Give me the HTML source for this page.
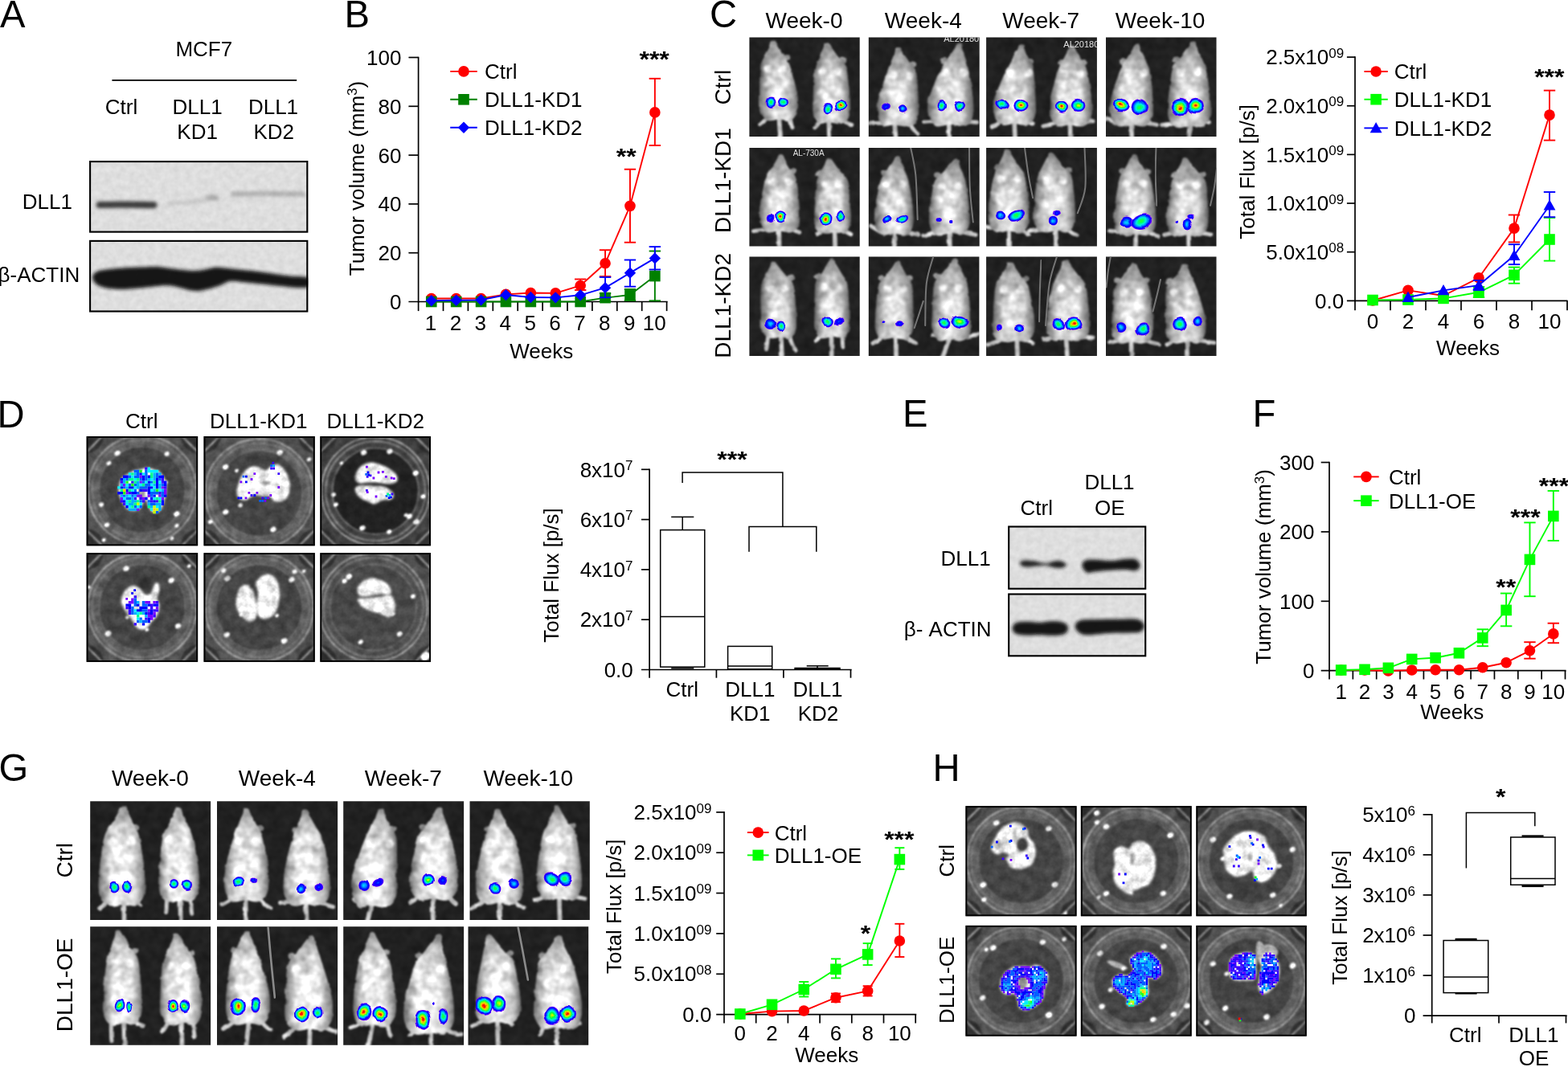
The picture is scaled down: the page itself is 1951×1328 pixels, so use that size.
<!DOCTYPE html>
<html lang="en"><head><meta charset="utf-8"><title>Figure</title>
<style>
html,body{margin:0;padding:0;background:#fff;}
body{width:1951px;height:1328px;overflow:hidden;}
svg{display:block;font-family:"Liberation Sans", sans-serif;}
</style></head><body>
<svg width="1951" height="1328" viewBox="0 0 1951 1328">
<defs>
<filter id="fur" x="0" y="0" width="1" height="1" color-interpolation-filters="sRGB">
<feTurbulence type="fractalNoise" baseFrequency="0.08" numOctaves="2" seed="7" result="n"/>
<feDisplacementMap in="SourceGraphic" in2="n" scale="3.5" xChannelSelector="R" yChannelSelector="G" result="d"/>
<feGaussianBlur in="d" stdDeviation="1" result="b"/>
<feColorMatrix in="n" type="matrix" values="1 0 0 0 0 1 0 0 0 0 1 0 0 0 0 0 0 0 0 1" result="g"/>
<feComposite in="b" in2="g" operator="arithmetic" k1="0.6" k2="0.72" k3="0" k4="0"/>
</filter>
<filter id="well" x="0" y="0" width="1" height="1" color-interpolation-filters="sRGB">
<feTurbulence type="fractalNoise" baseFrequency="0.09" numOctaves="3" seed="11" result="n"/>
<feGaussianBlur in="SourceGraphic" stdDeviation="0.8" result="b"/>
<feColorMatrix in="n" type="matrix" values="1 0 0 0 0 1 0 0 0 0 1 0 0 0 0 0 0 0 0 1" result="g"/>
<feComposite in="b" in2="g" operator="arithmetic" k1="0.6" k2="0.71" k3="0" k4="0"/>
</filter>
<filter id="blot" x="0" y="0" width="1" height="1" color-interpolation-filters="sRGB">
<feTurbulence type="fractalNoise" baseFrequency="0.13" numOctaves="2" seed="5" result="n"/>
<feColorMatrix in="n" type="matrix" values="1 0 0 0 0 1 0 0 0 0 1 0 0 0 0 0 0 0 0 1" result="g"/>
<feComposite in="SourceGraphic" in2="g" operator="arithmetic" k1="0.1" k2="0.95" k3="0" k4="0"/>
</filter>
<filter id="bb" x="0" y="0" width="1" height="1"><feGaussianBlur stdDeviation="2.1"/></filter>
<filter id="b05"><feGaussianBlur stdDeviation="0.5"/></filter>
<filter id="bl" x="-5%" y="-5%" width="110%" height="110%" color-interpolation-filters="sRGB"><feTurbulence type="fractalNoise" baseFrequency="0.07" numOctaves="1" seed="3" result="n"/><feDisplacementMap in="SourceGraphic" in2="n" scale="6" xChannelSelector="R" yChannelSelector="G" result="d"/><feGaussianBlur in="d" stdDeviation="0.6"/></filter>
<filter id="b1"><feGaussianBlur stdDeviation="1"/></filter>
<filter id="b2" x="-30%" y="-30%" width="160%" height="160%"><feGaussianBlur stdDeviation="2"/></filter>
<filter id="b3" x="-30%" y="-30%" width="160%" height="160%"><feGaussianBlur stdDeviation="3"/></filter>
<linearGradient id="mg" x1="0" y1="0" x2="0" y2="1">
<stop offset="0" stop-color="#868686"/><stop offset="0.12" stop-color="#9c9c9c"/><stop offset="0.24" stop-color="#b4b4b4"/><stop offset="0.36" stop-color="#c6c6c6"/><stop offset="0.6" stop-color="#cecece"/><stop offset="0.85" stop-color="#d8d8d8"/><stop offset="1" stop-color="#d0d0d0"/>
</linearGradient>
<linearGradient id="mg2" x1="0" y1="0" x2="0" y2="1">
<stop offset="0" stop-color="#8e8e8e"/><stop offset="0.1" stop-color="#b0b0b0"/><stop offset="0.22" stop-color="#cecece"/><stop offset="0.36" stop-color="#dcdcdc"/><stop offset="0.6" stop-color="#e4e4e4"/><stop offset="0.85" stop-color="#ececec"/><stop offset="1" stop-color="#e0e0e0"/>
</linearGradient>
<linearGradient id="ms" x1="0" y1="0" x2="1" y2="0">
<stop offset="0" stop-color="#000" stop-opacity="0.55"/><stop offset="0.1" stop-color="#000" stop-opacity="0.3"/><stop offset="0.24" stop-color="#000" stop-opacity="0.08"/><stop offset="0.4" stop-color="#000" stop-opacity="0"/><stop offset="0.6" stop-color="#000" stop-opacity="0"/><stop offset="0.76" stop-color="#000" stop-opacity="0.08"/><stop offset="0.9" stop-color="#000" stop-opacity="0.3"/><stop offset="1" stop-color="#000" stop-opacity="0.55"/>
</linearGradient>
<radialGradient id="me" cx="0.5" cy="0.55" r="0.6" gradientTransform="translate(0.5 0.5) scale(0.8 1) translate(-0.5 -0.5)">
<stop offset="0" stop-color="#000" stop-opacity="0"/><stop offset="0.8" stop-color="#000" stop-opacity="0"/><stop offset="1" stop-color="#000" stop-opacity="0.12"/>
</radialGradient>
<radialGradient id="h5"><stop offset="0" stop-color="#ff0000"/><stop offset="0.12" stop-color="#ff2000"/><stop offset="0.26" stop-color="#ffd000"/><stop offset="0.4" stop-color="#80ff00"/><stop offset="0.52" stop-color="#00ff60"/><stop offset="0.64" stop-color="#00e0ff"/><stop offset="0.76" stop-color="#0060ff"/><stop offset="0.86" stop-color="#0000ff"/><stop offset="0.95" stop-color="#5000ff"/><stop offset="1" stop-color="#9000ff"/></radialGradient>
<radialGradient id="h4"><stop offset="0" stop-color="#ffe000"/><stop offset="0.15" stop-color="#a0ff00"/><stop offset="0.34" stop-color="#00ff40"/><stop offset="0.52" stop-color="#00ffd0"/><stop offset="0.68" stop-color="#0080ff"/><stop offset="0.84" stop-color="#0000ff"/><stop offset="0.95" stop-color="#5000ff"/><stop offset="1" stop-color="#9000ff"/></radialGradient>
<radialGradient id="h3"><stop offset="0" stop-color="#30ff20"/><stop offset="0.25" stop-color="#00ff70"/><stop offset="0.45" stop-color="#00f0e0"/><stop offset="0.64" stop-color="#0080ff"/><stop offset="0.82" stop-color="#0000ff"/><stop offset="0.95" stop-color="#5000ff"/><stop offset="1" stop-color="#9000ff"/></radialGradient>
<radialGradient id="h2"><stop offset="0" stop-color="#00e0ff"/><stop offset="0.3" stop-color="#00a0ff"/><stop offset="0.6" stop-color="#0020ff"/><stop offset="0.82" stop-color="#0000ff"/><stop offset="0.95" stop-color="#5000ff"/><stop offset="1" stop-color="#9000ff"/></radialGradient>
<radialGradient id="h1"><stop offset="0" stop-color="#0050ff"/><stop offset="0.4" stop-color="#0000ff"/><stop offset="0.85" stop-color="#3000ff"/><stop offset="1" stop-color="#9000ff"/></radialGradient>
<clipPath id="c1"><rect x="932.4" y="46.4" width="137.3" height="123.7"/></clipPath>
<clipPath id="c2"><rect x="1080.8" y="46.4" width="137.9" height="123.7"/></clipPath>
<clipPath id="c3"><rect x="1227.1" y="46.4" width="137.8" height="123.7"/></clipPath>
<clipPath id="c4"><rect x="1376.0" y="46.4" width="137.5" height="123.7"/></clipPath>
<clipPath id="c5"><rect x="932.4" y="184.0" width="137.3" height="122.6"/></clipPath>
<clipPath id="c6"><rect x="1080.8" y="184.0" width="137.9" height="122.6"/></clipPath>
<clipPath id="c7"><rect x="1227.1" y="184.0" width="137.8" height="122.6"/></clipPath>
<clipPath id="c8"><rect x="1376.0" y="184.0" width="137.5" height="122.6"/></clipPath>
<clipPath id="c9"><rect x="932.4" y="319.6" width="137.3" height="123.3"/></clipPath>
<clipPath id="c10"><rect x="1080.8" y="319.6" width="137.6" height="123.3"/></clipPath>
<clipPath id="c11"><rect x="1227.1" y="319.6" width="137.8" height="123.3"/></clipPath>
<clipPath id="c12"><rect x="1376.0" y="319.6" width="137.5" height="123.3"/></clipPath>
<clipPath id="c13"><rect x="112.2" y="997.2" width="149.9" height="147.7"/></clipPath>
<clipPath id="c14"><rect x="270.0" y="997.2" width="150.1" height="147.7"/></clipPath>
<clipPath id="c15"><rect x="427.2" y="997.2" width="149.9" height="147.7"/></clipPath>
<clipPath id="c16"><rect x="584.5" y="997.2" width="149.3" height="147.7"/></clipPath>
<clipPath id="c17"><rect x="112.2" y="1153.2" width="149.9" height="147.5"/></clipPath>
<clipPath id="c18"><rect x="270.0" y="1153.2" width="150.1" height="147.5"/></clipPath>
<clipPath id="c19"><rect x="427.2" y="1153.2" width="149.9" height="147.5"/></clipPath>
<clipPath id="c20"><rect x="582.5" y="1153.2" width="149.7" height="147.5"/></clipPath>
<clipPath id="c21"><rect x="107.7" y="543.1" width="138.4" height="136.1"/></clipPath>
<clipPath id="c22"><rect x="253.6" y="543.1" width="138.1" height="136.1"/></clipPath>
<clipPath id="c23"><rect x="398.4" y="543.1" width="137.6" height="136.1"/></clipPath>
<clipPath id="c24"><rect x="107.7" y="688.2" width="138.4" height="135.6"/></clipPath>
<clipPath id="c25"><rect x="253.6" y="688.2" width="138.1" height="135.6"/></clipPath>
<clipPath id="c26"><rect x="398.4" y="688.2" width="137.6" height="135.6"/></clipPath>
<clipPath id="c27"><rect x="1201.5" y="1003.2" width="138.0" height="137.0"/></clipPath>
<clipPath id="c28"><rect x="1344.9" y="1003.2" width="137.7" height="137.0"/></clipPath>
<clipPath id="c29"><rect x="1488.4" y="1003.2" width="137.3" height="137.0"/></clipPath>
<clipPath id="c30"><rect x="1201.5" y="1151.9" width="138.0" height="137.7"/></clipPath>
<clipPath id="c31"><rect x="1344.9" y="1151.9" width="137.7" height="137.7"/></clipPath>
<clipPath id="c32"><rect x="1488.4" y="1151.9" width="137.3" height="137.7"/></clipPath>
<clipPath id="c33"><rect x="111.1" y="200.0" width="272.3" height="89.6"/></clipPath>
<clipPath id="c34"><rect x="111.1" y="298.8" width="272.3" height="89.7"/></clipPath>
<clipPath id="c35"><rect x="1254.2" y="654.5" width="172.1" height="79.3"/></clipPath>
<clipPath id="c36"><rect x="1254.2" y="738.5" width="172.1" height="78.9"/></clipPath>
</defs>
<rect width="1951" height="1328" fill="#fff"/>
<g clip-path="url(#c1)">
<g filter="url(#fur)">
<rect x="924.4" y="38.4" width="153.3" height="139.7" fill="#202020"/>
<path d="M969.3 144.4Q970.2 159.9 971.2 171.4" stroke="#c4c4c4" stroke-width="5.6" fill="none" stroke-linecap="round"/>
<path d="M954.8 145.4Q950.1 152.5 945.4 155.5" stroke="#c4c4c4" stroke-width="5" fill="none" stroke-linecap="round"/>
<path d="M982.9 145.4Q984.4 155.7 985.9 158.7" stroke="#c4c4c4" stroke-width="5" fill="none" stroke-linecap="round"/>
<ellipse cx="978.9" cy="71.7" rx="4.4" ry="3.6" fill="#8e8e8e"/>
<path d="M960.2 51.1C961.4 50.2 963.6 50.2 964.9 51.1C966.2 52.1 966.5 54.3 968.0 57.0C969.6 59.7 972.0 63.4 974.3 67.3C976.7 71.1 979.9 74.6 982.2 80.0C984.4 85.3 986.2 93.0 987.9 99.5C989.6 106.0 991.6 112.9 992.3 119.1C993.0 125.2 993.1 132.0 992.3 136.6C991.5 141.3 989.5 144.6 987.6 146.9C985.7 149.2 984.0 150.1 981.0 150.3C977.9 150.6 973.2 148.4 969.3 148.4C965.4 148.4 960.7 150.6 957.5 150.3C954.3 150.1 952.1 149.2 950.1 146.9C948.1 144.6 946.2 141.3 945.4 136.6C944.6 132.0 945.4 125.2 945.4 119.1C945.4 112.9 945.2 106.0 945.4 99.5C945.7 93.0 945.6 85.3 946.8 80.0C948.1 74.6 951.1 71.1 953.0 67.3C954.9 63.4 956.9 59.7 958.1 57.0C959.3 54.3 959.1 52.1 960.2 51.1Z" fill="url(#mg)"/>
<path d="M960.2 51.1C961.4 50.2 963.6 50.2 964.9 51.1C966.2 52.1 966.5 54.3 968.0 57.0C969.6 59.7 972.0 63.4 974.3 67.3C976.7 71.1 979.9 74.6 982.2 80.0C984.4 85.3 986.2 93.0 987.9 99.5C989.6 106.0 991.6 112.9 992.3 119.1C993.0 125.2 993.1 132.0 992.3 136.6C991.5 141.3 989.5 144.6 987.6 146.9C985.7 149.2 984.0 150.1 981.0 150.3C977.9 150.6 973.2 148.4 969.3 148.4C965.4 148.4 960.7 150.6 957.5 150.3C954.3 150.1 952.1 149.2 950.1 146.9C948.1 144.6 946.2 141.3 945.4 136.6C944.6 132.0 945.4 125.2 945.4 119.1C945.4 112.9 945.2 106.0 945.4 99.5C945.7 93.0 945.6 85.3 946.8 80.0C948.1 74.6 951.1 71.1 953.0 67.3C954.9 63.4 956.9 59.7 958.1 57.0C959.3 54.3 959.1 52.1 960.2 51.1Z" fill="url(#ms)"/>
<ellipse cx="968.9" cy="111.2" rx="14.1" ry="19.5" fill="#fff" opacity="0.4" filter="url(#b2)"/>
<ellipse cx="955.1" cy="85.8" rx="4.7" ry="4.9" fill="#fff" opacity="0.7" filter="url(#b1)"/>
<ellipse cx="973.9" cy="85.8" rx="4.7" ry="4.9" fill="#fff" opacity="0.7" filter="url(#b1)"/>
<path d="M1031.2 148.3Q1031.6 161.9 1032.0 171.4" stroke="#c4c4c4" stroke-width="5.6" fill="none" stroke-linecap="round"/>
<path d="M1021.0 149.4Q1017.4 155.7 1013.7 158.7" stroke="#c4c4c4" stroke-width="5" fill="none" stroke-linecap="round"/>
<path d="M1048.3 149.4Q1054.1 154.0 1059.8 155.5" stroke="#c4c4c4" stroke-width="5" fill="none" stroke-linecap="round"/>
<ellipse cx="1048.9" cy="74.4" rx="4.4" ry="3.6" fill="#8e8e8e"/>
<path d="M1026.1 53.5C1027.1 52.5 1029.2 52.5 1030.6 53.5C1032.1 54.5 1032.9 56.8 1034.9 59.5C1036.9 62.2 1039.6 66.0 1042.4 69.9C1045.3 73.8 1049.9 77.4 1052.1 82.8C1054.3 88.3 1054.6 96.1 1055.5 102.7C1056.3 109.3 1057.1 116.3 1057.4 122.6C1057.8 128.8 1058.2 135.7 1057.4 140.4C1056.7 145.1 1055.4 148.5 1052.9 150.9C1050.4 153.2 1046.2 154.1 1042.6 154.3C1039.0 154.6 1035.0 152.3 1031.2 152.3C1027.4 152.3 1022.3 154.6 1019.8 154.3C1017.4 154.1 1017.7 153.2 1016.4 150.9C1015.1 148.5 1012.6 145.1 1011.8 140.4C1011.1 135.7 1011.7 128.8 1011.8 122.6C1011.9 116.3 1012.0 109.3 1012.4 102.7C1012.8 96.1 1013.1 88.3 1014.3 82.8C1015.5 77.4 1018.1 73.8 1019.7 69.9C1021.4 66.0 1023.3 62.2 1024.4 59.5C1025.4 56.8 1025.0 54.5 1026.1 53.5Z" fill="url(#mg)"/>
<path d="M1026.1 53.5C1027.1 52.5 1029.2 52.5 1030.6 53.5C1032.1 54.5 1032.9 56.8 1034.9 59.5C1036.9 62.2 1039.6 66.0 1042.4 69.9C1045.3 73.8 1049.9 77.4 1052.1 82.8C1054.3 88.3 1054.6 96.1 1055.5 102.7C1056.3 109.3 1057.1 116.3 1057.4 122.6C1057.8 128.8 1058.2 135.7 1057.4 140.4C1056.7 145.1 1055.4 148.5 1052.9 150.9C1050.4 153.2 1046.2 154.1 1042.6 154.3C1039.0 154.6 1035.0 152.3 1031.2 152.3C1027.4 152.3 1022.3 154.6 1019.8 154.3C1017.4 154.1 1017.7 153.2 1016.4 150.9C1015.1 148.5 1012.6 145.1 1011.8 140.4C1011.1 135.7 1011.7 128.8 1011.8 122.6C1011.9 116.3 1012.0 109.3 1012.4 102.7C1012.8 96.1 1013.1 88.3 1014.3 82.8C1015.5 77.4 1018.1 73.8 1019.7 69.9C1021.4 66.0 1023.3 62.2 1024.4 59.5C1025.4 56.8 1025.0 54.5 1026.1 53.5Z" fill="url(#ms)"/>
<ellipse cx="1034.6" cy="114.6" rx="13.7" ry="19.9" fill="#fff" opacity="0.4" filter="url(#b2)"/>
<ellipse cx="1024.1" cy="88.8" rx="4.6" ry="5.0" fill="#fff" opacity="0.7" filter="url(#b1)"/>
<ellipse cx="1042.3" cy="88.8" rx="4.6" ry="5.0" fill="#fff" opacity="0.7" filter="url(#b1)"/>
</g>
<g filter="url(#bl)">
<ellipse cx="959.4" cy="127.2" rx="6.0" ry="6.7" fill="url(#h3)"/>
<ellipse cx="974.0" cy="126.6" rx="6.0" ry="6.7" fill="url(#h3)"/>
<ellipse cx="1029.6" cy="135.2" rx="6.0" ry="7.3" fill="url(#h3)"/>
<ellipse cx="1045.8" cy="131.7" rx="7.9" ry="6.4" fill="url(#h5)" transform="rotate(-20 1045.8 131.7)"/>
</g>
</g>
<g clip-path="url(#c2)">
<g filter="url(#fur)">
<rect x="1072.8" y="38.4" width="153.9" height="139.7" fill="#202020"/>
<path d="M1113.1 151.5Q1113.8 163.5 1114.6 171.4" stroke="#c4c4c4" stroke-width="5.6" fill="none" stroke-linecap="round"/>
<path d="M1102.4 152.6Q1091.8 151.6 1081.3 153.1" stroke="#c4c4c4" stroke-width="5" fill="none" stroke-linecap="round"/>
<path d="M1132.4 152.6Q1137.0 163.6 1141.7 166.6" stroke="#c4c4c4" stroke-width="5" fill="none" stroke-linecap="round"/>
<ellipse cx="1135.9" cy="80.1" rx="4.4" ry="3.6" fill="#8e8e8e"/>
<path d="M1114.5 59.9C1115.6 58.9 1118.1 58.9 1119.5 59.9C1121.0 60.8 1121.4 63.0 1123.2 65.6C1125.0 68.3 1127.7 72.0 1130.4 75.7C1133.1 79.5 1137.5 82.9 1139.4 88.2C1141.2 93.5 1141.1 101.1 1141.7 107.5C1142.2 113.9 1142.3 120.6 1142.5 126.7C1142.6 132.8 1143.3 139.4 1142.5 144.0C1141.6 148.6 1140.3 151.8 1137.4 154.1C1134.6 156.3 1129.6 157.2 1125.6 157.4C1121.5 157.7 1117.2 155.5 1113.1 155.5C1108.9 155.5 1103.2 157.7 1100.5 157.4C1097.9 157.2 1098.8 156.3 1097.4 154.1C1096.0 151.8 1093.2 148.6 1092.4 144.0C1091.6 139.4 1091.5 132.8 1092.4 126.7C1093.3 120.6 1095.6 113.9 1097.6 107.5C1099.5 101.1 1102.3 93.5 1104.2 88.2C1106.1 82.9 1107.5 79.5 1109.0 75.7C1110.5 72.0 1112.4 68.3 1113.3 65.6C1114.2 63.0 1113.5 60.8 1114.5 59.9Z" fill="url(#mg)"/>
<path d="M1114.5 59.9C1115.6 58.9 1118.1 58.9 1119.5 59.9C1121.0 60.8 1121.4 63.0 1123.2 65.6C1125.0 68.3 1127.7 72.0 1130.4 75.7C1133.1 79.5 1137.5 82.9 1139.4 88.2C1141.2 93.5 1141.1 101.1 1141.7 107.5C1142.2 113.9 1142.3 120.6 1142.5 126.7C1142.6 132.8 1143.3 139.4 1142.5 144.0C1141.6 148.6 1140.3 151.8 1137.4 154.1C1134.6 156.3 1129.6 157.2 1125.6 157.4C1121.5 157.7 1117.2 155.5 1113.1 155.5C1108.9 155.5 1103.2 157.7 1100.5 157.4C1097.9 157.2 1098.8 156.3 1097.4 154.1C1096.0 151.8 1093.2 148.6 1092.4 144.0C1091.6 139.4 1091.5 132.8 1092.4 126.7C1093.3 120.6 1095.6 113.9 1097.6 107.5C1099.5 101.1 1102.3 93.5 1104.2 88.2C1106.1 82.9 1107.5 79.5 1109.0 75.7C1110.5 72.0 1112.4 68.3 1113.3 65.6C1114.2 63.0 1113.5 60.8 1114.5 59.9Z" fill="url(#ms)"/>
<ellipse cx="1117.4" cy="119.0" rx="15.0" ry="19.2" fill="#fff" opacity="0.4" filter="url(#b2)"/>
<ellipse cx="1111.8" cy="94.0" rx="5.0" ry="4.8" fill="#fff" opacity="0.7" filter="url(#b1)"/>
<ellipse cx="1131.8" cy="94.0" rx="5.0" ry="4.8" fill="#fff" opacity="0.7" filter="url(#b1)"/>
<path d="M1180.6 151.5Q1181.0 163.5 1181.4 171.4" stroke="#c4c4c4" stroke-width="5.6" fill="none" stroke-linecap="round"/>
<path d="M1166.3 152.5Q1157.9 151.0 1149.6 152.3" stroke="#c4c4c4" stroke-width="5" fill="none" stroke-linecap="round"/>
<path d="M1199.7 152.5Q1207.6 151.0 1215.5 152.3" stroke="#c4c4c4" stroke-width="5" fill="none" stroke-linecap="round"/>
<ellipse cx="1175.0" cy="75.7" rx="4.4" ry="3.6" fill="#8e8e8e"/>
<path d="M1191.3 54.3C1192.8 53.3 1195.9 53.3 1196.9 54.3C1197.9 55.4 1196.5 57.6 1197.2 60.4C1197.8 63.2 1199.6 67.1 1200.8 71.1C1202.0 75.1 1203.1 78.7 1204.3 84.3C1205.6 89.9 1207.3 97.9 1208.4 104.7C1209.5 111.5 1210.4 118.6 1210.8 125.0C1211.2 131.5 1211.7 138.5 1210.8 143.3C1209.8 148.2 1207.9 151.6 1205.2 154.0C1202.5 156.4 1198.6 157.3 1194.5 157.6C1190.4 157.8 1185.2 155.5 1180.6 155.5C1175.9 155.5 1170.0 157.8 1166.7 157.6C1163.4 157.3 1162.6 156.4 1160.7 154.0C1158.8 151.6 1156.1 148.2 1155.2 143.3C1154.2 138.5 1154.0 131.5 1155.2 125.0C1156.4 118.6 1159.7 111.5 1162.3 104.7C1165.0 97.9 1168.1 89.9 1171.1 84.3C1174.1 78.7 1177.5 75.1 1180.3 71.1C1183.1 67.1 1185.9 63.2 1187.7 60.4C1189.5 57.6 1189.8 55.4 1191.3 54.3Z" fill="url(#mg)"/>
<path d="M1191.3 54.3C1192.8 53.3 1195.9 53.3 1196.9 54.3C1197.9 55.4 1196.5 57.6 1197.2 60.4C1197.8 63.2 1199.6 67.1 1200.8 71.1C1202.0 75.1 1203.1 78.7 1204.3 84.3C1205.6 89.9 1207.3 97.9 1208.4 104.7C1209.5 111.5 1210.4 118.6 1210.8 125.0C1211.2 131.5 1211.7 138.5 1210.8 143.3C1209.8 148.2 1207.9 151.6 1205.2 154.0C1202.5 156.4 1198.6 157.3 1194.5 157.6C1190.4 157.8 1185.2 155.5 1180.6 155.5C1175.9 155.5 1170.0 157.8 1166.7 157.6C1163.4 157.3 1162.6 156.4 1160.7 154.0C1158.8 151.6 1156.1 148.2 1155.2 143.3C1154.2 138.5 1154.0 131.5 1155.2 125.0C1156.4 118.6 1159.7 111.5 1162.3 104.7C1165.0 97.9 1168.1 89.9 1171.1 84.3C1174.1 78.7 1177.5 75.1 1180.3 71.1C1183.1 67.1 1185.9 63.2 1187.7 60.4C1189.5 57.6 1189.8 55.4 1191.3 54.3Z" fill="url(#ms)"/>
<ellipse cx="1183.0" cy="116.9" rx="16.7" ry="20.3" fill="#fff" opacity="0.4" filter="url(#b2)"/>
<ellipse cx="1176.6" cy="90.4" rx="5.6" ry="5.1" fill="#fff" opacity="0.7" filter="url(#b1)"/>
<ellipse cx="1198.9" cy="90.4" rx="5.6" ry="5.1" fill="#fff" opacity="0.7" filter="url(#b1)"/>
</g>
<text x="1174.2" y="52.2" font-size="11" fill="#e0e0e0" filter="url(#b05)">AL20180</text>
<g filter="url(#bl)">
<ellipse cx="1101.9" cy="133.0" rx="5.1" ry="4.4" fill="url(#h1)"/>
<ellipse cx="1123.7" cy="136.0" rx="6.0" ry="4.8" fill="url(#h2)"/>
<ellipse cx="1171.8" cy="131.7" rx="6.4" ry="6.7" fill="url(#h3)"/>
<ellipse cx="1194.1" cy="131.7" rx="7.0" ry="6.7" fill="url(#h3)"/>
</g>
</g>
<g clip-path="url(#c3)">
<g filter="url(#fur)">
<rect x="1219.1" y="38.4" width="153.8" height="139.7" fill="#202020"/>
<path d="M1262.1 149.9Q1262.5 162.7 1262.9 171.4" stroke="#c4c4c4" stroke-width="5.6" fill="none" stroke-linecap="round"/>
<path d="M1247.0 151.0Q1240.7 155.6 1234.3 157.1" stroke="#c4c4c4" stroke-width="5" fill="none" stroke-linecap="round"/>
<path d="M1278.0 151.0Q1281.6 152.4 1285.1 153.9" stroke="#c4c4c4" stroke-width="5" fill="none" stroke-linecap="round"/>
<ellipse cx="1281.6" cy="76.6" rx="4.4" ry="3.6" fill="#8e8e8e"/>
<path d="M1268.3 55.9C1269.5 54.9 1272.3 54.9 1273.4 55.9C1274.5 56.9 1273.9 59.1 1275.0 61.8C1276.0 64.5 1278.0 68.3 1279.7 72.2C1281.4 76.0 1283.9 79.6 1285.2 85.0C1286.5 90.4 1287.0 98.1 1287.5 104.7C1288.1 111.2 1288.2 118.1 1288.3 124.4C1288.5 130.6 1289.2 137.4 1288.3 142.1C1287.5 146.8 1285.4 150.2 1283.2 152.5C1280.9 154.8 1278.5 155.7 1275.0 155.9C1271.5 156.2 1266.4 153.9 1262.1 153.9C1257.8 153.9 1252.6 156.2 1249.2 155.9C1245.8 155.7 1243.9 154.8 1241.8 152.5C1239.8 150.2 1237.5 146.8 1236.7 142.1C1235.8 137.4 1235.4 130.6 1236.7 124.4C1237.9 118.1 1241.5 111.2 1244.2 104.7C1247.0 98.1 1250.7 90.4 1253.3 85.0C1256.0 79.6 1258.1 76.0 1260.2 72.2C1262.3 68.3 1264.5 64.5 1265.9 61.8C1267.2 59.1 1267.0 56.9 1268.3 55.9Z" fill="url(#mg)"/>
<path d="M1268.3 55.9C1269.5 54.9 1272.3 54.9 1273.4 55.9C1274.5 56.9 1273.9 59.1 1275.0 61.8C1276.0 64.5 1278.0 68.3 1279.7 72.2C1281.4 76.0 1283.9 79.6 1285.2 85.0C1286.5 90.4 1287.0 98.1 1287.5 104.7C1288.1 111.2 1288.2 118.1 1288.3 124.4C1288.5 130.6 1289.2 137.4 1288.3 142.1C1287.5 146.8 1285.4 150.2 1283.2 152.5C1280.9 154.8 1278.5 155.7 1275.0 155.9C1271.5 156.2 1266.4 153.9 1262.1 153.9C1257.8 153.9 1252.6 156.2 1249.2 155.9C1245.8 155.7 1243.9 154.8 1241.8 152.5C1239.8 150.2 1237.5 146.8 1236.7 142.1C1235.8 137.4 1235.4 130.6 1236.7 124.4C1237.9 118.1 1241.5 111.2 1244.2 104.7C1247.0 98.1 1250.7 90.4 1253.3 85.0C1256.0 79.6 1258.1 76.0 1260.2 72.2C1262.3 68.3 1264.5 64.5 1265.9 61.8C1267.2 59.1 1267.0 56.9 1268.3 55.9Z" fill="url(#ms)"/>
<ellipse cx="1262.5" cy="116.5" rx="15.5" ry="19.7" fill="#fff" opacity="0.4" filter="url(#b2)"/>
<ellipse cx="1258.9" cy="90.9" rx="5.2" ry="4.9" fill="#fff" opacity="0.7" filter="url(#b1)"/>
<ellipse cx="1279.6" cy="90.9" rx="5.2" ry="4.9" fill="#fff" opacity="0.7" filter="url(#b1)"/>
<path d="M1331.2 151.5Q1331.6 163.5 1332.0 171.4" stroke="#c4c4c4" stroke-width="5.6" fill="none" stroke-linecap="round"/>
<path d="M1316.9 152.5Q1307.4 155.6 1297.9 157.1" stroke="#c4c4c4" stroke-width="5" fill="none" stroke-linecap="round"/>
<path d="M1347.9 152.5Q1353.9 151.0 1359.8 150.8" stroke="#c4c4c4" stroke-width="5" fill="none" stroke-linecap="round"/>
<ellipse cx="1320.5" cy="77.6" rx="4.4" ry="3.6" fill="#8e8e8e"/>
<ellipse cx="1348.3" cy="77.6" rx="4.4" ry="3.6" fill="#8e8e8e"/>
<path d="M1331.0 56.7C1332.2 55.7 1334.9 55.7 1336.2 56.7C1337.5 57.7 1337.3 59.9 1338.8 62.7C1340.2 65.4 1342.5 69.2 1344.7 73.1C1346.9 77.0 1350.1 80.5 1351.9 86.0C1353.8 91.5 1354.8 99.3 1355.9 105.9C1356.9 112.5 1357.8 119.4 1358.2 125.7C1358.6 132.0 1359.1 138.9 1358.2 143.6C1357.4 148.3 1355.4 151.7 1353.1 154.0C1350.7 156.4 1347.8 157.3 1344.1 157.5C1340.5 157.8 1335.5 155.5 1331.2 155.5C1326.9 155.5 1321.6 157.8 1318.3 157.5C1315.1 157.3 1313.7 156.4 1311.8 154.0C1309.8 151.7 1307.5 148.3 1306.6 143.6C1305.7 138.9 1305.9 132.0 1306.6 125.7C1307.3 119.4 1309.3 112.5 1311.0 105.9C1312.7 99.3 1314.8 91.5 1316.9 86.0C1319.0 80.5 1321.4 77.0 1323.4 73.1C1325.4 69.2 1327.6 65.4 1328.9 62.7C1330.1 59.9 1329.8 57.7 1331.0 56.7Z" fill="url(#mg)"/>
<path d="M1331.0 56.7C1332.2 55.7 1334.9 55.7 1336.2 56.7C1337.5 57.7 1337.3 59.9 1338.8 62.7C1340.2 65.4 1342.5 69.2 1344.7 73.1C1346.9 77.0 1350.1 80.5 1351.9 86.0C1353.8 91.5 1354.8 99.3 1355.9 105.9C1356.9 112.5 1357.8 119.4 1358.2 125.7C1358.6 132.0 1359.1 138.9 1358.2 143.6C1357.4 148.3 1355.4 151.7 1353.1 154.0C1350.7 156.4 1347.8 157.3 1344.1 157.5C1340.5 157.8 1335.5 155.5 1331.2 155.5C1326.9 155.5 1321.6 157.8 1318.3 157.5C1315.1 157.3 1313.7 156.4 1311.8 154.0C1309.8 151.7 1307.5 148.3 1306.6 143.6C1305.7 138.9 1305.9 132.0 1306.6 125.7C1307.3 119.4 1309.3 112.5 1311.0 105.9C1312.7 99.3 1314.8 91.5 1316.9 86.0C1319.0 80.5 1321.4 77.0 1323.4 73.1C1325.4 69.2 1327.6 65.4 1328.9 62.7C1330.1 59.9 1329.8 57.7 1331.0 56.7Z" fill="url(#ms)"/>
<ellipse cx="1332.4" cy="117.8" rx="15.5" ry="19.9" fill="#fff" opacity="0.4" filter="url(#b2)"/>
<ellipse cx="1324.1" cy="92.0" rx="5.2" ry="5.0" fill="#fff" opacity="0.7" filter="url(#b1)"/>
<ellipse cx="1344.7" cy="92.0" rx="5.2" ry="5.0" fill="#fff" opacity="0.7" filter="url(#b1)"/>
</g>
<text x="1323.3" y="58.6" font-size="11" fill="#e0e0e0" filter="url(#b05)">AL20180</text>
<g filter="url(#bl)">
<ellipse cx="1247.0" cy="129.8" rx="9.2" ry="6.0" fill="url(#h3)" transform="rotate(20 1247.0 129.8)"/>
<ellipse cx="1270.5" cy="131.4" rx="9.2" ry="8.3" fill="url(#h5)"/>
<ellipse cx="1320.9" cy="133.0" rx="8.3" ry="7.6" fill="url(#h5)" transform="rotate(20 1320.9 133.0)"/>
<ellipse cx="1341.6" cy="131.4" rx="7.9" ry="7.6" fill="url(#h4)"/>
</g>
</g>
<g clip-path="url(#c4)">
<g filter="url(#fur)">
<rect x="1368.0" y="38.4" width="153.5" height="139.7" fill="#202020"/>
<path d="M1407.5 151.5Q1407.9 163.5 1408.3 171.4" stroke="#c4c4c4" stroke-width="5.6" fill="none" stroke-linecap="round"/>
<path d="M1392.6 152.5Q1384.5 151.0 1376.5 148.4" stroke="#c4c4c4" stroke-width="5" fill="none" stroke-linecap="round"/>
<path d="M1424.0 152.5Q1431.6 154.0 1439.3 155.5" stroke="#c4c4c4" stroke-width="5" fill="none" stroke-linecap="round"/>
<ellipse cx="1398.4" cy="76.3" rx="4.4" ry="3.6" fill="#8e8e8e"/>
<path d="M1412.0 55.1C1413.4 54.1 1416.1 54.1 1417.3 55.1C1418.4 56.1 1417.9 58.4 1419.0 61.2C1420.1 64.0 1422.2 67.8 1424.0 71.8C1425.8 75.7 1428.3 79.3 1429.8 84.9C1431.2 90.4 1432.1 98.4 1432.9 105.1C1433.7 111.8 1434.2 118.9 1434.5 125.3C1434.8 131.6 1435.4 138.6 1434.5 143.4C1433.6 148.2 1431.6 151.7 1429.3 154.0C1426.9 156.4 1424.2 157.3 1420.6 157.5C1417.0 157.8 1411.9 155.5 1407.5 155.5C1403.1 155.5 1397.7 157.8 1394.4 157.5C1391.0 157.3 1389.4 156.4 1387.3 154.0C1385.3 151.7 1382.9 148.2 1382.1 143.4C1381.2 138.6 1381.1 131.6 1382.1 125.3C1383.0 118.9 1385.5 111.8 1387.6 105.1C1389.7 98.4 1392.3 90.4 1394.8 84.9C1397.3 79.3 1400.2 75.7 1402.6 71.8C1405.0 67.8 1407.5 64.0 1409.1 61.2C1410.6 58.4 1410.7 56.1 1412.0 55.1Z" fill="url(#mg)"/>
<path d="M1412.0 55.1C1413.4 54.1 1416.1 54.1 1417.3 55.1C1418.4 56.1 1417.9 58.4 1419.0 61.2C1420.1 64.0 1422.2 67.8 1424.0 71.8C1425.8 75.7 1428.3 79.3 1429.8 84.9C1431.2 90.4 1432.1 98.4 1432.9 105.1C1433.7 111.8 1434.2 118.9 1434.5 125.3C1434.8 131.6 1435.4 138.6 1434.5 143.4C1433.6 148.2 1431.6 151.7 1429.3 154.0C1426.9 156.4 1424.2 157.3 1420.6 157.5C1417.0 157.8 1411.9 155.5 1407.5 155.5C1403.1 155.5 1397.7 157.8 1394.4 157.5C1391.0 157.3 1389.4 156.4 1387.3 154.0C1385.3 151.7 1382.9 148.2 1382.1 143.4C1381.2 138.6 1381.1 131.6 1382.1 125.3C1383.0 118.9 1385.5 111.8 1387.6 105.1C1389.7 98.4 1392.3 90.4 1394.8 84.9C1397.3 79.3 1400.2 75.7 1402.6 71.8C1405.0 67.8 1407.5 64.0 1409.1 61.2C1410.6 58.4 1410.7 56.1 1412.0 55.1Z" fill="url(#ms)"/>
<ellipse cx="1408.3" cy="117.2" rx="15.7" ry="20.2" fill="#fff" opacity="0.4" filter="url(#b2)"/>
<ellipse cx="1401.8" cy="91.0" rx="5.2" ry="5.0" fill="#fff" opacity="0.7" filter="url(#b1)"/>
<ellipse cx="1422.7" cy="91.0" rx="5.2" ry="5.0" fill="#fff" opacity="0.7" filter="url(#b1)"/>
<path d="M1480.6 153.1Q1479.8 164.3 1479.0 171.4" stroke="#c4c4c4" stroke-width="5.6" fill="none" stroke-linecap="round"/>
<path d="M1464.1 153.9Q1454.8 154.0 1445.6 155.5" stroke="#c4c4c4" stroke-width="5" fill="none" stroke-linecap="round"/>
<path d="M1495.5 153.9Q1500.0 152.4 1504.4 152.3" stroke="#c4c4c4" stroke-width="5" fill="none" stroke-linecap="round"/>
<ellipse cx="1463.6" cy="74.2" rx="4.4" ry="3.6" fill="#8e8e8e"/>
<path d="M1481.9 52.0C1483.5 50.9 1486.0 50.9 1487.2 52.0C1488.3 53.0 1487.8 55.4 1488.9 58.3C1490.0 61.2 1492.1 65.3 1493.9 69.4C1495.7 73.6 1498.0 77.3 1499.7 83.1C1501.3 89.0 1502.6 97.2 1503.6 104.3C1504.7 111.3 1505.6 118.7 1506.0 125.4C1506.4 132.1 1506.9 139.4 1506.0 144.4C1505.1 149.5 1502.8 153.1 1500.8 155.5C1498.7 158.0 1497.1 159.0 1493.7 159.2C1490.3 159.5 1485.0 157.1 1480.6 157.1C1476.2 157.1 1471.1 159.5 1467.5 159.2C1463.8 159.0 1461.1 158.0 1458.8 155.5C1456.5 153.1 1454.4 149.5 1453.6 144.4C1452.7 139.4 1453.2 132.1 1453.6 125.4C1454.0 118.7 1454.9 111.3 1456.0 104.3C1457.0 97.2 1457.6 89.0 1459.9 83.1C1462.2 77.3 1466.9 73.6 1469.9 69.4C1472.8 65.3 1475.7 61.2 1477.7 58.3C1479.8 55.4 1480.4 53.0 1481.9 52.0Z" fill="url(#mg)"/>
<path d="M1481.9 52.0C1483.5 50.9 1486.0 50.9 1487.2 52.0C1488.3 53.0 1487.8 55.4 1488.9 58.3C1490.0 61.2 1492.1 65.3 1493.9 69.4C1495.7 73.6 1498.0 77.3 1499.7 83.1C1501.3 89.0 1502.6 97.2 1503.6 104.3C1504.7 111.3 1505.6 118.7 1506.0 125.4C1506.4 132.1 1506.9 139.4 1506.0 144.4C1505.1 149.5 1502.8 153.1 1500.8 155.5C1498.7 158.0 1497.1 159.0 1493.7 159.2C1490.3 159.5 1485.0 157.1 1480.6 157.1C1476.2 157.1 1471.1 159.5 1467.5 159.2C1463.8 159.0 1461.1 158.0 1458.8 155.5C1456.5 153.1 1454.4 149.5 1453.6 144.4C1452.7 139.4 1453.2 132.1 1453.6 125.4C1454.0 118.7 1454.9 111.3 1456.0 104.3C1457.0 97.2 1457.6 89.0 1459.9 83.1C1462.2 77.3 1466.9 73.6 1469.9 69.4C1472.8 65.3 1475.7 61.2 1477.7 58.3C1479.8 55.4 1480.4 53.0 1481.9 52.0Z" fill="url(#ms)"/>
<ellipse cx="1479.8" cy="117.0" rx="15.7" ry="21.1" fill="#fff" opacity="0.4" filter="url(#b2)"/>
<ellipse cx="1469.3" cy="89.5" rx="5.2" ry="5.3" fill="#fff" opacity="0.7" filter="url(#b1)"/>
<ellipse cx="1490.3" cy="89.5" rx="5.2" ry="5.3" fill="#fff" opacity="0.7" filter="url(#b1)"/>
</g>
<g filter="url(#bl)">
<ellipse cx="1394.8" cy="130.4" rx="10.2" ry="7.9" fill="url(#h5)" transform="rotate(15 1394.8 130.4)"/>
<ellipse cx="1417.8" cy="133.3" rx="10.3" ry="10.3" fill="url(#h3)"/>
<ellipse cx="1468.7" cy="133.6" rx="11.1" ry="10.8" fill="url(#h5)"/>
<ellipse cx="1487.7" cy="131.7" rx="10.3" ry="9.9" fill="url(#h5)"/>
</g>
</g>
<g clip-path="url(#c5)">
<g filter="url(#fur)">
<rect x="924.4" y="176.0" width="153.3" height="138.6" fill="#202020"/>
<path d="M969.3 283.6Q969.4 297.9 969.6 308.2" stroke="#c4c4c4" stroke-width="5.6" fill="none" stroke-linecap="round"/>
<path d="M955.3 284.7Q946.4 286.1 937.5 287.6" stroke="#c4c4c4" stroke-width="5" fill="none" stroke-linecap="round"/>
<path d="M984.8 284.7Q989.8 287.7 994.7 289.2" stroke="#c4c4c4" stroke-width="5" fill="none" stroke-linecap="round"/>
<ellipse cx="986.6" cy="212.7" rx="4.4" ry="3.6" fill="#8e8e8e"/>
<path d="M969.2 192.7C970.4 191.8 972.8 191.8 974.1 192.7C975.4 193.7 975.4 195.8 976.8 198.4C978.2 201.1 980.6 204.7 982.8 208.5C985.0 212.2 988.3 215.6 990.0 220.8C991.7 226.1 992.3 233.6 993.1 239.9C993.9 246.3 994.4 252.9 994.7 259.0C994.9 265.0 995.5 271.6 994.7 276.1C993.9 280.7 991.9 283.9 989.8 286.2C987.6 288.4 985.0 289.2 981.6 289.5C978.2 289.7 973.4 287.6 969.3 287.6C965.2 287.6 960.1 289.7 956.9 289.5C953.8 289.2 952.3 288.4 950.3 286.2C948.4 283.9 946.2 280.7 945.4 276.1C944.6 271.6 944.9 265.0 945.4 259.0C946.0 252.9 947.3 246.3 948.6 239.9C949.9 233.6 951.3 226.1 953.3 220.8C955.2 215.6 958.3 212.2 960.5 208.5C962.7 204.7 965.0 201.1 966.5 198.4C967.9 195.8 967.9 193.7 969.2 192.7Z" fill="url(#mg)"/>
<path d="M969.2 192.7C970.4 191.8 972.8 191.8 974.1 192.7C975.4 193.7 975.4 195.8 976.8 198.4C978.2 201.1 980.6 204.7 982.8 208.5C985.0 212.2 988.3 215.6 990.0 220.8C991.7 226.1 992.3 233.6 993.1 239.9C993.9 246.3 994.4 252.9 994.7 259.0C994.9 265.0 995.5 271.6 994.7 276.1C993.9 280.7 991.9 283.9 989.8 286.2C987.6 288.4 985.0 289.2 981.6 289.5C978.2 289.7 973.4 287.6 969.3 287.6C965.2 287.6 960.1 289.7 956.9 289.5C953.8 289.2 952.3 288.4 950.3 286.2C948.4 283.9 946.2 280.7 945.4 276.1C944.6 271.6 944.9 265.0 945.4 259.0C946.0 252.9 947.3 246.3 948.6 239.9C949.9 233.6 951.3 226.1 953.3 220.8C955.2 215.6 958.3 212.2 960.5 208.5C962.7 204.7 965.0 201.1 966.5 198.4C967.9 195.8 967.9 193.7 969.2 192.7Z" fill="url(#ms)"/>
<ellipse cx="970.1" cy="251.4" rx="14.8" ry="19.1" fill="#fff" opacity="0.4" filter="url(#b2)"/>
<ellipse cx="961.8" cy="226.6" rx="4.9" ry="4.8" fill="#fff" opacity="0.7" filter="url(#b1)"/>
<ellipse cx="981.5" cy="226.6" rx="4.9" ry="4.8" fill="#fff" opacity="0.7" filter="url(#b1)"/>
<path d="M1038.4 285.2Q1038.8 298.7 1039.2 308.2" stroke="#c4c4c4" stroke-width="5.6" fill="none" stroke-linecap="round"/>
<path d="M1022.6 286.4Q1019.8 290.1 1016.9 291.6" stroke="#c4c4c4" stroke-width="5" fill="none" stroke-linecap="round"/>
<path d="M1049.3 286.4Q1054.6 290.1 1059.8 291.6" stroke="#c4c4c4" stroke-width="5" fill="none" stroke-linecap="round"/>
<ellipse cx="1019.8" cy="216.2" rx="4.4" ry="3.6" fill="#8e8e8e"/>
<path d="M1029.0 196.7C1030.1 195.8 1032.0 195.8 1033.4 196.7C1034.9 197.6 1035.6 199.7 1037.4 202.3C1039.3 204.8 1041.9 208.4 1044.6 212.0C1047.3 215.7 1051.7 219.0 1053.7 224.1C1055.7 229.2 1055.9 236.5 1056.6 242.7C1057.4 248.9 1058.0 255.4 1058.2 261.3C1058.5 267.2 1059.0 273.6 1058.2 278.0C1057.5 282.4 1055.2 285.6 1053.8 287.8C1052.3 289.9 1052.1 290.8 1049.5 291.0C1046.9 291.3 1042.1 289.2 1038.4 289.2C1034.7 289.2 1030.6 291.3 1027.3 291.0C1023.9 290.8 1020.4 289.9 1018.2 287.8C1015.9 285.6 1014.5 282.4 1013.7 278.0C1013.0 273.6 1013.6 267.2 1013.7 261.3C1013.9 255.4 1014.1 248.9 1014.5 242.7C1015.0 236.5 1015.4 229.2 1016.7 224.1C1018.0 219.0 1020.6 215.7 1022.3 212.0C1024.1 208.4 1026.0 204.8 1027.1 202.3C1028.2 199.7 1027.9 197.6 1029.0 196.7Z" fill="url(#mg)"/>
<path d="M1029.0 196.7C1030.1 195.8 1032.0 195.8 1033.4 196.7C1034.9 197.6 1035.6 199.7 1037.4 202.3C1039.3 204.8 1041.9 208.4 1044.6 212.0C1047.3 215.7 1051.7 219.0 1053.7 224.1C1055.7 229.2 1055.9 236.5 1056.6 242.7C1057.4 248.9 1058.0 255.4 1058.2 261.3C1058.5 267.2 1059.0 273.6 1058.2 278.0C1057.5 282.4 1055.2 285.6 1053.8 287.8C1052.3 289.9 1052.1 290.8 1049.5 291.0C1046.9 291.3 1042.1 289.2 1038.4 289.2C1034.7 289.2 1030.6 291.3 1027.3 291.0C1023.9 290.8 1020.4 289.9 1018.2 287.8C1015.9 285.6 1014.5 282.4 1013.7 278.0C1013.0 273.6 1013.6 267.2 1013.7 261.3C1013.9 255.4 1014.1 248.9 1014.5 242.7C1015.0 236.5 1015.4 229.2 1016.7 224.1C1018.0 219.0 1020.6 215.7 1022.3 212.0C1024.1 208.4 1026.0 204.8 1027.1 202.3C1028.2 199.7 1027.9 197.6 1029.0 196.7Z" fill="url(#ms)"/>
<ellipse cx="1036.0" cy="253.8" rx="13.3" ry="18.6" fill="#fff" opacity="0.4" filter="url(#b2)"/>
<ellipse cx="1026.3" cy="229.7" rx="4.4" ry="4.6" fill="#fff" opacity="0.7" filter="url(#b1)"/>
<ellipse cx="1044.1" cy="229.7" rx="4.4" ry="4.6" fill="#fff" opacity="0.7" filter="url(#b1)"/>
</g>
<text x="986.7" y="194.2" font-size="10" fill="#e0e0e0" filter="url(#b05)">AL-730A</text>
<g filter="url(#bl)">
<ellipse cx="958.1" cy="271.4" rx="4.4" ry="5.7" fill="url(#h1)"/>
<ellipse cx="970.8" cy="269.3" rx="7.6" ry="7.0" fill="url(#h5)"/>
<ellipse cx="1027.3" cy="272.5" rx="8.3" ry="7.2" fill="url(#h5)"/>
<ellipse cx="1045.8" cy="268.5" rx="5.6" ry="6.4" fill="url(#h3)"/>
</g>
</g>
<g clip-path="url(#c6)">
<g filter="url(#fur)">
<rect x="1072.8" y="176.0" width="153.9" height="138.6" fill="#202020"/>
<path d="M1112.3 286.8Q1112.7 299.5 1113.1 308.2" stroke="#c4c4c4" stroke-width="5.6" fill="none" stroke-linecap="round"/>
<path d="M1098.0 287.9Q1090.8 286.4 1083.7 281.2" stroke="#c4c4c4" stroke-width="5" fill="none" stroke-linecap="round"/>
<path d="M1126.6 287.9Q1134.5 290.8 1142.5 292.3" stroke="#c4c4c4" stroke-width="5" fill="none" stroke-linecap="round"/>
<ellipse cx="1099.5" cy="215.3" rx="4.4" ry="3.6" fill="#8e8e8e"/>
<path d="M1114.6 195.1C1116.0 194.1 1118.4 194.1 1119.4 195.1C1120.4 196.1 1119.8 198.2 1120.7 200.9C1121.7 203.5 1123.5 207.2 1125.0 211.0C1126.6 214.7 1128.5 218.2 1129.9 223.5C1131.3 228.8 1132.7 236.3 1133.7 242.7C1134.7 249.1 1135.7 255.8 1136.1 261.9C1136.5 268.0 1136.9 274.7 1136.1 279.2C1135.3 283.8 1133.3 287.1 1131.3 289.3C1129.3 291.6 1127.4 292.4 1124.2 292.7C1121.0 292.9 1116.2 290.8 1112.3 290.8C1108.3 290.8 1103.5 292.9 1100.3 292.7C1097.2 292.4 1095.2 291.6 1093.2 289.3C1091.2 287.1 1089.2 283.8 1088.4 279.2C1087.6 274.7 1087.9 268.0 1088.4 261.9C1089.0 255.8 1090.3 249.1 1091.6 242.7C1092.9 236.3 1094.1 228.8 1096.2 223.5C1098.4 218.2 1102.1 214.7 1104.6 211.0C1107.1 207.2 1109.6 203.5 1111.2 200.9C1112.9 198.2 1113.3 196.1 1114.6 195.1Z" fill="url(#mg)"/>
<path d="M1114.6 195.1C1116.0 194.1 1118.4 194.1 1119.4 195.1C1120.4 196.1 1119.8 198.2 1120.7 200.9C1121.7 203.5 1123.5 207.2 1125.0 211.0C1126.6 214.7 1128.5 218.2 1129.9 223.5C1131.3 228.8 1132.7 236.3 1133.7 242.7C1134.7 249.1 1135.7 255.8 1136.1 261.9C1136.5 268.0 1136.9 274.7 1136.1 279.2C1135.3 283.8 1133.3 287.1 1131.3 289.3C1129.3 291.6 1127.4 292.4 1124.2 292.7C1121.0 292.9 1116.2 290.8 1112.3 290.8C1108.3 290.8 1103.5 292.9 1100.3 292.7C1097.2 292.4 1095.2 291.6 1093.2 289.3C1091.2 287.1 1089.2 283.8 1088.4 279.2C1087.6 274.7 1087.9 268.0 1088.4 261.9C1089.0 255.8 1090.3 249.1 1091.6 242.7C1092.9 236.3 1094.1 228.8 1096.2 223.5C1098.4 218.2 1102.1 214.7 1104.6 211.0C1107.1 207.2 1109.6 203.5 1111.2 200.9C1112.9 198.2 1113.3 196.1 1114.6 195.1Z" fill="url(#ms)"/>
<ellipse cx="1112.3" cy="254.2" rx="14.3" ry="19.2" fill="#fff" opacity="0.4" filter="url(#b2)"/>
<ellipse cx="1103.5" cy="229.2" rx="4.8" ry="4.8" fill="#fff" opacity="0.7" filter="url(#b1)"/>
<ellipse cx="1122.6" cy="229.2" rx="4.8" ry="4.8" fill="#fff" opacity="0.7" filter="url(#b1)"/>
<path d="M1181.4 286.8Q1181.6 299.5 1181.9 308.2" stroke="#c4c4c4" stroke-width="5.6" fill="none" stroke-linecap="round"/>
<path d="M1166.6 288.0Q1157.7 291.6 1148.8 293.1" stroke="#c4c4c4" stroke-width="5" fill="none" stroke-linecap="round"/>
<path d="M1196.2 288.0Q1205.1 290.8 1214.0 292.3" stroke="#c4c4c4" stroke-width="5" fill="none" stroke-linecap="round"/>
<ellipse cx="1166.4" cy="217.8" rx="4.4" ry="3.6" fill="#8e8e8e"/>
<path d="M1187.7 198.3C1189.3 197.3 1191.6 197.3 1192.6 198.3C1193.5 199.2 1192.6 201.3 1193.4 203.8C1194.2 206.4 1195.9 210.0 1197.2 213.6C1198.6 217.2 1200.2 220.6 1201.4 225.7C1202.5 230.8 1203.6 238.1 1204.4 244.3C1205.2 250.5 1205.7 257.0 1206.0 262.9C1206.3 268.8 1206.8 275.2 1206.0 279.6C1205.2 284.0 1203.1 287.2 1201.1 289.4C1199.0 291.5 1197.0 292.4 1193.7 292.6C1190.4 292.9 1185.5 290.8 1181.4 290.8C1177.3 290.8 1172.3 292.9 1169.1 292.6C1165.8 292.4 1163.7 291.5 1161.7 289.4C1159.6 287.2 1157.6 284.0 1156.8 279.6C1155.9 275.2 1156.4 268.8 1156.8 262.9C1157.1 257.0 1158.1 250.5 1159.1 244.3C1160.2 238.1 1160.5 230.8 1163.0 225.7C1165.5 220.6 1170.8 217.2 1174.1 213.6C1177.4 210.0 1180.4 206.4 1182.7 203.8C1184.9 201.3 1186.0 199.2 1187.7 198.3Z" fill="url(#mg)"/>
<path d="M1187.7 198.3C1189.3 197.3 1191.6 197.3 1192.6 198.3C1193.5 199.2 1192.6 201.3 1193.4 203.8C1194.2 206.4 1195.9 210.0 1197.2 213.6C1198.6 217.2 1200.2 220.6 1201.4 225.7C1202.5 230.8 1203.6 238.1 1204.4 244.3C1205.2 250.5 1205.7 257.0 1206.0 262.9C1206.3 268.8 1206.8 275.2 1206.0 279.6C1205.2 284.0 1203.1 287.2 1201.1 289.4C1199.0 291.5 1197.0 292.4 1193.7 292.6C1190.4 292.9 1185.5 290.8 1181.4 290.8C1177.3 290.8 1172.3 292.9 1169.1 292.6C1165.8 292.4 1163.7 291.5 1161.7 289.4C1159.6 287.2 1157.6 284.0 1156.8 279.6C1155.9 275.2 1156.4 268.8 1156.8 262.9C1157.1 257.0 1158.1 250.5 1159.1 244.3C1160.2 238.1 1160.5 230.8 1163.0 225.7C1165.5 220.6 1170.8 217.2 1174.1 213.6C1177.4 210.0 1180.4 206.4 1182.7 203.8C1184.9 201.3 1186.0 199.2 1187.7 198.3Z" fill="url(#ms)"/>
<ellipse cx="1181.4" cy="255.4" rx="14.8" ry="18.6" fill="#fff" opacity="0.4" filter="url(#b2)"/>
<ellipse cx="1172.3" cy="231.3" rx="4.9" ry="4.6" fill="#fff" opacity="0.7" filter="url(#b1)"/>
<ellipse cx="1192.0" cy="231.3" rx="4.9" ry="4.6" fill="#fff" opacity="0.7" filter="url(#b1)"/>
</g>
<path d="M1132.9 182.7C1134.0 188.5 1137.8 202.6 1139.3 217.7C1140.7 232.8 1141.3 264.0 1141.7 273.3" stroke="#747474" stroke-width="2.0" fill="none" stroke-linecap="round" filter="url(#b05)"/>
<path d="M1206.0 182.7C1206.1 191.2 1206.0 217.9 1206.8 233.6C1207.6 249.2 1210.1 269.3 1210.8 276.5" stroke="#747474" stroke-width="2.0" fill="none" stroke-linecap="round" filter="url(#b05)"/>
<g filter="url(#bl)">
<ellipse cx="1104.3" cy="273.3" rx="6.4" ry="4.4" fill="url(#h2)" transform="rotate(-15 1104.3 273.3)"/>
<ellipse cx="1122.6" cy="272.5" rx="7.9" ry="5.1" fill="url(#h3)" transform="rotate(-20 1122.6 272.5)"/>
<ellipse cx="1168.7" cy="273.6" rx="3.2" ry="2.5" fill="url(#h1)"/>
<ellipse cx="1183.8" cy="274.9" rx="1.7" ry="2.2" fill="url(#h1)"/>
</g>
</g>
<g clip-path="url(#c7)">
<g filter="url(#fur)">
<rect x="1219.1" y="176.0" width="153.8" height="138.6" fill="#202020"/>
<path d="M1255.8 283.6Q1256.0 297.9 1256.2 308.2" stroke="#c4c4c4" stroke-width="5.6" fill="none" stroke-linecap="round"/>
<path d="M1240.3 284.5Q1233.7 283.0 1227.2 281.2" stroke="#c4c4c4" stroke-width="5" fill="none" stroke-linecap="round"/>
<path d="M1270.4 284.5Q1275.4 290.8 1280.4 292.3" stroke="#c4c4c4" stroke-width="5" fill="none" stroke-linecap="round"/>
<ellipse cx="1240.9" cy="207.8" rx="4.4" ry="3.6" fill="#8e8e8e"/>
<path d="M1250.1 186.4C1251.2 185.4 1253.7 185.4 1255.1 186.4C1256.5 187.4 1256.8 189.7 1258.6 192.5C1260.3 195.3 1262.9 199.2 1265.5 203.2C1268.1 207.2 1272.0 210.8 1274.1 216.4C1276.2 222.0 1277.0 230.0 1278.0 236.7C1279.0 243.5 1280.0 250.6 1280.4 257.1C1280.8 263.5 1281.2 270.5 1280.4 275.4C1279.5 280.2 1277.4 283.7 1275.4 286.1C1273.4 288.4 1271.5 289.4 1268.3 289.6C1265.0 289.9 1259.9 287.6 1255.8 287.6C1251.6 287.6 1246.6 289.9 1243.2 289.6C1239.8 289.4 1237.5 288.4 1235.3 286.1C1233.2 283.7 1231.2 280.2 1230.3 275.4C1229.5 270.5 1229.9 263.5 1230.3 257.1C1230.8 250.6 1231.9 243.5 1233.1 236.7C1234.3 230.0 1235.7 222.0 1237.4 216.4C1239.1 210.8 1241.4 207.2 1243.2 203.2C1245.0 199.2 1247.1 195.3 1248.2 192.5C1249.4 189.7 1248.9 187.4 1250.1 186.4Z" fill="url(#mg)"/>
<path d="M1250.1 186.4C1251.2 185.4 1253.7 185.4 1255.1 186.4C1256.5 187.4 1256.8 189.7 1258.6 192.5C1260.3 195.3 1262.9 199.2 1265.5 203.2C1268.1 207.2 1272.0 210.8 1274.1 216.4C1276.2 222.0 1277.0 230.0 1278.0 236.7C1279.0 243.5 1280.0 250.6 1280.4 257.1C1280.8 263.5 1281.2 270.5 1280.4 275.4C1279.5 280.2 1277.4 283.7 1275.4 286.1C1273.4 288.4 1271.5 289.4 1268.3 289.6C1265.0 289.9 1259.9 287.6 1255.8 287.6C1251.6 287.6 1246.6 289.9 1243.2 289.6C1239.8 289.4 1237.5 288.4 1235.3 286.1C1233.2 283.7 1231.2 280.2 1230.3 275.4C1229.5 270.5 1229.9 263.5 1230.3 257.1C1230.8 250.6 1231.9 243.5 1233.1 236.7C1234.3 230.0 1235.7 222.0 1237.4 216.4C1239.1 210.8 1241.4 207.2 1243.2 203.2C1245.0 199.2 1247.1 195.3 1248.2 192.5C1249.4 189.7 1248.9 187.4 1250.1 186.4Z" fill="url(#ms)"/>
<ellipse cx="1255.4" cy="248.9" rx="15.0" ry="20.3" fill="#fff" opacity="0.4" filter="url(#b2)"/>
<ellipse cx="1245.7" cy="222.5" rx="5.0" ry="5.1" fill="#fff" opacity="0.7" filter="url(#b1)"/>
<ellipse cx="1265.8" cy="222.5" rx="5.0" ry="5.1" fill="#fff" opacity="0.7" filter="url(#b1)"/>
<path d="M1313.7 283.6Q1313.9 297.9 1314.1 308.2" stroke="#c4c4c4" stroke-width="5.6" fill="none" stroke-linecap="round"/>
<path d="M1296.9 284.6Q1288.6 286.1 1280.4 287.6" stroke="#c4c4c4" stroke-width="5" fill="none" stroke-linecap="round"/>
<path d="M1327.4 284.6Q1333.3 290.8 1339.2 292.3" stroke="#c4c4c4" stroke-width="5" fill="none" stroke-linecap="round"/>
<ellipse cx="1329.3" cy="210.9" rx="4.4" ry="3.6" fill="#8e8e8e"/>
<path d="M1304.1 190.4C1305.2 189.4 1307.5 189.4 1309.1 190.4C1310.8 191.3 1311.7 193.5 1313.8 196.2C1316.0 198.9 1319.0 202.6 1322.2 206.5C1325.3 210.3 1330.6 213.8 1332.9 219.2C1335.2 224.6 1335.2 232.2 1336.0 238.7C1336.8 245.2 1337.3 252.1 1337.6 258.3C1337.8 264.5 1338.4 271.2 1337.6 275.9C1336.7 280.5 1334.3 283.8 1332.5 286.1C1330.6 288.4 1329.6 289.3 1326.5 289.5C1323.3 289.8 1318.0 287.6 1313.7 287.6C1309.5 287.6 1304.7 289.8 1301.0 289.5C1297.4 289.3 1294.2 288.4 1291.8 286.1C1289.4 283.8 1287.6 280.5 1286.7 275.9C1285.9 271.2 1286.5 264.5 1286.7 258.3C1287.0 252.1 1287.5 245.2 1288.3 238.7C1289.1 232.2 1289.9 224.6 1291.4 219.2C1292.9 213.8 1295.5 210.3 1297.3 206.5C1299.1 202.6 1301.1 198.9 1302.3 196.2C1303.4 193.5 1302.9 191.3 1304.1 190.4Z" fill="url(#mg)"/>
<path d="M1304.1 190.4C1305.2 189.4 1307.5 189.4 1309.1 190.4C1310.8 191.3 1311.7 193.5 1313.8 196.2C1316.0 198.9 1319.0 202.6 1322.2 206.5C1325.3 210.3 1330.6 213.8 1332.9 219.2C1335.2 224.6 1335.2 232.2 1336.0 238.7C1336.8 245.2 1337.3 252.1 1337.6 258.3C1337.8 264.5 1338.4 271.2 1337.6 275.9C1336.7 280.5 1334.3 283.8 1332.5 286.1C1330.6 288.4 1329.6 289.3 1326.5 289.5C1323.3 289.8 1318.0 287.6 1313.7 287.6C1309.5 287.6 1304.7 289.8 1301.0 289.5C1297.4 289.3 1294.2 288.4 1291.8 286.1C1289.4 283.8 1287.6 280.5 1286.7 275.9C1285.9 271.2 1286.5 264.5 1286.7 258.3C1287.0 252.1 1287.5 245.2 1288.3 238.7C1289.1 232.2 1289.9 224.6 1291.4 219.2C1292.9 213.8 1295.5 210.3 1297.3 206.5C1299.1 202.6 1301.1 198.9 1302.3 196.2C1303.4 193.5 1302.9 191.3 1304.1 190.4Z" fill="url(#ms)"/>
<ellipse cx="1312.2" cy="250.4" rx="15.3" ry="19.5" fill="#fff" opacity="0.4" filter="url(#b2)"/>
<ellipse cx="1302.0" cy="225.0" rx="5.1" ry="4.9" fill="#fff" opacity="0.7" filter="url(#b1)"/>
<ellipse cx="1322.3" cy="225.0" rx="5.1" ry="4.9" fill="#fff" opacity="0.7" filter="url(#b1)"/>
</g>
<path d="M1274.8 182.7C1275.6 188.5 1277.9 207.1 1279.6 217.7C1281.3 228.3 1284.2 241.5 1285.1 246.3" stroke="#747474" stroke-width="2.0" fill="none" stroke-linecap="round" filter="url(#b05)"/>
<path d="M1349.5 182.7C1349.6 191.2 1351.7 219.8 1350.3 233.6C1348.8 247.3 1342.3 260.0 1340.8 265.3" stroke="#747474" stroke-width="2.0" fill="none" stroke-linecap="round" filter="url(#b05)"/>
<g filter="url(#bl)">
<ellipse cx="1244.6" cy="268.5" rx="5.6" ry="5.1" fill="url(#h2)"/>
<ellipse cx="1264.5" cy="268.5" rx="11.1" ry="6.7" fill="url(#h3)" transform="rotate(-20 1264.5 268.5)"/>
<ellipse cx="1314.9" cy="265.3" rx="3.8" ry="3.5" fill="url(#h1)"/>
<ellipse cx="1310.9" cy="274.1" rx="5.1" ry="5.4" fill="url(#h2)"/>
</g>
</g>
<g clip-path="url(#c8)">
<g filter="url(#fur)">
<rect x="1368.0" y="176.0" width="153.5" height="138.6" fill="#202020"/>
<path d="M1413.1 288.3Q1413.1 300.3 1413.1 308.2" stroke="#c4c4c4" stroke-width="5.6" fill="none" stroke-linecap="round"/>
<path d="M1397.0 289.3Q1388.7 287.8 1380.5 287.6" stroke="#c4c4c4" stroke-width="5" fill="none" stroke-linecap="round"/>
<path d="M1427.5 289.3Q1434.2 292.4 1440.9 293.9" stroke="#c4c4c4" stroke-width="5" fill="none" stroke-linecap="round"/>
<ellipse cx="1396.7" cy="213.8" rx="4.4" ry="3.6" fill="#8e8e8e"/>
<ellipse cx="1427.8" cy="213.8" rx="4.4" ry="3.6" fill="#8e8e8e"/>
<path d="M1408.1 192.7C1409.4 191.7 1411.8 191.7 1413.2 192.7C1414.6 193.7 1414.8 196.0 1416.5 198.8C1418.1 201.5 1420.6 205.3 1423.1 209.3C1425.6 213.2 1429.4 216.8 1431.4 222.3C1433.4 227.8 1434.3 235.6 1435.3 242.3C1436.3 249.0 1437.3 256.0 1437.7 262.3C1438.1 268.7 1438.5 275.6 1437.7 280.3C1436.8 285.1 1434.6 288.5 1432.6 290.8C1430.6 293.2 1429.0 294.1 1425.8 294.3C1422.5 294.6 1417.3 292.3 1413.1 292.3C1408.8 292.3 1403.9 294.6 1400.3 294.3C1396.8 294.1 1394.2 293.2 1391.9 290.8C1389.7 288.5 1387.7 285.1 1386.8 280.3C1386.0 275.6 1386.4 268.7 1386.8 262.3C1387.2 256.0 1388.2 249.0 1389.2 242.3C1390.3 235.6 1391.3 227.8 1393.1 222.3C1394.9 216.8 1397.9 213.2 1400.0 209.3C1402.1 205.3 1404.4 201.5 1405.7 198.8C1407.1 196.0 1406.9 193.7 1408.1 192.7Z" fill="url(#mg)"/>
<path d="M1408.1 192.7C1409.4 191.7 1411.8 191.7 1413.2 192.7C1414.6 193.7 1414.8 196.0 1416.5 198.8C1418.1 201.5 1420.6 205.3 1423.1 209.3C1425.6 213.2 1429.4 216.8 1431.4 222.3C1433.4 227.8 1434.3 235.6 1435.3 242.3C1436.3 249.0 1437.3 256.0 1437.7 262.3C1438.1 268.7 1438.5 275.6 1437.7 280.3C1436.8 285.1 1434.6 288.5 1432.6 290.8C1430.6 293.2 1429.0 294.1 1425.8 294.3C1422.5 294.6 1417.3 292.3 1413.1 292.3C1408.8 292.3 1403.9 294.6 1400.3 294.3C1396.8 294.1 1394.2 293.2 1391.9 290.8C1389.7 288.5 1387.7 285.1 1386.8 280.3C1386.0 275.6 1386.4 268.7 1386.8 262.3C1387.2 256.0 1388.2 249.0 1389.2 242.3C1390.3 235.6 1391.3 227.8 1393.1 222.3C1394.9 216.8 1397.9 213.2 1400.0 209.3C1402.1 205.3 1404.4 201.5 1405.7 198.8C1407.1 196.0 1406.9 193.7 1408.1 192.7Z" fill="url(#ms)"/>
<ellipse cx="1412.3" cy="254.3" rx="15.3" ry="20.0" fill="#fff" opacity="0.4" filter="url(#b2)"/>
<ellipse cx="1402.1" cy="228.3" rx="5.1" ry="5.0" fill="#fff" opacity="0.7" filter="url(#b1)"/>
<ellipse cx="1422.4" cy="228.3" rx="5.1" ry="5.0" fill="#fff" opacity="0.7" filter="url(#b1)"/>
<path d="M1479.0 288.3Q1479.2 300.3 1479.3 308.2" stroke="#c4c4c4" stroke-width="5.6" fill="none" stroke-linecap="round"/>
<path d="M1462.2 289.5Q1455.5 290.8 1448.8 292.3" stroke="#c4c4c4" stroke-width="5" fill="none" stroke-linecap="round"/>
<path d="M1492.7 289.5Q1500.1 290.8 1507.6 292.3" stroke="#c4c4c4" stroke-width="5" fill="none" stroke-linecap="round"/>
<ellipse cx="1461.8" cy="216.9" rx="4.4" ry="3.6" fill="#8e8e8e"/>
<ellipse cx="1496.2" cy="216.9" rx="4.4" ry="3.6" fill="#8e8e8e"/>
<path d="M1471.7 196.7C1472.9 195.7 1475.2 195.7 1476.8 196.7C1478.4 197.7 1479.2 199.8 1481.3 202.5C1483.3 205.1 1486.3 208.8 1489.4 212.6C1492.4 216.3 1497.6 219.8 1499.7 225.1C1501.8 230.3 1501.5 237.9 1502.0 244.3C1502.6 250.7 1502.7 257.4 1502.8 263.5C1503.0 269.6 1503.7 276.2 1502.8 280.8C1502.0 285.4 1499.6 288.7 1497.7 290.9C1495.9 293.1 1494.8 294.0 1491.7 294.3C1488.6 294.5 1483.2 292.3 1479.0 292.3C1474.8 292.3 1469.9 294.5 1466.3 294.3C1462.6 294.0 1459.5 293.1 1457.1 290.9C1454.7 288.7 1452.8 285.4 1452.0 280.8C1451.1 276.2 1451.6 269.6 1452.0 263.5C1452.4 257.4 1453.3 250.7 1454.4 244.3C1455.4 237.9 1456.6 230.3 1458.3 225.1C1460.0 219.8 1462.5 216.3 1464.4 212.6C1466.3 208.8 1468.5 205.1 1469.7 202.5C1470.9 199.8 1470.5 197.7 1471.7 196.7Z" fill="url(#mg)"/>
<path d="M1471.7 196.7C1472.9 195.7 1475.2 195.7 1476.8 196.7C1478.4 197.7 1479.2 199.8 1481.3 202.5C1483.3 205.1 1486.3 208.8 1489.4 212.6C1492.4 216.3 1497.6 219.8 1499.7 225.1C1501.8 230.3 1501.5 237.9 1502.0 244.3C1502.6 250.7 1502.7 257.4 1502.8 263.5C1503.0 269.6 1503.7 276.2 1502.8 280.8C1502.0 285.4 1499.6 288.7 1497.7 290.9C1495.9 293.1 1494.8 294.0 1491.7 294.3C1488.6 294.5 1483.2 292.3 1479.0 292.3C1474.8 292.3 1469.9 294.5 1466.3 294.3C1462.6 294.0 1459.5 293.1 1457.1 290.9C1454.7 288.7 1452.8 285.4 1452.0 280.8C1451.1 276.2 1451.6 269.6 1452.0 263.5C1452.4 257.4 1453.3 250.7 1454.4 244.3C1455.4 237.9 1456.6 230.3 1458.3 225.1C1460.0 219.8 1462.5 216.3 1464.4 212.6C1466.3 208.8 1468.5 205.1 1469.7 202.5C1470.9 199.8 1470.5 197.7 1471.7 196.7Z" fill="url(#ms)"/>
<ellipse cx="1477.4" cy="255.8" rx="15.3" ry="19.2" fill="#fff" opacity="0.4" filter="url(#b2)"/>
<ellipse cx="1468.8" cy="230.8" rx="5.1" ry="4.8" fill="#fff" opacity="0.7" filter="url(#b1)"/>
<ellipse cx="1489.2" cy="230.8" rx="5.1" ry="4.8" fill="#fff" opacity="0.7" filter="url(#b1)"/>
</g>
<path d="M1438.5 182.7C1438.3 188.5 1437.6 205.5 1437.7 217.7C1437.8 229.8 1439.0 249.4 1439.3 255.8" stroke="#747474" stroke-width="2.0" fill="none" stroke-linecap="round" filter="url(#b05)"/>
<path d="M1514.0 209.7C1513.4 213.7 1512.1 225.9 1510.8 233.6C1509.4 241.2 1506.8 252.1 1506.0 255.8" stroke="#747474" stroke-width="2.0" fill="none" stroke-linecap="round" filter="url(#b05)"/>
<g filter="url(#bl)">
<ellipse cx="1401.9" cy="276.1" rx="7.6" ry="6.7" fill="url(#h2)"/>
<ellipse cx="1421.0" cy="276.1" rx="13.5" ry="9.2" fill="url(#h3)" transform="rotate(-20 1421.0 276.1)"/>
<ellipse cx="1464.2" cy="276.0" rx="1.9" ry="1.9" fill="url(#h1)"/>
<ellipse cx="1481.4" cy="270.1" rx="4.1" ry="3.5" fill="url(#h1)"/>
<ellipse cx="1478.2" cy="279.6" rx="5.6" ry="7.0" fill="url(#h2)"/>
</g>
</g>
<g clip-path="url(#c9)">
<g filter="url(#fur)">
<rect x="924.4" y="311.6" width="153.3" height="139.3" fill="#202020"/>
<path d="M971.6 415.4Q972.4 432.1 973.2 444.8" stroke="#c4c4c4" stroke-width="5.6" fill="none" stroke-linecap="round"/>
<path d="M955.8 416.6Q954.6 430.7 953.4 433.7" stroke="#c4c4c4" stroke-width="5" fill="none" stroke-linecap="round"/>
<path d="M982.0 416.6Q985.9 432.3 989.9 435.3" stroke="#c4c4c4" stroke-width="5" fill="none" stroke-linecap="round"/>
<ellipse cx="984.0" cy="345.8" rx="4.4" ry="3.6" fill="#8e8e8e"/>
<path d="M959.9 326.1C961.0 325.2 962.8 325.2 964.3 326.1C965.8 327.1 966.8 329.2 968.9 331.7C971.0 334.3 973.8 337.9 976.8 341.6C979.8 345.3 984.9 348.6 987.0 353.8C989.1 358.9 988.9 366.3 989.5 372.5C990.1 378.8 990.5 385.3 990.7 391.3C990.9 397.2 991.4 403.7 990.7 408.2C990.0 412.6 987.7 415.8 986.3 418.0C985.0 420.2 985.0 421.0 982.6 421.3C980.1 421.5 975.3 419.4 971.6 419.4C968.0 419.4 964.1 421.5 960.7 421.3C957.3 421.0 953.7 420.2 951.4 418.0C949.1 415.8 947.7 412.6 947.0 408.2C946.3 403.7 947.1 397.2 947.0 391.3C946.9 385.3 946.5 378.8 946.6 372.5C946.7 366.3 946.4 358.9 947.5 353.8C948.6 348.6 951.5 345.3 953.2 341.6C954.9 337.9 956.9 334.3 958.0 331.7C959.1 329.2 958.9 327.1 959.9 326.1Z" fill="url(#mg)"/>
<path d="M959.9 326.1C961.0 325.2 962.8 325.2 964.3 326.1C965.8 327.1 966.8 329.2 968.9 331.7C971.0 334.3 973.8 337.9 976.8 341.6C979.8 345.3 984.9 348.6 987.0 353.8C989.1 358.9 988.9 366.3 989.5 372.5C990.1 378.8 990.5 385.3 990.7 391.3C990.9 397.2 991.4 403.7 990.7 408.2C990.0 412.6 987.7 415.8 986.3 418.0C985.0 420.2 985.0 421.0 982.6 421.3C980.1 421.5 975.3 419.4 971.6 419.4C968.0 419.4 964.1 421.5 960.7 421.3C957.3 421.0 953.7 420.2 951.4 418.0C949.1 415.8 947.7 412.6 947.0 408.2C946.3 403.7 947.1 397.2 947.0 391.3C946.9 385.3 946.5 378.8 946.6 372.5C946.7 366.3 946.4 358.9 947.5 353.8C948.6 348.6 951.5 345.3 953.2 341.6C954.9 337.9 956.9 334.3 958.0 331.7C959.1 329.2 958.9 327.1 959.9 326.1Z" fill="url(#ms)"/>
<ellipse cx="968.9" cy="383.8" rx="13.1" ry="18.7" fill="#fff" opacity="0.4" filter="url(#b2)"/>
<ellipse cx="958.5" cy="359.4" rx="4.4" ry="4.7" fill="#fff" opacity="0.7" filter="url(#b1)"/>
<ellipse cx="976.0" cy="359.4" rx="4.4" ry="4.7" fill="#fff" opacity="0.7" filter="url(#b1)"/>
<path d="M1034.4 415.4Q1034.6 432.1 1034.7 444.8" stroke="#c4c4c4" stroke-width="5.6" fill="none" stroke-linecap="round"/>
<path d="M1022.3 416.5Q1018.8 422.7 1015.3 424.2" stroke="#c4c4c4" stroke-width="5" fill="none" stroke-linecap="round"/>
<path d="M1048.1 416.5Q1048.4 429.1 1048.7 432.1" stroke="#c4c4c4" stroke-width="5" fill="none" stroke-linecap="round"/>
<ellipse cx="1018.0" cy="343.3" rx="4.4" ry="3.6" fill="#8e8e8e"/>
<path d="M1033.1 323.0C1034.3 322.0 1036.1 322.0 1037.3 323.0C1038.6 323.9 1038.9 326.1 1040.4 328.8C1041.9 331.4 1044.1 335.2 1046.3 339.0C1048.6 342.8 1052.2 346.2 1053.8 351.6C1055.4 356.9 1055.4 364.5 1055.9 370.9C1056.3 377.4 1056.5 384.2 1056.6 390.3C1056.8 396.5 1057.4 403.2 1056.6 407.8C1055.9 412.4 1054.3 415.7 1052.4 417.9C1050.4 420.2 1048.1 421.1 1045.1 421.3C1042.1 421.6 1038.0 419.4 1034.4 419.4C1030.8 419.4 1026.4 421.6 1023.7 421.3C1020.9 421.1 1019.7 420.2 1018.0 417.9C1016.4 415.7 1014.5 412.4 1013.7 407.8C1013.0 403.2 1013.7 396.5 1013.7 390.3C1013.7 384.2 1013.5 377.4 1013.7 370.9C1014.0 364.5 1013.5 356.9 1015.0 351.6C1016.6 346.2 1020.8 342.8 1023.2 339.0C1025.6 335.2 1028.0 331.4 1029.6 328.8C1031.3 326.1 1031.8 323.9 1033.1 323.0Z" fill="url(#mg)"/>
<path d="M1033.1 323.0C1034.3 322.0 1036.1 322.0 1037.3 323.0C1038.6 323.9 1038.9 326.1 1040.4 328.8C1041.9 331.4 1044.1 335.2 1046.3 339.0C1048.6 342.8 1052.2 346.2 1053.8 351.6C1055.4 356.9 1055.4 364.5 1055.9 370.9C1056.3 377.4 1056.5 384.2 1056.6 390.3C1056.8 396.5 1057.4 403.2 1056.6 407.8C1055.9 412.4 1054.3 415.7 1052.4 417.9C1050.4 420.2 1048.1 421.1 1045.1 421.3C1042.1 421.6 1038.0 419.4 1034.4 419.4C1030.8 419.4 1026.4 421.6 1023.7 421.3C1020.9 421.1 1019.7 420.2 1018.0 417.9C1016.4 415.7 1014.5 412.4 1013.7 407.8C1013.0 403.2 1013.7 396.5 1013.7 390.3C1013.7 384.2 1013.5 377.4 1013.7 370.9C1014.0 364.5 1013.5 356.9 1015.0 351.6C1016.6 346.2 1020.8 342.8 1023.2 339.0C1025.6 335.2 1028.0 331.4 1029.6 328.8C1031.3 326.1 1031.8 323.9 1033.1 323.0Z" fill="url(#ms)"/>
<ellipse cx="1035.2" cy="382.6" rx="12.9" ry="19.4" fill="#fff" opacity="0.4" filter="url(#b2)"/>
<ellipse cx="1025.8" cy="357.4" rx="4.3" ry="4.8" fill="#fff" opacity="0.7" filter="url(#b1)"/>
<ellipse cx="1043.0" cy="357.4" rx="4.3" ry="4.8" fill="#fff" opacity="0.7" filter="url(#b1)"/>
</g>
<g filter="url(#bl)">
<ellipse cx="958.1" cy="403.2" rx="7.2" ry="6.7" fill="url(#h2)"/>
<ellipse cx="971.6" cy="405.9" rx="6.4" ry="6.4" fill="url(#h3)"/>
<ellipse cx="1029.6" cy="400.0" rx="7.3" ry="6.4" fill="url(#h3)"/>
<ellipse cx="1043.9" cy="400.3" rx="5.7" ry="5.1" fill="url(#h1)"/>
</g>
</g>
<g clip-path="url(#c10)">
<g filter="url(#fur)">
<rect x="1072.8" y="311.6" width="153.6" height="139.3" fill="#202020"/>
<path d="M1114.6 417.0Q1114.9 432.9 1115.1 444.8" stroke="#c4c4c4" stroke-width="5.6" fill="none" stroke-linecap="round"/>
<path d="M1098.6 418.1Q1092.3 424.3 1086.0 427.3" stroke="#c4c4c4" stroke-width="5" fill="none" stroke-linecap="round"/>
<path d="M1126.7 418.1Q1133.0 424.3 1139.3 427.3" stroke="#c4c4c4" stroke-width="5" fill="none" stroke-linecap="round"/>
<ellipse cx="1097.1" cy="346.2" rx="4.4" ry="3.6" fill="#8e8e8e"/>
<ellipse cx="1131.4" cy="346.2" rx="4.4" ry="3.6" fill="#8e8e8e"/>
<path d="M1114.7 326.1C1116.1 325.2 1118.2 325.2 1119.4 326.1C1120.6 327.1 1120.6 329.2 1122.0 331.9C1123.4 334.5 1125.6 338.1 1127.7 341.9C1129.8 345.6 1133.3 349.0 1134.7 354.3C1136.1 359.5 1135.9 367.0 1136.1 373.3C1136.3 379.7 1136.1 386.4 1136.1 392.4C1136.1 398.4 1136.9 405.0 1136.1 409.6C1135.3 414.1 1133.0 417.3 1131.4 419.6C1129.8 421.8 1129.2 422.7 1126.4 422.9C1123.6 423.1 1118.5 421.0 1114.6 421.0C1110.7 421.0 1106.4 423.1 1102.9 422.9C1099.5 422.7 1096.2 421.8 1093.9 419.6C1091.6 417.3 1090.0 414.1 1089.2 409.6C1088.4 405.0 1089.0 398.4 1089.2 392.4C1089.5 386.4 1090.0 379.7 1090.8 373.3C1091.6 367.0 1091.7 359.5 1093.8 354.3C1095.9 349.0 1100.4 345.6 1103.2 341.9C1106.0 338.1 1108.7 334.5 1110.6 331.9C1112.5 329.2 1113.2 327.1 1114.7 326.1Z" fill="url(#mg)"/>
<path d="M1114.7 326.1C1116.1 325.2 1118.2 325.2 1119.4 326.1C1120.6 327.1 1120.6 329.2 1122.0 331.9C1123.4 334.5 1125.6 338.1 1127.7 341.9C1129.8 345.6 1133.3 349.0 1134.7 354.3C1136.1 359.5 1135.9 367.0 1136.1 373.3C1136.3 379.7 1136.1 386.4 1136.1 392.4C1136.1 398.4 1136.9 405.0 1136.1 409.6C1135.3 414.1 1133.0 417.3 1131.4 419.6C1129.8 421.8 1129.2 422.7 1126.4 422.9C1123.6 423.1 1118.5 421.0 1114.6 421.0C1110.7 421.0 1106.4 423.1 1102.9 422.9C1099.5 422.7 1096.2 421.8 1093.9 419.6C1091.6 417.3 1090.0 414.1 1089.2 409.6C1088.4 405.0 1089.0 398.4 1089.2 392.4C1089.5 386.4 1090.0 379.7 1090.8 373.3C1091.6 367.0 1091.7 359.5 1093.8 354.3C1095.9 349.0 1100.4 345.6 1103.2 341.9C1106.0 338.1 1108.7 334.5 1110.6 331.9C1112.5 329.2 1113.2 327.1 1114.7 326.1Z" fill="url(#ms)"/>
<ellipse cx="1112.7" cy="384.8" rx="14.1" ry="19.1" fill="#fff" opacity="0.4" filter="url(#b2)"/>
<ellipse cx="1104.9" cy="360.0" rx="4.7" ry="4.8" fill="#fff" opacity="0.7" filter="url(#b1)"/>
<ellipse cx="1123.6" cy="360.0" rx="4.7" ry="4.8" fill="#fff" opacity="0.7" filter="url(#b1)"/>
<path d="M1182.2 418.6Q1177.4 433.7 1172.6 444.8" stroke="#c4c4c4" stroke-width="5.6" fill="none" stroke-linecap="round"/>
<path d="M1169.5 419.6Q1164.7 418.1 1159.9 417.8" stroke="#c4c4c4" stroke-width="5" fill="none" stroke-linecap="round"/>
<path d="M1198.1 419.6Q1207.6 418.1 1217.1 416.2" stroke="#c4c4c4" stroke-width="5" fill="none" stroke-linecap="round"/>
<ellipse cx="1166.3" cy="343.4" rx="4.4" ry="3.6" fill="#8e8e8e"/>
<path d="M1186.1 322.2C1187.7 321.2 1189.8 321.2 1190.9 322.2C1192.0 323.2 1191.6 325.5 1192.7 328.2C1193.7 331.0 1195.7 334.9 1197.4 338.8C1199.1 342.8 1201.6 346.4 1203.0 352.0C1204.4 357.5 1205.2 365.4 1206.0 372.1C1206.8 378.9 1207.3 385.9 1207.6 392.3C1207.9 398.7 1208.4 405.7 1207.6 410.5C1206.8 415.3 1205.1 418.7 1202.8 421.1C1200.6 423.4 1197.5 424.3 1194.1 424.6C1190.6 424.9 1186.1 422.6 1182.2 422.6C1178.2 422.6 1173.2 424.9 1170.3 424.6C1167.3 424.3 1166.4 423.4 1164.7 421.1C1163.0 418.7 1160.7 415.3 1159.9 410.5C1159.1 405.7 1159.8 398.7 1159.9 392.3C1160.1 385.9 1160.2 378.9 1160.7 372.1C1161.2 365.4 1160.8 357.5 1162.9 352.0C1165.1 346.4 1170.3 342.8 1173.4 338.8C1176.5 334.9 1179.4 331.0 1181.5 328.2C1183.6 325.5 1184.6 323.2 1186.1 322.2Z" fill="url(#mg)"/>
<path d="M1186.1 322.2C1187.7 321.2 1189.8 321.2 1190.9 322.2C1192.0 323.2 1191.6 325.5 1192.7 328.2C1193.7 331.0 1195.7 334.9 1197.4 338.8C1199.1 342.8 1201.6 346.4 1203.0 352.0C1204.4 357.5 1205.2 365.4 1206.0 372.1C1206.8 378.9 1207.3 385.9 1207.6 392.3C1207.9 398.7 1208.4 405.7 1207.6 410.5C1206.8 415.3 1205.1 418.7 1202.8 421.1C1200.6 423.4 1197.5 424.3 1194.1 424.6C1190.6 424.9 1186.1 422.6 1182.2 422.6C1178.2 422.6 1173.2 424.9 1170.3 424.6C1167.3 424.3 1166.4 423.4 1164.7 421.1C1163.0 418.7 1160.7 415.3 1159.9 410.5C1159.1 405.7 1159.8 398.7 1159.9 392.3C1160.1 385.9 1160.2 378.9 1160.7 372.1C1161.2 365.4 1160.8 357.5 1162.9 352.0C1165.1 346.4 1170.3 342.8 1173.4 338.8C1176.5 334.9 1179.4 331.0 1181.5 328.2C1183.6 325.5 1184.6 323.2 1186.1 322.2Z" fill="url(#ms)"/>
<ellipse cx="1183.8" cy="384.2" rx="14.3" ry="20.2" fill="#fff" opacity="0.4" filter="url(#b2)"/>
<ellipse cx="1173.4" cy="358.0" rx="4.8" ry="5.0" fill="#fff" opacity="0.7" filter="url(#b1)"/>
<ellipse cx="1192.5" cy="358.0" rx="4.8" ry="5.0" fill="#fff" opacity="0.7" filter="url(#b1)"/>
</g>
<path d="M1161.5 318.5C1160.1 324.2 1154.5 338.2 1152.8 352.7C1151.1 367.1 1151.5 396.4 1151.2 405.1" stroke="#747474" stroke-width="2.0" fill="none" stroke-linecap="round" filter="url(#b05)"/>
<path d="M1148.8 374.9C1147.7 378.1 1144.3 388.4 1142.5 394.0C1140.6 399.5 1138.5 405.9 1137.7 408.3" stroke="#747474" stroke-width="2.0" fill="none" stroke-linecap="round" filter="url(#b05)"/>
<g filter="url(#bl)">
<ellipse cx="1099.5" cy="401.1" rx="2.1" ry="1.9" fill="url(#h1)"/>
<ellipse cx="1119.4" cy="402.7" rx="4.4" ry="3.5" fill="url(#h1)"/>
<ellipse cx="1174.2" cy="401.9" rx="7.3" ry="6.4" fill="url(#h3)" transform="rotate(20 1174.2 401.9)"/>
<ellipse cx="1194.1" cy="400.3" rx="10.8" ry="7.6" fill="url(#h4)"/>
</g>
</g>
<g clip-path="url(#c11)">
<g filter="url(#fur)">
<rect x="1219.1" y="311.6" width="153.8" height="139.3" fill="#202020"/>
<path d="M1265.3 420.2Q1265.7 434.5 1266.1 444.8" stroke="#c4c4c4" stroke-width="5.6" fill="none" stroke-linecap="round"/>
<path d="M1246.1 421.2Q1237.4 427.4 1228.7 428.9" stroke="#c4c4c4" stroke-width="5" fill="none" stroke-linecap="round"/>
<path d="M1276.6 421.2Q1280.9 425.8 1285.1 427.3" stroke="#c4c4c4" stroke-width="5" fill="none" stroke-linecap="round"/>
<ellipse cx="1275.3" cy="346.8" rx="4.4" ry="3.6" fill="#8e8e8e"/>
<path d="M1254.8 326.1C1256.1 325.2 1258.5 325.2 1259.9 326.1C1261.3 327.1 1261.6 329.4 1263.3 332.1C1265.1 334.8 1267.7 338.5 1270.2 342.4C1272.8 346.3 1276.6 349.8 1278.9 355.2C1281.1 360.6 1282.2 368.3 1283.6 374.9C1284.9 381.5 1286.2 388.4 1286.7 394.6C1287.3 400.9 1287.6 407.7 1286.7 412.3C1285.9 417.0 1283.1 420.4 1281.7 422.7C1280.2 425.0 1280.7 425.9 1278.0 426.1C1275.3 426.4 1269.5 424.2 1265.3 424.2C1261.0 424.2 1256.6 426.4 1252.6 426.1C1248.5 425.9 1243.8 425.0 1241.0 422.7C1238.2 420.4 1236.7 417.0 1235.9 412.3C1235.0 407.7 1235.8 400.9 1235.9 394.6C1236.0 388.4 1236.2 381.5 1236.7 374.9C1237.2 368.3 1237.4 360.6 1239.0 355.2C1240.6 349.8 1244.0 346.3 1246.2 342.4C1248.4 338.5 1250.7 334.8 1252.2 332.1C1253.6 329.4 1253.5 327.1 1254.8 326.1Z" fill="url(#mg)"/>
<path d="M1254.8 326.1C1256.1 325.2 1258.5 325.2 1259.9 326.1C1261.3 327.1 1261.6 329.4 1263.3 332.1C1265.1 334.8 1267.7 338.5 1270.2 342.4C1272.8 346.3 1276.6 349.8 1278.9 355.2C1281.1 360.6 1282.2 368.3 1283.6 374.9C1284.9 381.5 1286.2 388.4 1286.7 394.6C1287.3 400.9 1287.6 407.7 1286.7 412.3C1285.9 417.0 1283.1 420.4 1281.7 422.7C1280.2 425.0 1280.7 425.9 1278.0 426.1C1275.3 426.4 1269.5 424.2 1265.3 424.2C1261.0 424.2 1256.6 426.4 1252.6 426.1C1248.5 425.9 1243.8 425.0 1241.0 422.7C1238.2 420.4 1236.7 417.0 1235.9 412.3C1235.0 407.7 1235.8 400.9 1235.9 394.6C1236.0 388.4 1236.2 381.5 1236.7 374.9C1237.2 368.3 1237.4 360.6 1239.0 355.2C1240.6 349.8 1244.0 346.3 1246.2 342.4C1248.4 338.5 1250.7 334.8 1252.2 332.1C1253.6 329.4 1253.5 327.1 1254.8 326.1Z" fill="url(#ms)"/>
<ellipse cx="1261.3" cy="386.7" rx="15.3" ry="19.7" fill="#fff" opacity="0.4" filter="url(#b2)"/>
<ellipse cx="1248.8" cy="361.1" rx="5.1" ry="4.9" fill="#fff" opacity="0.7" filter="url(#b1)"/>
<ellipse cx="1269.1" cy="361.1" rx="5.1" ry="4.9" fill="#fff" opacity="0.7" filter="url(#b1)"/>
<path d="M1326.5 418.6Q1327.3 433.7 1328.0 444.8" stroke="#c4c4c4" stroke-width="5.6" fill="none" stroke-linecap="round"/>
<path d="M1313.1 419.6Q1305.5 421.1 1297.9 422.6" stroke="#c4c4c4" stroke-width="5" fill="none" stroke-linecap="round"/>
<path d="M1344.6 419.6Q1352.2 418.7 1359.8 420.2" stroke="#c4c4c4" stroke-width="5" fill="none" stroke-linecap="round"/>
<path d="M1323.0 324.6C1324.2 323.6 1326.7 323.6 1328.3 324.6C1329.9 325.5 1330.5 327.8 1332.5 330.5C1334.5 333.2 1337.4 337.0 1340.3 340.8C1343.3 344.7 1348.1 348.2 1350.3 353.6C1352.5 359.0 1352.7 366.8 1353.5 373.3C1354.3 379.9 1354.8 386.8 1355.1 393.0C1355.3 399.3 1355.9 406.1 1355.1 410.8C1354.2 415.4 1352.4 418.8 1349.8 421.1C1347.2 423.4 1343.5 424.3 1339.6 424.6C1335.7 424.8 1330.8 422.6 1326.5 422.6C1322.1 422.6 1316.4 424.8 1313.3 424.6C1310.3 424.3 1309.7 423.4 1307.9 421.1C1306.1 418.8 1303.5 415.4 1302.6 410.8C1301.8 406.1 1302.1 399.3 1302.6 393.0C1303.2 386.8 1304.5 379.9 1305.8 373.3C1307.1 366.8 1308.8 359.0 1310.6 353.6C1312.3 348.2 1314.5 344.7 1316.3 340.8C1318.1 337.0 1320.2 333.2 1321.3 330.5C1322.4 327.8 1321.9 325.5 1323.0 324.6Z" fill="url(#mg)"/>
<path d="M1323.0 324.6C1324.2 323.6 1326.7 323.6 1328.3 324.6C1329.9 325.5 1330.5 327.8 1332.5 330.5C1334.5 333.2 1337.4 337.0 1340.3 340.8C1343.3 344.7 1348.1 348.2 1350.3 353.6C1352.5 359.0 1352.7 366.8 1353.5 373.3C1354.3 379.9 1354.8 386.8 1355.1 393.0C1355.3 399.3 1355.9 406.1 1355.1 410.8C1354.2 415.4 1352.4 418.8 1349.8 421.1C1347.2 423.4 1343.5 424.3 1339.6 424.6C1335.7 424.8 1330.8 422.6 1326.5 422.6C1322.1 422.6 1316.4 424.8 1313.3 424.6C1310.3 424.3 1309.7 423.4 1307.9 421.1C1306.1 418.8 1303.5 415.4 1302.6 410.8C1301.8 406.1 1302.1 399.3 1302.6 393.0C1303.2 386.8 1304.5 379.9 1305.8 373.3C1307.1 366.8 1308.8 359.0 1310.6 353.6C1312.3 348.2 1314.5 344.7 1316.3 340.8C1318.1 337.0 1320.2 333.2 1321.3 330.5C1322.4 327.8 1321.9 325.5 1323.0 324.6Z" fill="url(#ms)"/>
<ellipse cx="1328.8" cy="385.1" rx="15.7" ry="19.7" fill="#fff" opacity="0.4" filter="url(#b2)"/>
<ellipse cx="1319.9" cy="359.5" rx="5.2" ry="4.9" fill="#fff" opacity="0.7" filter="url(#b1)"/>
<ellipse cx="1340.9" cy="359.5" rx="5.2" ry="4.9" fill="#fff" opacity="0.7" filter="url(#b1)"/>
</g>
<path d="M1295.5 324.1C1295.2 330.2 1294.3 347.9 1293.9 360.6C1293.5 373.3 1293.2 393.7 1293.1 400.3" stroke="#747474" stroke-width="2.0" fill="none" stroke-linecap="round" filter="url(#b05)"/>
<path d="M1315.3 318.5C1313.7 324.2 1308.2 338.2 1305.8 352.7C1303.4 367.1 1301.8 396.4 1301.0 405.1" stroke="#747474" stroke-width="2.0" fill="none" stroke-linecap="round" filter="url(#b05)"/>
<g filter="url(#bl)">
<ellipse cx="1243.4" cy="408.3" rx="3.5" ry="3.8" fill="url(#h1)"/>
<ellipse cx="1268.1" cy="408.0" rx="6.0" ry="5.4" fill="url(#h2)"/>
<ellipse cx="1316.9" cy="403.5" rx="8.7" ry="7.2" fill="url(#h3)" transform="rotate(25 1316.9 403.5)"/>
<ellipse cx="1336.0" cy="403.5" rx="10.8" ry="8.3" fill="url(#h5)"/>
</g>
</g>
<g clip-path="url(#c12)">
<g filter="url(#fur)">
<rect x="1368.0" y="311.6" width="153.5" height="139.3" fill="#202020"/>
<path d="M1407.5 421.8Q1407.7 435.3 1407.8 444.8" stroke="#c4c4c4" stroke-width="5.6" fill="none" stroke-linecap="round"/>
<path d="M1393.8 422.8Q1387.2 425.1 1380.5 426.6" stroke="#c4c4c4" stroke-width="5" fill="none" stroke-linecap="round"/>
<path d="M1424.3 422.8Q1433.4 427.4 1442.5 428.9" stroke="#c4c4c4" stroke-width="5" fill="none" stroke-linecap="round"/>
<ellipse cx="1390.3" cy="349.0" rx="4.4" ry="3.6" fill="#8e8e8e"/>
<ellipse cx="1426.2" cy="349.0" rx="4.4" ry="3.6" fill="#8e8e8e"/>
<path d="M1408.1 328.5C1409.7 327.6 1411.9 327.6 1413.2 328.5C1414.5 329.5 1414.5 331.7 1416.0 334.4C1417.5 337.1 1419.9 340.8 1422.2 344.7C1424.5 348.5 1428.0 352.0 1429.8 357.4C1431.6 362.7 1432.1 370.4 1432.9 376.9C1433.7 383.4 1434.2 390.3 1434.5 396.4C1434.8 402.6 1435.4 409.4 1434.5 414.0C1433.7 418.7 1431.8 422.0 1429.4 424.3C1427.0 426.6 1423.9 427.5 1420.2 427.7C1416.6 428.0 1411.7 425.8 1407.5 425.8C1403.3 425.8 1397.9 428.0 1394.8 427.7C1391.7 427.5 1390.6 426.6 1388.7 424.3C1386.9 422.0 1384.5 418.7 1383.7 414.0C1382.8 409.4 1383.5 402.6 1383.7 396.4C1383.8 390.3 1383.9 383.4 1384.5 376.9C1385.0 370.4 1384.8 362.7 1386.8 357.4C1388.8 352.0 1393.6 348.5 1396.4 344.7C1399.3 340.8 1402.1 337.1 1404.1 334.4C1406.0 331.7 1406.6 329.5 1408.1 328.5Z" fill="url(#mg)"/>
<path d="M1408.1 328.5C1409.7 327.6 1411.9 327.6 1413.2 328.5C1414.5 329.5 1414.5 331.7 1416.0 334.4C1417.5 337.1 1419.9 340.8 1422.2 344.7C1424.5 348.5 1428.0 352.0 1429.8 357.4C1431.6 362.7 1432.1 370.4 1432.9 376.9C1433.7 383.4 1434.2 390.3 1434.5 396.4C1434.8 402.6 1435.4 409.4 1434.5 414.0C1433.7 418.7 1431.8 422.0 1429.4 424.3C1427.0 426.6 1423.9 427.5 1420.2 427.7C1416.6 428.0 1411.7 425.8 1407.5 425.8C1403.3 425.8 1397.9 428.0 1394.8 427.7C1391.7 427.5 1390.6 426.6 1388.7 424.3C1386.9 422.0 1384.5 418.7 1383.7 414.0C1382.8 409.4 1383.5 402.6 1383.7 396.4C1383.8 390.3 1383.9 383.4 1384.5 376.9C1385.0 370.4 1384.8 362.7 1386.8 357.4C1388.8 352.0 1393.6 348.5 1396.4 344.7C1399.3 340.8 1402.1 337.1 1404.1 334.4C1406.0 331.7 1406.6 329.5 1408.1 328.5Z" fill="url(#ms)"/>
<ellipse cx="1409.1" cy="388.6" rx="15.3" ry="19.5" fill="#fff" opacity="0.4" filter="url(#b2)"/>
<ellipse cx="1398.1" cy="363.2" rx="5.1" ry="4.9" fill="#fff" opacity="0.7" filter="url(#b1)"/>
<ellipse cx="1418.5" cy="363.2" rx="5.1" ry="4.9" fill="#fff" opacity="0.7" filter="url(#b1)"/>
<path d="M1476.6 421.8Q1476.9 435.3 1477.1 444.8" stroke="#c4c4c4" stroke-width="5.6" fill="none" stroke-linecap="round"/>
<path d="M1460.2 422.9Q1456.1 427.4 1452.0 428.9" stroke="#c4c4c4" stroke-width="5" fill="none" stroke-linecap="round"/>
<path d="M1489.8 422.9Q1500.3 425.1 1510.8 426.6" stroke="#c4c4c4" stroke-width="5" fill="none" stroke-linecap="round"/>
<ellipse cx="1455.3" cy="349.7" rx="4.4" ry="3.6" fill="#8e8e8e"/>
<path d="M1471.8 329.3C1473.2 328.3 1475.6 328.3 1476.7 329.3C1477.8 330.3 1477.3 332.5 1478.4 335.1C1479.4 337.8 1481.4 341.5 1483.1 345.3C1484.8 349.1 1486.7 352.6 1488.6 357.9C1490.6 363.2 1493.0 370.8 1494.9 377.3C1496.7 383.8 1498.9 390.5 1499.7 396.7C1500.4 402.8 1500.5 409.5 1499.7 414.1C1498.8 418.7 1496.5 422.0 1494.7 424.3C1492.9 426.6 1491.9 427.5 1488.9 427.7C1485.9 427.9 1480.7 425.8 1476.6 425.8C1472.5 425.8 1467.8 427.9 1464.3 427.7C1460.7 427.5 1457.6 426.6 1455.3 424.3C1453.0 422.0 1451.2 418.7 1450.4 414.1C1449.6 409.5 1450.4 402.8 1450.4 396.7C1450.4 390.5 1450.1 383.8 1450.4 377.3C1450.6 370.8 1450.1 363.2 1451.9 357.9C1453.6 352.6 1458.2 349.1 1460.9 345.3C1463.6 341.5 1466.2 337.8 1468.0 335.1C1469.8 332.5 1470.3 330.3 1471.8 329.3Z" fill="url(#mg)"/>
<path d="M1471.8 329.3C1473.2 328.3 1475.6 328.3 1476.7 329.3C1477.8 330.3 1477.3 332.5 1478.4 335.1C1479.4 337.8 1481.4 341.5 1483.1 345.3C1484.8 349.1 1486.7 352.6 1488.6 357.9C1490.6 363.2 1493.0 370.8 1494.9 377.3C1496.7 383.8 1498.9 390.5 1499.7 396.7C1500.4 402.8 1500.5 409.5 1499.7 414.1C1498.8 418.7 1496.5 422.0 1494.7 424.3C1492.9 426.6 1491.9 427.5 1488.9 427.7C1485.9 427.9 1480.7 425.8 1476.6 425.8C1472.5 425.8 1467.8 427.9 1464.3 427.7C1460.7 427.5 1457.6 426.6 1455.3 424.3C1453.0 422.0 1451.2 418.7 1450.4 414.1C1449.6 409.5 1450.4 402.8 1450.4 396.7C1450.4 390.5 1450.1 383.8 1450.4 377.3C1450.6 370.8 1450.1 363.2 1451.9 357.9C1453.6 352.6 1458.2 349.1 1460.9 345.3C1463.6 341.5 1466.2 337.8 1468.0 335.1C1469.8 332.5 1470.3 330.3 1471.8 329.3Z" fill="url(#ms)"/>
<ellipse cx="1475.0" cy="388.9" rx="14.8" ry="19.4" fill="#fff" opacity="0.4" filter="url(#b2)"/>
<ellipse cx="1460.4" cy="363.7" rx="4.9" ry="4.8" fill="#fff" opacity="0.7" filter="url(#b1)"/>
<ellipse cx="1480.1" cy="363.7" rx="4.9" ry="4.8" fill="#fff" opacity="0.7" filter="url(#b1)"/>
</g>
<path d="M1382.1 318.5C1381.5 321.6 1379.8 330.3 1378.9 336.8C1378.0 343.3 1376.9 354.0 1376.5 357.4" stroke="#747474" stroke-width="2.0" fill="none" stroke-linecap="round" filter="url(#b05)"/>
<path d="M1444.0 347.9C1443.2 351.3 1440.9 361.9 1439.3 368.6C1437.7 375.2 1435.3 384.4 1434.5 387.6" stroke="#747474" stroke-width="2.0" fill="none" stroke-linecap="round" filter="url(#b05)"/>
<g filter="url(#bl)">
<ellipse cx="1394.8" cy="407.5" rx="6.7" ry="6.4" fill="url(#h2)"/>
<ellipse cx="1421.8" cy="409.9" rx="9.9" ry="8.3" fill="url(#h3)" transform="rotate(-25 1421.8 409.9)"/>
<ellipse cx="1467.9" cy="403.5" rx="8.9" ry="8.6" fill="url(#h3)"/>
<ellipse cx="1490.1" cy="400.3" rx="5.7" ry="5.7" fill="url(#h2)"/>
</g>
</g>
<g clip-path="url(#c13)">
<g filter="url(#fur)">
<rect x="104.2" y="989.2" width="165.9" height="163.7" fill="#202020"/>
<path d="M154.1 1121.4Q154.3 1136.0 154.5 1146.5" stroke="#c4c4c4" stroke-width="5.6" fill="none" stroke-linecap="round"/>
<path d="M134.6 1121.7Q129.1 1127.5 123.7 1130.5" stroke="#c4c4c4" stroke-width="5" fill="none" stroke-linecap="round"/>
<path d="M168.6 1121.7Q171.5 1125.6 174.4 1127.1" stroke="#c4c4c4" stroke-width="5" fill="none" stroke-linecap="round"/>
<ellipse cx="168.8" cy="1029.1" rx="4.4" ry="3.6" fill="#8e8e8e"/>
<path d="M151.3 1003.4C152.9 1002.1 155.6 1002.1 157.0 1003.4C158.3 1004.6 158.0 1007.4 159.4 1010.7C160.8 1014.1 163.3 1018.8 165.5 1023.6C167.7 1028.4 170.8 1032.8 172.7 1039.5C174.7 1046.3 176.0 1055.9 177.2 1064.1C178.4 1072.3 179.4 1080.8 179.9 1088.6C180.4 1096.4 180.8 1104.8 179.9 1110.7C179.0 1116.5 176.2 1120.7 174.2 1123.6C172.3 1126.4 171.6 1127.5 168.3 1127.8C164.9 1128.1 158.8 1125.4 154.1 1125.4C149.4 1125.4 144.2 1128.1 140.0 1127.8C135.8 1127.5 131.7 1126.4 128.9 1123.6C126.2 1120.7 124.2 1116.5 123.3 1110.7C122.3 1104.8 122.8 1096.4 123.3 1088.6C123.7 1080.8 124.8 1072.3 126.0 1064.1C127.2 1055.9 128.1 1046.3 130.5 1039.5C132.8 1032.8 137.1 1028.4 139.9 1023.6C142.8 1018.8 145.6 1014.1 147.5 1010.7C149.4 1007.4 149.7 1004.6 151.3 1003.4Z" fill="url(#mg2)"/>
<path d="M151.3 1003.4C152.9 1002.1 155.6 1002.1 157.0 1003.4C158.3 1004.6 158.0 1007.4 159.4 1010.7C160.8 1014.1 163.3 1018.8 165.5 1023.6C167.7 1028.4 170.8 1032.8 172.7 1039.5C174.7 1046.3 176.0 1055.9 177.2 1064.1C178.4 1072.3 179.4 1080.8 179.9 1088.6C180.4 1096.4 180.8 1104.8 179.9 1110.7C179.0 1116.5 176.2 1120.7 174.2 1123.6C172.3 1126.4 171.6 1127.5 168.3 1127.8C164.9 1128.1 158.8 1125.4 154.1 1125.4C149.4 1125.4 144.2 1128.1 140.0 1127.8C135.8 1127.5 131.7 1126.4 128.9 1123.6C126.2 1120.7 124.2 1116.5 123.3 1110.7C122.3 1104.8 122.8 1096.4 123.3 1088.6C123.7 1080.8 124.8 1072.3 126.0 1064.1C127.2 1055.9 128.1 1046.3 130.5 1039.5C132.8 1032.8 137.1 1028.4 139.9 1023.6C142.8 1018.8 145.6 1014.1 147.5 1010.7C149.4 1007.4 149.7 1004.6 151.3 1003.4Z" fill="url(#ms)"/>
<ellipse cx="151.6" cy="1078.8" rx="17.0" ry="24.5" fill="#fff" opacity="0.4" filter="url(#b2)"/>
<ellipse cx="140.3" cy="1046.9" rx="5.7" ry="6.1" fill="#fff" opacity="0.7" filter="url(#b1)"/>
<ellipse cx="162.9" cy="1046.9" rx="5.7" ry="6.1" fill="#fff" opacity="0.7" filter="url(#b1)"/>
<path d="M224.3 1116.3Q224.6 1133.4 224.8 1146.5" stroke="#c4c4c4" stroke-width="5.6" fill="none" stroke-linecap="round"/>
<path d="M207.8 1116.9Q207.2 1132.5 206.6 1135.5" stroke="#c4c4c4" stroke-width="5" fill="none" stroke-linecap="round"/>
<path d="M237.4 1116.9Q238.1 1134.2 238.7 1137.2" stroke="#c4c4c4" stroke-width="5" fill="none" stroke-linecap="round"/>
<path d="M220.2 1005.5C221.5 1004.4 223.9 1004.4 225.1 1005.5C226.3 1006.7 226.0 1009.3 227.2 1012.5C228.5 1015.6 230.6 1020.1 232.6 1024.6C234.5 1029.1 237.0 1033.2 238.9 1039.6C240.8 1045.9 242.4 1054.9 243.8 1062.6C245.2 1070.3 246.7 1078.4 247.3 1085.7C247.9 1093.0 248.1 1101.0 247.3 1106.5C246.5 1112.0 244.1 1115.9 242.4 1118.6C240.6 1121.3 239.7 1122.3 236.7 1122.6C233.6 1122.9 228.4 1120.3 224.3 1120.3C220.2 1120.3 215.6 1122.9 212.0 1122.6C208.4 1122.3 205.2 1121.3 202.9 1118.6C200.6 1115.9 198.8 1112.0 198.0 1106.5C197.1 1101.0 197.7 1093.0 198.0 1085.7C198.3 1078.4 198.9 1070.3 199.7 1062.6C200.6 1054.9 201.1 1045.9 203.0 1039.6C204.8 1033.2 208.4 1029.1 210.8 1024.6C213.2 1020.1 215.6 1015.6 217.1 1012.5C218.7 1009.3 218.8 1006.7 220.2 1005.5Z" fill="url(#mg2)"/>
<path d="M220.2 1005.5C221.5 1004.4 223.9 1004.4 225.1 1005.5C226.3 1006.7 226.0 1009.3 227.2 1012.5C228.5 1015.6 230.6 1020.1 232.6 1024.6C234.5 1029.1 237.0 1033.2 238.9 1039.6C240.8 1045.9 242.4 1054.9 243.8 1062.6C245.2 1070.3 246.7 1078.4 247.3 1085.7C247.9 1093.0 248.1 1101.0 247.3 1106.5C246.5 1112.0 244.1 1115.9 242.4 1118.6C240.6 1121.3 239.7 1122.3 236.7 1122.6C233.6 1122.9 228.4 1120.3 224.3 1120.3C220.2 1120.3 215.6 1122.9 212.0 1122.6C208.4 1122.3 205.2 1121.3 202.9 1118.6C200.6 1115.9 198.8 1112.0 198.0 1106.5C197.1 1101.0 197.7 1093.0 198.0 1085.7C198.3 1078.4 198.9 1070.3 199.7 1062.6C200.6 1054.9 201.1 1045.9 203.0 1039.6C204.8 1033.2 208.4 1029.1 210.8 1024.6C213.2 1020.1 215.6 1015.6 217.1 1012.5C218.7 1009.3 218.8 1006.7 220.2 1005.5Z" fill="url(#ms)"/>
<ellipse cx="222.6" cy="1076.5" rx="14.8" ry="23.1" fill="#fff" opacity="0.4" filter="url(#b2)"/>
<ellipse cx="211.1" cy="1046.5" rx="4.9" ry="5.8" fill="#fff" opacity="0.7" filter="url(#b1)"/>
<ellipse cx="230.8" cy="1046.5" rx="4.9" ry="5.8" fill="#fff" opacity="0.7" filter="url(#b1)"/>
</g>
<g filter="url(#bl)">
<ellipse cx="141.4" cy="1104.2" rx="6.1" ry="7.4" fill="url(#h3)"/>
<ellipse cx="157.5" cy="1103.4" rx="6.8" ry="7.8" fill="url(#h3)"/>
<ellipse cx="216.4" cy="1100.4" rx="5.8" ry="6.4" fill="url(#h3)"/>
<ellipse cx="232.3" cy="1100.9" rx="6.8" ry="7.1" fill="url(#h3)"/>
</g>
</g>
<g clip-path="url(#c14)">
<g filter="url(#fur)">
<rect x="262.0" y="989.2" width="166.1" height="163.7" fill="#202020"/>
<path d="M305.5 1116.3Q305.8 1133.4 306.0 1146.5" stroke="#c4c4c4" stroke-width="5.6" fill="none" stroke-linecap="round"/>
<path d="M290.6 1116.9Q283.3 1122.4 275.9 1125.4" stroke="#c4c4c4" stroke-width="5" fill="none" stroke-linecap="round"/>
<path d="M322.9 1116.9Q329.9 1127.5 336.8 1130.5" stroke="#c4c4c4" stroke-width="5" fill="none" stroke-linecap="round"/>
<ellipse cx="323.0" cy="1030.7" rx="4.4" ry="3.6" fill="#8e8e8e"/>
<path d="M303.7 1006.7C304.8 1005.6 307.6 1005.6 309.1 1006.7C310.5 1007.9 310.5 1010.4 312.1 1013.6C313.7 1016.7 316.2 1021.1 318.7 1025.6C321.1 1030.0 324.7 1034.1 326.7 1040.4C328.8 1046.7 329.9 1055.6 331.0 1063.2C332.2 1070.8 333.3 1078.8 333.7 1086.1C334.2 1093.3 334.6 1101.2 333.7 1106.6C332.8 1112.0 330.8 1115.9 328.3 1118.6C325.9 1121.3 322.8 1122.3 319.0 1122.6C315.2 1122.9 310.0 1120.3 305.5 1120.3C301.0 1120.3 295.4 1122.9 292.0 1122.6C288.7 1122.3 287.3 1121.3 285.2 1118.6C283.2 1115.9 280.7 1112.0 279.8 1106.6C278.9 1101.2 279.0 1093.3 279.8 1086.1C280.6 1078.8 282.8 1070.8 284.6 1063.2C286.5 1055.6 289.0 1046.7 291.1 1040.4C293.1 1034.1 295.1 1030.0 296.9 1025.6C298.7 1021.1 300.8 1016.7 302.0 1013.6C303.1 1010.4 302.5 1007.9 303.7 1006.7Z" fill="url(#mg2)"/>
<path d="M303.7 1006.7C304.8 1005.6 307.6 1005.6 309.1 1006.7C310.5 1007.9 310.5 1010.4 312.1 1013.6C313.7 1016.7 316.2 1021.1 318.7 1025.6C321.1 1030.0 324.7 1034.1 326.7 1040.4C328.8 1046.7 329.9 1055.6 331.0 1063.2C332.2 1070.8 333.3 1078.8 333.7 1086.1C334.2 1093.3 334.6 1101.2 333.7 1106.6C332.8 1112.0 330.8 1115.9 328.3 1118.6C325.9 1121.3 322.8 1122.3 319.0 1122.6C315.2 1122.9 310.0 1120.3 305.5 1120.3C301.0 1120.3 295.4 1122.9 292.0 1122.6C288.7 1122.3 287.3 1121.3 285.2 1118.6C283.2 1115.9 280.7 1112.0 279.8 1106.6C278.9 1101.2 279.0 1093.3 279.8 1086.1C280.6 1078.8 282.8 1070.8 284.6 1063.2C286.5 1055.6 289.0 1046.7 291.1 1040.4C293.1 1034.1 295.1 1030.0 296.9 1025.6C298.7 1021.1 300.8 1016.7 302.0 1013.6C303.1 1010.4 302.5 1007.9 303.7 1006.7Z" fill="url(#ms)"/>
<ellipse cx="306.8" cy="1076.9" rx="16.2" ry="22.8" fill="#fff" opacity="0.4" filter="url(#b2)"/>
<ellipse cx="298.1" cy="1047.2" rx="5.4" ry="5.7" fill="#fff" opacity="0.7" filter="url(#b1)"/>
<ellipse cx="319.7" cy="1047.2" rx="5.4" ry="5.7" fill="#fff" opacity="0.7" filter="url(#b1)"/>
<path d="M380.8 1121.4Q381.2 1136.0 381.6 1146.5" stroke="#c4c4c4" stroke-width="5.6" fill="none" stroke-linecap="round"/>
<path d="M364.6 1121.9Q356.6 1122.2 348.6 1123.7" stroke="#c4c4c4" stroke-width="5" fill="none" stroke-linecap="round"/>
<path d="M398.6 1121.9Q406.6 1127.3 414.6 1128.8" stroke="#c4c4c4" stroke-width="5" fill="none" stroke-linecap="round"/>
<ellipse cx="367.8" cy="1033.1" rx="4.4" ry="3.6" fill="#8e8e8e"/>
<path d="M376.3 1008.4C377.5 1007.2 380.4 1007.2 381.9 1008.4C383.4 1009.6 383.5 1012.2 385.2 1015.5C387.0 1018.7 389.7 1023.2 392.3 1027.8C395.0 1032.4 398.7 1036.6 401.1 1043.1C403.4 1049.6 404.9 1058.8 406.4 1066.6C407.8 1074.4 409.3 1082.7 409.9 1090.1C410.5 1097.6 410.9 1105.7 409.9 1111.3C409.0 1116.9 406.8 1120.9 404.3 1123.6C401.8 1126.4 398.9 1127.4 394.9 1127.7C391.0 1128.0 385.5 1125.4 380.8 1125.4C376.1 1125.4 370.3 1128.0 366.6 1127.7C363.0 1127.4 361.2 1126.4 359.0 1123.6C356.8 1120.9 354.3 1116.9 353.3 1111.3C352.4 1105.7 352.6 1097.6 353.3 1090.1C354.0 1082.7 356.0 1074.4 357.7 1066.6C359.5 1058.8 361.9 1049.6 363.9 1043.1C365.9 1036.6 367.8 1032.4 369.6 1027.8C371.4 1023.2 373.6 1018.7 374.7 1015.5C375.8 1012.2 375.1 1009.6 376.3 1008.4Z" fill="url(#mg2)"/>
<path d="M376.3 1008.4C377.5 1007.2 380.4 1007.2 381.9 1008.4C383.4 1009.6 383.5 1012.2 385.2 1015.5C387.0 1018.7 389.7 1023.2 392.3 1027.8C395.0 1032.4 398.7 1036.6 401.1 1043.1C403.4 1049.6 404.9 1058.8 406.4 1066.6C407.8 1074.4 409.3 1082.7 409.9 1090.1C410.5 1097.6 410.9 1105.7 409.9 1111.3C409.0 1116.9 406.8 1120.9 404.3 1123.6C401.8 1126.4 398.9 1127.4 394.9 1127.7C391.0 1128.0 385.5 1125.4 380.8 1125.4C376.1 1125.4 370.3 1128.0 366.6 1127.7C363.0 1127.4 361.2 1126.4 359.0 1123.6C356.8 1120.9 354.3 1116.9 353.3 1111.3C352.4 1105.7 352.6 1097.6 353.3 1090.1C354.0 1082.7 356.0 1074.4 357.7 1066.6C359.5 1058.8 361.9 1049.6 363.9 1043.1C365.9 1036.6 367.8 1032.4 369.6 1027.8C371.4 1023.2 373.6 1018.7 374.7 1015.5C375.8 1012.2 375.1 1009.6 376.3 1008.4Z" fill="url(#ms)"/>
<ellipse cx="381.6" cy="1080.7" rx="17.0" ry="23.5" fill="#fff" opacity="0.4" filter="url(#b2)"/>
<ellipse cx="371.1" cy="1050.2" rx="5.7" ry="5.9" fill="#fff" opacity="0.7" filter="url(#b1)"/>
<ellipse cx="393.8" cy="1050.2" rx="5.7" ry="5.9" fill="#fff" opacity="0.7" filter="url(#b1)"/>
</g>
<g filter="url(#bl)">
<ellipse cx="297.1" cy="1097.0" rx="6.4" ry="7.1" fill="url(#h3)"/>
<ellipse cx="315.7" cy="1096.3" rx="3.4" ry="2.7" fill="url(#h1)"/>
<ellipse cx="375.4" cy="1106.4" rx="5.9" ry="5.8" fill="url(#h2)"/>
<ellipse cx="396.8" cy="1104.2" rx="5.4" ry="5.1" fill="url(#h1)"/>
</g>
</g>
<g clip-path="url(#c15)">
<g filter="url(#fur)">
<rect x="419.2" y="989.2" width="165.9" height="163.7" fill="#202020"/>
<path d="M462.4 1123.1Q459.8 1136.8 457.3 1146.5" stroke="#c4c4c4" stroke-width="5.6" fill="none" stroke-linecap="round"/>
<path d="M449.3 1123.5Q444.8 1122.0 440.4 1120.3" stroke="#c4c4c4" stroke-width="5" fill="none" stroke-linecap="round"/>
<path d="M482.2 1123.5Q482.4 1122.2 482.7 1123.7" stroke="#c4c4c4" stroke-width="5" fill="none" stroke-linecap="round"/>
<ellipse cx="489.0" cy="1032.1" rx="4.4" ry="3.6" fill="#8e8e8e"/>
<path d="M471.5 1006.7C472.8 1005.5 475.6 1005.5 476.9 1006.7C478.3 1008.0 478.0 1010.7 479.5 1014.0C480.9 1017.3 483.3 1022.0 485.6 1026.7C487.8 1031.4 491.5 1035.8 492.9 1042.4C494.2 1049.1 493.8 1058.5 493.8 1066.6C493.9 1074.7 493.3 1083.1 493.1 1090.8C493.0 1098.5 494.1 1106.8 493.1 1112.6C492.2 1118.3 490.5 1122.4 487.7 1125.3C484.8 1128.1 480.3 1129.2 476.1 1129.5C471.8 1129.8 466.9 1127.1 462.4 1127.1C457.8 1127.1 451.7 1129.8 448.7 1129.5C445.6 1129.2 445.5 1128.1 443.8 1125.3C442.1 1122.4 439.3 1118.3 438.3 1112.6C437.4 1106.8 437.1 1098.5 438.3 1090.8C439.6 1083.1 443.0 1074.7 445.7 1066.6C448.4 1058.5 451.9 1049.1 454.7 1042.4C457.5 1035.8 460.0 1031.4 462.4 1026.7C464.7 1022.0 467.2 1017.3 468.7 1014.0C470.2 1010.7 470.1 1008.0 471.5 1006.7Z" fill="url(#mg2)"/>
<path d="M471.5 1006.7C472.8 1005.5 475.6 1005.5 476.9 1006.7C478.3 1008.0 478.0 1010.7 479.5 1014.0C480.9 1017.3 483.3 1022.0 485.6 1026.7C487.8 1031.4 491.5 1035.8 492.9 1042.4C494.2 1049.1 493.8 1058.5 493.8 1066.6C493.9 1074.7 493.3 1083.1 493.1 1090.8C493.0 1098.5 494.1 1106.8 493.1 1112.6C492.2 1118.3 490.5 1122.4 487.7 1125.3C484.8 1128.1 480.3 1129.2 476.1 1129.5C471.8 1129.8 466.9 1127.1 462.4 1127.1C457.8 1127.1 451.7 1129.8 448.7 1129.5C445.6 1129.2 445.5 1128.1 443.8 1125.3C442.1 1122.4 439.3 1118.3 438.3 1112.6C437.4 1106.8 437.1 1098.5 438.3 1090.8C439.6 1083.1 443.0 1074.7 445.7 1066.6C448.4 1058.5 451.9 1049.1 454.7 1042.4C457.5 1035.8 460.0 1031.4 462.4 1026.7C464.7 1022.0 467.2 1017.3 468.7 1014.0C470.2 1010.7 470.1 1008.0 471.5 1006.7Z" fill="url(#ms)"/>
<ellipse cx="465.7" cy="1081.1" rx="16.4" ry="24.2" fill="#fff" opacity="0.4" filter="url(#b2)"/>
<ellipse cx="462.8" cy="1049.7" rx="5.5" ry="6.0" fill="#fff" opacity="0.7" filter="url(#b1)"/>
<ellipse cx="484.7" cy="1049.7" rx="5.5" ry="6.0" fill="#fff" opacity="0.7" filter="url(#b1)"/>
<path d="M538.5 1114.6Q538.6 1132.6 538.8 1146.5" stroke="#c4c4c4" stroke-width="5.6" fill="none" stroke-linecap="round"/>
<path d="M522.6 1115.2Q516.2 1120.7 509.7 1123.7" stroke="#c4c4c4" stroke-width="5" fill="none" stroke-linecap="round"/>
<path d="M557.7 1115.2Q562.5 1122.4 567.2 1125.4" stroke="#c4c4c4" stroke-width="5" fill="none" stroke-linecap="round"/>
<ellipse cx="525.7" cy="1029.4" rx="4.4" ry="3.6" fill="#8e8e8e"/>
<path d="M544.0 1005.5C545.7 1004.4 548.7 1004.4 549.9 1005.5C551.0 1006.7 550.0 1009.2 550.9 1012.3C551.8 1015.5 553.9 1019.8 555.5 1024.3C557.0 1028.7 558.7 1032.8 560.4 1039.1C562.1 1045.3 564.3 1054.2 565.8 1061.8C567.3 1069.4 568.8 1077.3 569.4 1084.5C570.0 1091.7 570.4 1099.6 569.4 1105.0C568.4 1110.4 566.3 1114.3 563.5 1116.9C560.8 1119.6 557.3 1120.6 553.1 1120.9C548.9 1121.2 543.3 1118.6 538.5 1118.6C533.6 1118.6 527.5 1121.2 523.9 1120.9C520.2 1120.6 518.9 1119.6 516.8 1116.9C514.6 1114.3 511.9 1110.4 510.9 1105.0C510.0 1099.6 510.2 1091.7 510.9 1084.5C511.7 1077.3 513.6 1069.4 515.4 1061.8C517.2 1054.2 518.9 1045.3 521.6 1039.1C524.4 1032.8 528.7 1028.7 531.8 1024.3C534.8 1019.8 537.9 1015.5 539.9 1012.3C541.9 1009.2 542.3 1006.7 544.0 1005.5Z" fill="url(#mg2)"/>
<path d="M544.0 1005.5C545.7 1004.4 548.7 1004.4 549.9 1005.5C551.0 1006.7 550.0 1009.2 550.9 1012.3C551.8 1015.5 553.9 1019.8 555.5 1024.3C557.0 1028.7 558.7 1032.8 560.4 1039.1C562.1 1045.3 564.3 1054.2 565.8 1061.8C567.3 1069.4 568.8 1077.3 569.4 1084.5C570.0 1091.7 570.4 1099.6 569.4 1105.0C568.4 1110.4 566.3 1114.3 563.5 1116.9C560.8 1119.6 557.3 1120.6 553.1 1120.9C548.9 1121.2 543.3 1118.6 538.5 1118.6C533.6 1118.6 527.5 1121.2 523.9 1120.9C520.2 1120.6 518.9 1119.6 516.8 1116.9C514.6 1114.3 511.9 1110.4 510.9 1105.0C510.0 1099.6 510.2 1091.7 510.9 1084.5C511.7 1077.3 513.6 1069.4 515.4 1061.8C517.2 1054.2 518.9 1045.3 521.6 1039.1C524.4 1032.8 528.7 1028.7 531.8 1024.3C534.8 1019.8 537.9 1015.5 539.9 1012.3C541.9 1009.2 542.3 1006.7 544.0 1005.5Z" fill="url(#ms)"/>
<ellipse cx="540.2" cy="1075.4" rx="17.5" ry="22.7" fill="#fff" opacity="0.4" filter="url(#b2)"/>
<ellipse cx="529.3" cy="1045.9" rx="5.8" ry="5.7" fill="#fff" opacity="0.7" filter="url(#b1)"/>
<ellipse cx="552.7" cy="1045.9" rx="5.8" ry="5.7" fill="#fff" opacity="0.7" filter="url(#b1)"/>
</g>
<g filter="url(#bl)">
<ellipse cx="453.6" cy="1102.0" rx="6.4" ry="7.1" fill="url(#h2)"/>
<ellipse cx="470.5" cy="1098.7" rx="7.1" ry="4.7" fill="url(#h1)" transform="rotate(-20 470.5 1098.7)"/>
<ellipse cx="532.6" cy="1094.9" rx="7.4" ry="8.1" fill="url(#h4)"/>
<ellipse cx="550.0" cy="1095.8" rx="6.1" ry="5.8" fill="url(#h1)"/>
</g>
</g>
<g clip-path="url(#c16)">
<g filter="url(#fur)">
<rect x="576.5" y="989.2" width="165.3" height="163.7" fill="#202020"/>
<path d="M621.4 1119.7Q621.8 1135.1 622.2 1146.5" stroke="#c4c4c4" stroke-width="5.6" fill="none" stroke-linecap="round"/>
<path d="M604.5 1120.2Q595.2 1127.5 585.8 1130.5" stroke="#c4c4c4" stroke-width="5" fill="none" stroke-linecap="round"/>
<path d="M639.0 1120.2Q645.4 1127.5 651.8 1130.5" stroke="#c4c4c4" stroke-width="5" fill="none" stroke-linecap="round"/>
<ellipse cx="606.8" cy="1032.1" rx="4.4" ry="3.6" fill="#8e8e8e"/>
<path d="M615.9 1007.6C617.2 1006.4 620.2 1006.4 621.7 1007.6C623.2 1008.7 623.1 1011.4 624.8 1014.6C626.4 1017.8 629.1 1022.3 631.6 1026.8C634.1 1031.4 637.5 1035.6 639.9 1042.0C642.3 1048.4 644.3 1057.6 646.1 1065.3C647.9 1073.1 649.8 1081.3 650.5 1088.7C651.3 1096.1 651.5 1104.1 650.5 1109.7C649.6 1115.2 647.3 1119.2 644.8 1121.9C642.3 1124.7 639.6 1125.7 635.7 1126.0C631.8 1126.3 626.2 1123.7 621.4 1123.7C616.6 1123.7 610.7 1126.3 607.0 1126.0C603.2 1125.7 601.1 1124.7 598.8 1121.9C596.4 1119.2 594.0 1115.2 593.0 1109.7C592.0 1104.1 592.3 1096.1 593.0 1088.7C593.7 1081.3 595.4 1073.1 597.0 1065.3C598.7 1057.6 600.8 1048.4 602.8 1042.0C604.8 1035.6 607.0 1031.4 608.9 1026.8C610.8 1022.3 613.0 1017.8 614.2 1014.6C615.4 1011.4 614.7 1008.7 615.9 1007.6Z" fill="url(#mg2)"/>
<path d="M615.9 1007.6C617.2 1006.4 620.2 1006.4 621.7 1007.6C623.2 1008.7 623.1 1011.4 624.8 1014.6C626.4 1017.8 629.1 1022.3 631.6 1026.8C634.1 1031.4 637.5 1035.6 639.9 1042.0C642.3 1048.4 644.3 1057.6 646.1 1065.3C647.9 1073.1 649.8 1081.3 650.5 1088.7C651.3 1096.1 651.5 1104.1 650.5 1109.7C649.6 1115.2 647.3 1119.2 644.8 1121.9C642.3 1124.7 639.6 1125.7 635.7 1126.0C631.8 1126.3 626.2 1123.7 621.4 1123.7C616.6 1123.7 610.7 1126.3 607.0 1126.0C603.2 1125.7 601.1 1124.7 598.8 1121.9C596.4 1119.2 594.0 1115.2 593.0 1109.7C592.0 1104.1 592.3 1096.1 593.0 1088.7C593.7 1081.3 595.4 1073.1 597.0 1065.3C598.7 1057.6 600.8 1048.4 602.8 1042.0C604.8 1035.6 607.0 1031.4 608.9 1026.8C610.8 1022.3 613.0 1017.8 614.2 1014.6C615.4 1011.4 614.7 1008.7 615.9 1007.6Z" fill="url(#ms)"/>
<ellipse cx="621.8" cy="1079.3" rx="17.3" ry="23.3" fill="#fff" opacity="0.4" filter="url(#b2)"/>
<ellipse cx="609.8" cy="1049.0" rx="5.8" ry="5.8" fill="#fff" opacity="0.7" filter="url(#b1)"/>
<ellipse cx="632.9" cy="1049.0" rx="5.8" ry="5.8" fill="#fff" opacity="0.7" filter="url(#b1)"/>
<path d="M695.8 1114.6Q696.2 1132.6 696.6 1146.5" stroke="#c4c4c4" stroke-width="5.6" fill="none" stroke-linecap="round"/>
<path d="M679.3 1115.2Q672.3 1118.8 665.3 1120.3" stroke="#c4c4c4" stroke-width="5" fill="none" stroke-linecap="round"/>
<path d="M712.2 1115.2Q720.1 1117.1 727.9 1118.6" stroke="#c4c4c4" stroke-width="5" fill="none" stroke-linecap="round"/>
<ellipse cx="712.3" cy="1028.3" rx="4.4" ry="3.6" fill="#8e8e8e"/>
<path d="M689.7 1004.2C690.9 1003.0 693.6 1003.0 695.1 1004.2C696.7 1005.3 697.1 1007.9 699.0 1011.1C700.9 1014.2 703.7 1018.7 706.6 1023.2C709.5 1027.7 713.8 1031.8 716.1 1038.1C718.4 1044.4 719.3 1053.4 720.5 1061.1C721.7 1068.8 722.7 1076.8 723.2 1084.1C723.6 1091.4 724.1 1099.4 723.2 1104.8C722.3 1110.3 720.0 1114.2 717.7 1116.9C715.4 1119.6 713.1 1120.6 709.5 1120.9C705.8 1121.2 700.3 1118.6 695.8 1118.6C691.2 1118.6 685.7 1121.2 682.1 1120.9C678.4 1120.6 676.1 1119.6 673.9 1116.9C671.6 1114.2 669.3 1110.3 668.4 1104.8C667.5 1099.4 667.9 1091.4 668.4 1084.1C668.8 1076.8 669.9 1068.8 671.1 1061.1C672.3 1053.4 673.6 1044.4 675.4 1038.1C677.2 1031.8 680.0 1027.7 682.0 1023.2C684.0 1018.7 686.3 1014.2 687.6 1011.1C688.8 1007.9 688.4 1005.3 689.7 1004.2Z" fill="url(#mg2)"/>
<path d="M689.7 1004.2C690.9 1003.0 693.6 1003.0 695.1 1004.2C696.7 1005.3 697.1 1007.9 699.0 1011.1C700.9 1014.2 703.7 1018.7 706.6 1023.2C709.5 1027.7 713.8 1031.8 716.1 1038.1C718.4 1044.4 719.3 1053.4 720.5 1061.1C721.7 1068.8 722.7 1076.8 723.2 1084.1C723.6 1091.4 724.1 1099.4 723.2 1104.8C722.3 1110.3 720.0 1114.2 717.7 1116.9C715.4 1119.6 713.1 1120.6 709.5 1120.9C705.8 1121.2 700.3 1118.6 695.8 1118.6C691.2 1118.6 685.7 1121.2 682.1 1120.9C678.4 1120.6 676.1 1119.6 673.9 1116.9C671.6 1114.2 669.3 1110.3 668.4 1104.8C667.5 1099.4 667.9 1091.4 668.4 1084.1C668.8 1076.8 669.9 1068.8 671.1 1061.1C672.3 1053.4 673.6 1044.4 675.4 1038.1C677.2 1031.8 680.0 1027.7 682.0 1023.2C684.0 1018.7 686.3 1014.2 687.6 1011.1C688.8 1007.9 688.4 1005.3 689.7 1004.2Z" fill="url(#ms)"/>
<ellipse cx="695.8" cy="1074.9" rx="16.4" ry="23.0" fill="#fff" opacity="0.4" filter="url(#b2)"/>
<ellipse cx="684.8" cy="1045.0" rx="5.5" ry="5.8" fill="#fff" opacity="0.7" filter="url(#b1)"/>
<ellipse cx="706.7" cy="1045.0" rx="5.5" ry="5.8" fill="#fff" opacity="0.7" filter="url(#b1)"/>
</g>
<g filter="url(#bl)">
<ellipse cx="616.3" cy="1105.4" rx="7.1" ry="7.4" fill="url(#h3)"/>
<ellipse cx="639.6" cy="1100.0" rx="6.4" ry="6.1" fill="url(#h2)"/>
<ellipse cx="686.5" cy="1094.1" rx="10.1" ry="8.5" fill="url(#h3)" transform="rotate(20 686.5 1094.1)"/>
<ellipse cx="703.4" cy="1093.6" rx="8.8" ry="8.5" fill="url(#h3)" transform="rotate(-20 703.4 1093.6)"/>
</g>
</g>
<g clip-path="url(#c17)">
<g filter="url(#fur)">
<rect x="104.2" y="1145.2" width="165.9" height="163.5" fill="#202020"/>
<path d="M154.1 1269.6Q154.5 1288.0 155.0 1302.4" stroke="#c4c4c4" stroke-width="5.6" fill="none" stroke-linecap="round"/>
<path d="M138.2 1270.1Q138.5 1292.6 138.9 1295.6" stroke="#c4c4c4" stroke-width="5" fill="none" stroke-linecap="round"/>
<path d="M166.7 1270.1Q172.2 1275.5 177.8 1277.0" stroke="#c4c4c4" stroke-width="5" fill="none" stroke-linecap="round"/>
<ellipse cx="168.0" cy="1182.7" rx="4.4" ry="3.6" fill="#8e8e8e"/>
<path d="M144.1 1158.3C145.2 1157.2 147.4 1157.2 148.9 1158.3C150.4 1159.5 151.3 1162.1 153.3 1165.3C155.4 1168.5 158.2 1172.9 161.2 1177.5C164.2 1182.0 169.1 1186.1 171.3 1192.5C173.5 1198.9 173.6 1208.0 174.5 1215.7C175.3 1223.4 175.9 1231.5 176.2 1238.9C176.5 1246.2 177.0 1254.2 176.2 1259.7C175.4 1265.2 173.1 1269.2 171.4 1271.9C169.7 1274.6 168.9 1275.7 166.0 1275.9C163.1 1276.2 158.1 1273.6 154.1 1273.6C150.2 1273.6 145.7 1276.2 142.3 1275.9C138.8 1275.7 135.7 1274.6 133.4 1271.9C131.2 1269.2 129.5 1265.2 128.7 1259.7C127.9 1254.2 128.4 1246.2 128.7 1238.9C129.0 1231.5 129.6 1223.4 130.4 1215.7C131.2 1208.0 132.2 1198.9 133.6 1192.5C134.9 1186.1 136.9 1182.0 138.5 1177.5C140.0 1172.9 141.8 1168.5 142.8 1165.3C143.7 1162.1 143.1 1159.5 144.1 1158.3Z" fill="url(#mg2)"/>
<path d="M144.1 1158.3C145.2 1157.2 147.4 1157.2 148.9 1158.3C150.4 1159.5 151.3 1162.1 153.3 1165.3C155.4 1168.5 158.2 1172.9 161.2 1177.5C164.2 1182.0 169.1 1186.1 171.3 1192.5C173.5 1198.9 173.6 1208.0 174.5 1215.7C175.3 1223.4 175.9 1231.5 176.2 1238.9C176.5 1246.2 177.0 1254.2 176.2 1259.7C175.4 1265.2 173.1 1269.2 171.4 1271.9C169.7 1274.6 168.9 1275.7 166.0 1275.9C163.1 1276.2 158.1 1273.6 154.1 1273.6C150.2 1273.6 145.7 1276.2 142.3 1275.9C138.8 1275.7 135.7 1274.6 133.4 1271.9C131.2 1269.2 129.5 1265.2 128.7 1259.7C127.9 1254.2 128.4 1246.2 128.7 1238.9C129.0 1231.5 129.6 1223.4 130.4 1215.7C131.2 1208.0 132.2 1198.9 133.6 1192.5C134.9 1186.1 136.9 1182.0 138.5 1177.5C140.0 1172.9 141.8 1168.5 142.8 1165.3C143.7 1162.1 143.1 1159.5 144.1 1158.3Z" fill="url(#ms)"/>
<ellipse cx="152.4" cy="1229.6" rx="14.2" ry="23.2" fill="#fff" opacity="0.4" filter="url(#b2)"/>
<ellipse cx="142.9" cy="1199.5" rx="4.7" ry="5.8" fill="#fff" opacity="0.7" filter="url(#b1)"/>
<ellipse cx="161.9" cy="1199.5" rx="4.7" ry="5.8" fill="#fff" opacity="0.7" filter="url(#b1)"/>
<path d="M226.0 1269.6Q226.3 1288.0 226.5 1302.4" stroke="#c4c4c4" stroke-width="5.6" fill="none" stroke-linecap="round"/>
<path d="M209.8 1270.3Q205.7 1280.8 201.5 1283.8" stroke="#c4c4c4" stroke-width="5" fill="none" stroke-linecap="round"/>
<path d="M240.5 1270.3Q241.3 1287.5 242.1 1290.5" stroke="#c4c4c4" stroke-width="5" fill="none" stroke-linecap="round"/>
<ellipse cx="238.7" cy="1186.0" rx="4.4" ry="3.6" fill="#8e8e8e"/>
<path d="M216.7 1162.5C217.9 1161.4 220.3 1161.4 221.8 1162.5C223.3 1163.7 223.8 1166.2 225.6 1169.2C227.5 1172.3 230.2 1176.6 233.0 1181.0C235.8 1185.3 239.9 1189.3 242.2 1195.5C244.6 1201.6 245.8 1210.4 247.3 1217.8C248.7 1225.2 250.2 1233.1 250.7 1240.1C251.3 1247.2 251.6 1254.9 250.7 1260.2C249.9 1265.5 247.6 1269.3 245.6 1271.9C243.6 1274.6 242.1 1275.6 238.8 1275.9C235.5 1276.1 230.3 1273.6 226.0 1273.6C221.7 1273.6 216.8 1276.1 213.2 1275.9C209.7 1275.6 207.0 1274.6 204.7 1271.9C202.4 1269.3 200.4 1265.5 199.6 1260.2C198.7 1254.9 199.4 1247.2 199.6 1240.1C199.7 1233.1 200.0 1225.2 200.5 1217.8C201.1 1210.4 201.6 1201.6 203.0 1195.5C204.5 1189.3 207.4 1185.3 209.3 1181.0C211.2 1176.6 213.4 1172.3 214.6 1169.2C215.9 1166.2 215.5 1163.7 216.7 1162.5Z" fill="url(#mg2)"/>
<path d="M216.7 1162.5C217.9 1161.4 220.3 1161.4 221.8 1162.5C223.3 1163.7 223.8 1166.2 225.6 1169.2C227.5 1172.3 230.2 1176.6 233.0 1181.0C235.8 1185.3 239.9 1189.3 242.2 1195.5C244.6 1201.6 245.8 1210.4 247.3 1217.8C248.7 1225.2 250.2 1233.1 250.7 1240.1C251.3 1247.2 251.6 1254.9 250.7 1260.2C249.9 1265.5 247.6 1269.3 245.6 1271.9C243.6 1274.6 242.1 1275.6 238.8 1275.9C235.5 1276.1 230.3 1273.6 226.0 1273.6C221.7 1273.6 216.8 1276.1 213.2 1275.9C209.7 1275.6 207.0 1274.6 204.7 1271.9C202.4 1269.3 200.4 1265.5 199.6 1260.2C198.7 1254.9 199.4 1247.2 199.6 1240.1C199.7 1233.1 200.0 1225.2 200.5 1217.8C201.1 1210.4 201.6 1201.6 203.0 1195.5C204.5 1189.3 207.4 1185.3 209.3 1181.0C211.2 1176.6 213.4 1172.3 214.6 1169.2C215.9 1166.2 215.5 1163.7 216.7 1162.5Z" fill="url(#ms)"/>
<ellipse cx="225.2" cy="1231.2" rx="15.3" ry="22.3" fill="#fff" opacity="0.4" filter="url(#b2)"/>
<ellipse cx="212.4" cy="1202.2" rx="5.1" ry="5.6" fill="#fff" opacity="0.7" filter="url(#b1)"/>
<ellipse cx="232.9" cy="1202.2" rx="5.1" ry="5.6" fill="#fff" opacity="0.7" filter="url(#b1)"/>
</g>
<g filter="url(#bl)">
<ellipse cx="149.1" cy="1252.0" rx="6.4" ry="8.5" fill="url(#h4)"/>
<ellipse cx="160.6" cy="1253.0" rx="3.4" ry="6.4" fill="url(#h3)"/>
<ellipse cx="215.5" cy="1252.5" rx="6.4" ry="8.5" fill="url(#h5)"/>
<ellipse cx="229.9" cy="1252.0" rx="6.4" ry="8.1" fill="url(#h4)"/>
</g>
</g>
<g clip-path="url(#c18)">
<g filter="url(#fur)">
<rect x="262.0" y="1145.2" width="166.1" height="163.5" fill="#202020"/>
<path d="M309.7 1269.6Q308.0 1288.0 306.4 1302.4" stroke="#c4c4c4" stroke-width="5.6" fill="none" stroke-linecap="round"/>
<path d="M292.3 1270.2Q285.0 1277.4 277.6 1280.4" stroke="#c4c4c4" stroke-width="5" fill="none" stroke-linecap="round"/>
<path d="M324.6 1270.2Q330.7 1279.1 336.8 1282.1" stroke="#c4c4c4" stroke-width="5" fill="none" stroke-linecap="round"/>
<ellipse cx="291.4" cy="1183.1" rx="4.4" ry="3.6" fill="#8e8e8e"/>
<path d="M304.5 1158.8C305.9 1157.7 308.7 1157.7 309.9 1158.8C311.1 1160.0 310.6 1162.6 311.8 1165.8C313.0 1168.9 315.2 1173.4 317.1 1177.9C319.1 1182.4 321.2 1186.5 323.3 1192.9C325.5 1199.2 328.2 1208.3 330.2 1215.9C332.2 1223.6 334.5 1231.7 335.4 1239.0C336.3 1246.3 336.3 1254.3 335.4 1259.8C334.5 1265.3 332.1 1269.2 330.0 1271.9C328.0 1274.6 326.6 1275.6 323.2 1275.9C319.8 1276.2 314.2 1273.6 309.7 1273.6C305.2 1273.6 300.1 1276.2 296.3 1275.9C292.5 1275.6 289.4 1274.6 286.9 1271.9C284.5 1269.2 282.4 1265.3 281.5 1259.8C280.6 1254.3 281.1 1246.3 281.5 1239.0C281.9 1231.7 282.8 1223.6 283.8 1215.9C284.8 1208.3 285.7 1199.2 287.7 1192.9C289.6 1186.5 293.0 1182.4 295.4 1177.9C297.7 1173.4 300.2 1168.9 301.7 1165.8C303.2 1162.6 303.1 1160.0 304.5 1158.8Z" fill="url(#mg2)"/>
<path d="M304.5 1158.8C305.9 1157.7 308.7 1157.7 309.9 1158.8C311.1 1160.0 310.6 1162.6 311.8 1165.8C313.0 1168.9 315.2 1173.4 317.1 1177.9C319.1 1182.4 321.2 1186.5 323.3 1192.9C325.5 1199.2 328.2 1208.3 330.2 1215.9C332.2 1223.6 334.5 1231.7 335.4 1239.0C336.3 1246.3 336.3 1254.3 335.4 1259.8C334.5 1265.3 332.1 1269.2 330.0 1271.9C328.0 1274.6 326.6 1275.6 323.2 1275.9C319.8 1276.2 314.2 1273.6 309.7 1273.6C305.2 1273.6 300.1 1276.2 296.3 1275.9C292.5 1275.6 289.4 1274.6 286.9 1271.9C284.5 1269.2 282.4 1265.3 281.5 1259.8C280.6 1254.3 281.1 1246.3 281.5 1239.0C281.9 1231.7 282.8 1223.6 283.8 1215.9C284.8 1208.3 285.7 1199.2 287.7 1192.9C289.6 1186.5 293.0 1182.4 295.4 1177.9C297.7 1173.4 300.2 1168.9 301.7 1165.8C303.2 1162.6 303.1 1160.0 304.5 1158.8Z" fill="url(#ms)"/>
<ellipse cx="308.5" cy="1229.8" rx="16.2" ry="23.1" fill="#fff" opacity="0.4" filter="url(#b2)"/>
<ellipse cx="294.7" cy="1199.8" rx="5.4" ry="5.8" fill="#fff" opacity="0.7" filter="url(#b1)"/>
<ellipse cx="316.3" cy="1199.8" rx="5.4" ry="5.8" fill="#fff" opacity="0.7" filter="url(#b1)"/>
<path d="M385.9 1276.4Q385.4 1291.4 385.0 1302.4" stroke="#c4c4c4" stroke-width="5.6" fill="none" stroke-linecap="round"/>
<path d="M366.6 1276.9Q360.2 1287.5 353.7 1290.5" stroke="#c4c4c4" stroke-width="5" fill="none" stroke-linecap="round"/>
<path d="M401.7 1276.9Q409.8 1282.3 418.0 1283.8" stroke="#c4c4c4" stroke-width="5" fill="none" stroke-linecap="round"/>
<ellipse cx="362.9" cy="1189.4" rx="4.4" ry="3.6" fill="#8e8e8e"/>
<path d="M384.6 1165.1C386.4 1163.9 389.3 1163.9 390.5 1165.1C391.6 1166.3 390.6 1168.9 391.5 1172.1C392.4 1175.2 394.5 1179.7 396.1 1184.2C397.7 1188.8 399.0 1192.9 401.0 1199.3C403.0 1205.7 406.0 1214.7 408.1 1222.5C410.1 1230.2 412.5 1238.3 413.4 1245.6C414.3 1253.0 414.4 1261.0 413.4 1266.5C412.4 1272.0 409.7 1275.9 407.5 1278.7C405.4 1281.4 404.1 1282.4 400.5 1282.7C396.9 1283.0 390.7 1280.4 385.9 1280.4C381.0 1280.4 375.4 1283.0 371.2 1282.7C367.1 1282.4 363.5 1281.4 360.8 1278.7C358.1 1275.9 355.9 1272.0 354.9 1266.5C354.0 1261.0 354.8 1253.0 354.9 1245.6C355.1 1238.3 355.4 1230.2 356.0 1222.5C356.7 1214.7 356.4 1205.7 358.9 1199.3C361.3 1192.9 367.0 1188.8 370.5 1184.2C374.0 1179.7 377.3 1175.2 379.6 1172.1C382.0 1168.9 382.8 1166.3 384.6 1165.1Z" fill="url(#mg2)"/>
<path d="M384.6 1165.1C386.4 1163.9 389.3 1163.9 390.5 1165.1C391.6 1166.3 390.6 1168.9 391.5 1172.1C392.4 1175.2 394.5 1179.7 396.1 1184.2C397.7 1188.8 399.0 1192.9 401.0 1199.3C403.0 1205.7 406.0 1214.7 408.1 1222.5C410.1 1230.2 412.5 1238.3 413.4 1245.6C414.3 1253.0 414.4 1261.0 413.4 1266.5C412.4 1272.0 409.7 1275.9 407.5 1278.7C405.4 1281.4 404.1 1282.4 400.5 1282.7C396.9 1283.0 390.7 1280.4 385.9 1280.4C381.0 1280.4 375.4 1283.0 371.2 1282.7C367.1 1282.4 363.5 1281.4 360.8 1278.7C358.1 1275.9 355.9 1272.0 354.9 1266.5C354.0 1261.0 354.8 1253.0 354.9 1245.6C355.1 1238.3 355.4 1230.2 356.0 1222.5C356.7 1214.7 356.4 1205.7 358.9 1199.3C361.3 1192.9 367.0 1188.8 370.5 1184.2C374.0 1179.7 377.3 1175.2 379.6 1172.1C382.0 1168.9 382.8 1166.3 384.6 1165.1Z" fill="url(#ms)"/>
<ellipse cx="384.2" cy="1236.4" rx="17.5" ry="23.2" fill="#fff" opacity="0.4" filter="url(#b2)"/>
<ellipse cx="368.2" cy="1206.2" rx="5.8" ry="5.8" fill="#fff" opacity="0.7" filter="url(#b1)"/>
<ellipse cx="391.6" cy="1206.2" rx="5.8" ry="5.8" fill="#fff" opacity="0.7" filter="url(#b1)"/>
</g>
<path d="M333.4 1151.8C334.0 1158.3 335.4 1175.8 336.8 1190.7C338.2 1205.7 341.0 1233.0 341.9 1241.5" stroke="#8a8a8a" stroke-width="2.6" fill="none" stroke-linecap="round" filter="url(#b05)"/>
<g filter="url(#bl)">
<ellipse cx="296.2" cy="1253.0" rx="9.8" ry="10.1" fill="url(#h5)"/>
<ellipse cx="317.7" cy="1250.8" rx="5.9" ry="9.8" fill="url(#h3)"/>
<ellipse cx="375.4" cy="1262.1" rx="8.8" ry="9.5" fill="url(#h5)"/>
<ellipse cx="395.2" cy="1259.8" rx="6.4" ry="6.8" fill="url(#h3)"/>
</g>
</g>
<g clip-path="url(#c19)">
<g filter="url(#fur)">
<rect x="419.2" y="1145.2" width="165.9" height="163.5" fill="#202020"/>
<path d="M464.1 1271.3Q461.1 1288.8 458.1 1302.4" stroke="#c4c4c4" stroke-width="5.6" fill="none" stroke-linecap="round"/>
<path d="M450.5 1271.9Q443.8 1277.2 437.0 1278.7" stroke="#c4c4c4" stroke-width="5" fill="none" stroke-linecap="round"/>
<path d="M481.8 1271.9Q483.9 1285.8 486.0 1288.8" stroke="#c4c4c4" stroke-width="5" fill="none" stroke-linecap="round"/>
<ellipse cx="480.8" cy="1185.0" rx="4.4" ry="3.6" fill="#8e8e8e"/>
<path d="M460.6 1160.9C461.8 1159.7 464.4 1159.7 465.8 1160.9C467.2 1162.0 467.4 1164.6 469.1 1167.8C470.8 1170.9 473.4 1175.3 476.0 1179.9C478.5 1184.4 482.3 1188.5 484.5 1194.8C486.7 1201.1 487.8 1210.1 489.1 1217.8C490.4 1225.5 491.7 1233.5 492.2 1240.8C492.7 1248.1 493.1 1256.0 492.2 1261.5C491.3 1267.0 489.5 1270.9 487.0 1273.6C484.5 1276.3 480.9 1277.3 477.1 1277.6C473.2 1277.9 468.4 1275.3 464.1 1275.3C459.7 1275.3 454.2 1277.9 451.0 1277.6C447.9 1277.3 447.2 1276.3 445.3 1273.6C443.5 1270.9 441.0 1267.0 440.1 1261.5C439.3 1256.0 439.7 1248.1 440.1 1240.8C440.6 1233.5 441.6 1225.5 442.8 1217.8C443.9 1210.1 445.3 1201.1 447.0 1194.8C448.8 1188.5 451.3 1184.4 453.3 1179.9C455.2 1175.3 457.4 1170.9 458.6 1167.8C459.8 1164.6 459.4 1162.0 460.6 1160.9Z" fill="url(#mg2)"/>
<path d="M460.6 1160.9C461.8 1159.7 464.4 1159.7 465.8 1160.9C467.2 1162.0 467.4 1164.6 469.1 1167.8C470.8 1170.9 473.4 1175.3 476.0 1179.9C478.5 1184.4 482.3 1188.5 484.5 1194.8C486.7 1201.1 487.8 1210.1 489.1 1217.8C490.4 1225.5 491.7 1233.5 492.2 1240.8C492.7 1248.1 493.1 1256.0 492.2 1261.5C491.3 1267.0 489.5 1270.9 487.0 1273.6C484.5 1276.3 480.9 1277.3 477.1 1277.6C473.2 1277.9 468.4 1275.3 464.1 1275.3C459.7 1275.3 454.2 1277.9 451.0 1277.6C447.9 1277.3 447.2 1276.3 445.3 1273.6C443.5 1270.9 441.0 1267.0 440.1 1261.5C439.3 1256.0 439.7 1248.1 440.1 1240.8C440.6 1233.5 441.6 1225.5 442.8 1217.8C443.9 1210.1 445.3 1201.1 447.0 1194.8C448.8 1188.5 451.3 1184.4 453.3 1179.9C455.2 1175.3 457.4 1170.9 458.6 1167.8C459.8 1164.6 459.4 1162.0 460.6 1160.9Z" fill="url(#ms)"/>
<ellipse cx="466.2" cy="1231.6" rx="15.6" ry="23.0" fill="#fff" opacity="0.4" filter="url(#b2)"/>
<ellipse cx="455.3" cy="1201.7" rx="5.2" ry="5.8" fill="#fff" opacity="0.7" filter="url(#b1)"/>
<ellipse cx="476.2" cy="1201.7" rx="5.2" ry="5.8" fill="#fff" opacity="0.7" filter="url(#b1)"/>
<path d="M535.9 1281.5Q536.2 1293.9 536.4 1302.4" stroke="#c4c4c4" stroke-width="5.6" fill="none" stroke-linecap="round"/>
<path d="M515.5 1281.8Q512.6 1287.3 509.7 1288.8" stroke="#c4c4c4" stroke-width="5" fill="none" stroke-linecap="round"/>
<path d="M552.2 1281.8Q563.1 1285.7 574.0 1287.2" stroke="#c4c4c4" stroke-width="5" fill="none" stroke-linecap="round"/>
<ellipse cx="520.9" cy="1189.2" rx="4.4" ry="3.6" fill="#8e8e8e"/>
<path d="M543.0 1163.4C544.9 1162.2 548.2 1162.2 549.1 1163.4C550.1 1164.7 548.4 1167.4 548.9 1170.8C549.5 1174.2 551.2 1178.9 552.2 1183.7C553.3 1188.5 553.8 1192.9 555.2 1199.6C556.7 1206.4 559.2 1216.0 560.8 1224.1C562.3 1232.3 563.8 1240.9 564.4 1248.7C565.0 1256.4 565.4 1264.9 564.4 1270.7C563.4 1276.6 560.5 1280.8 558.3 1283.6C556.1 1286.5 555.0 1287.6 551.2 1287.9C547.5 1288.2 541.0 1285.5 535.9 1285.5C530.8 1285.5 525.1 1288.2 520.6 1287.9C516.2 1287.6 512.2 1286.5 509.3 1283.6C506.4 1280.8 504.2 1276.6 503.2 1270.7C502.2 1264.9 502.3 1256.4 503.2 1248.7C504.2 1240.9 506.8 1232.3 509.0 1224.1C511.2 1216.0 513.4 1206.4 516.6 1199.6C519.9 1192.9 525.0 1188.5 528.6 1183.7C532.1 1178.9 535.5 1174.2 538.0 1170.8C540.4 1167.4 541.2 1164.7 543.0 1163.4Z" fill="url(#mg2)"/>
<path d="M543.0 1163.4C544.9 1162.2 548.2 1162.2 549.1 1163.4C550.1 1164.7 548.4 1167.4 548.9 1170.8C549.5 1174.2 551.2 1178.9 552.2 1183.7C553.3 1188.5 553.8 1192.9 555.2 1199.6C556.7 1206.4 559.2 1216.0 560.8 1224.1C562.3 1232.3 563.8 1240.9 564.4 1248.7C565.0 1256.4 565.4 1264.9 564.4 1270.7C563.4 1276.6 560.5 1280.8 558.3 1283.6C556.1 1286.5 555.0 1287.6 551.2 1287.9C547.5 1288.2 541.0 1285.5 535.9 1285.5C530.8 1285.5 525.1 1288.2 520.6 1287.9C516.2 1287.6 512.2 1286.5 509.3 1283.6C506.4 1280.8 504.2 1276.6 503.2 1270.7C502.2 1264.9 502.3 1256.4 503.2 1248.7C504.2 1240.9 506.8 1232.3 509.0 1224.1C511.2 1216.0 513.4 1206.4 516.6 1199.6C519.9 1192.9 525.0 1188.5 528.6 1183.7C532.1 1178.9 535.5 1174.2 538.0 1170.8C540.4 1167.4 541.2 1164.7 543.0 1163.4Z" fill="url(#ms)"/>
<ellipse cx="533.8" cy="1238.9" rx="18.4" ry="24.5" fill="#fff" opacity="0.4" filter="url(#b2)"/>
<ellipse cx="523.7" cy="1207.0" rx="6.1" ry="6.1" fill="#fff" opacity="0.7" filter="url(#b1)"/>
<ellipse cx="548.2" cy="1207.0" rx="6.1" ry="6.1" fill="#fff" opacity="0.7" filter="url(#b1)"/>
</g>
<g filter="url(#bl)">
<ellipse cx="453.6" cy="1259.2" rx="8.8" ry="11.0" fill="url(#h5)"/>
<ellipse cx="472.5" cy="1261.8" rx="9.3" ry="9.8" fill="url(#h5)"/>
<ellipse cx="526.6" cy="1268.9" rx="9.3" ry="11.8" fill="url(#h5)"/>
<ellipse cx="551.7" cy="1264.8" rx="5.9" ry="9.8" fill="url(#h3)"/>
<ellipse cx="539.8" cy="1249.9" rx="2.0" ry="2.0" fill="url(#h1)"/>
</g>
</g>
<g clip-path="url(#c20)">
<g filter="url(#fur)">
<rect x="574.5" y="1145.2" width="165.7" height="163.5" fill="#202020"/>
<path d="M618.8 1267.9Q619.2 1287.2 619.7 1302.4" stroke="#c4c4c4" stroke-width="5.6" fill="none" stroke-linecap="round"/>
<path d="M603.2 1268.7Q595.4 1274.0 587.5 1277.0" stroke="#c4c4c4" stroke-width="5" fill="none" stroke-linecap="round"/>
<path d="M636.1 1268.7Q636.3 1273.8 636.6 1275.3" stroke="#c4c4c4" stroke-width="5" fill="none" stroke-linecap="round"/>
<ellipse cx="634.5" cy="1186.3" rx="4.4" ry="3.6" fill="#8e8e8e"/>
<path d="M605.1 1163.4C606.0 1162.3 608.7 1162.3 610.6 1163.4C612.4 1164.5 613.6 1166.9 616.2 1169.9C618.7 1172.9 622.1 1177.1 625.8 1181.4C629.5 1185.7 635.4 1189.6 638.3 1195.6C641.3 1201.6 642.1 1210.1 643.5 1217.4C645.0 1224.7 646.5 1232.3 647.1 1239.2C647.7 1246.1 648.0 1253.7 647.1 1258.8C646.2 1264.0 644.0 1267.8 641.6 1270.3C639.2 1272.8 636.3 1273.8 632.5 1274.1C628.7 1274.4 623.4 1271.9 618.8 1271.9C614.3 1271.9 608.6 1274.4 605.1 1274.1C601.6 1273.8 599.9 1272.8 597.7 1270.3C595.6 1267.8 593.2 1264.0 592.3 1258.8C591.3 1253.7 591.8 1246.1 592.3 1239.2C592.7 1232.3 593.8 1224.7 595.0 1217.4C596.1 1210.1 598.1 1201.6 599.3 1195.6C600.5 1189.6 601.2 1185.7 602.1 1181.4C603.1 1177.1 604.7 1172.9 605.2 1169.9C605.7 1166.9 604.2 1164.5 605.1 1163.4Z" fill="url(#mg2)"/>
<path d="M605.1 1163.4C606.0 1162.3 608.7 1162.3 610.6 1163.4C612.4 1164.5 613.6 1166.9 616.2 1169.9C618.7 1172.9 622.1 1177.1 625.8 1181.4C629.5 1185.7 635.4 1189.6 638.3 1195.6C641.3 1201.6 642.1 1210.1 643.5 1217.4C645.0 1224.7 646.5 1232.3 647.1 1239.2C647.7 1246.1 648.0 1253.7 647.1 1258.8C646.2 1264.0 644.0 1267.8 641.6 1270.3C639.2 1272.8 636.3 1273.8 632.5 1274.1C628.7 1274.4 623.4 1271.9 618.8 1271.9C614.3 1271.9 608.6 1274.4 605.1 1274.1C601.6 1273.8 599.9 1272.8 597.7 1270.3C595.6 1267.8 593.2 1264.0 592.3 1258.8C591.3 1253.7 591.8 1246.1 592.3 1239.2C592.7 1232.3 593.8 1224.7 595.0 1217.4C596.1 1210.1 598.1 1201.6 599.3 1195.6C600.5 1189.6 601.2 1185.7 602.1 1181.4C603.1 1177.1 604.7 1172.9 605.2 1169.9C605.7 1166.9 604.2 1164.5 605.1 1163.4Z" fill="url(#ms)"/>
<ellipse cx="619.7" cy="1230.5" rx="16.4" ry="21.8" fill="#fff" opacity="0.4" filter="url(#b2)"/>
<ellipse cx="607.9" cy="1202.1" rx="5.5" ry="5.5" fill="#fff" opacity="0.7" filter="url(#b1)"/>
<ellipse cx="629.8" cy="1202.1" rx="5.5" ry="5.5" fill="#fff" opacity="0.7" filter="url(#b1)"/>
<path d="M692.4 1274.7Q692.8 1290.5 693.2 1302.4" stroke="#c4c4c4" stroke-width="5.6" fill="none" stroke-linecap="round"/>
<path d="M676.6 1275.3Q674.3 1284.2 672.1 1287.2" stroke="#c4c4c4" stroke-width="5" fill="none" stroke-linecap="round"/>
<path d="M711.6 1275.3Q716.4 1273.8 721.2 1273.6" stroke="#c4c4c4" stroke-width="5" fill="none" stroke-linecap="round"/>
<ellipse cx="674.6" cy="1189.1" rx="4.4" ry="3.6" fill="#8e8e8e"/>
<path d="M692.9 1165.1C694.5 1164.0 697.4 1164.0 698.7 1165.1C700.0 1166.2 699.4 1168.8 700.6 1171.9C701.9 1175.1 704.2 1179.5 706.2 1183.9C708.2 1188.4 710.5 1192.5 712.6 1198.8C714.7 1205.1 717.1 1214.0 718.9 1221.6C720.6 1229.2 722.6 1237.2 723.3 1244.4C724.1 1251.7 724.3 1259.6 723.3 1265.0C722.3 1270.4 720.2 1274.3 717.5 1277.0C714.8 1279.6 711.2 1280.7 707.0 1281.0C702.8 1281.3 697.3 1278.7 692.4 1278.7C687.5 1278.7 681.4 1281.3 677.8 1281.0C674.2 1280.7 672.9 1279.6 670.7 1277.0C668.6 1274.3 665.8 1270.4 664.9 1265.0C663.9 1259.6 664.5 1251.7 664.9 1244.4C665.2 1237.2 665.9 1229.2 666.8 1221.6C667.7 1214.0 668.2 1205.1 670.5 1198.8C672.8 1192.5 677.6 1188.4 680.6 1183.9C683.7 1179.5 686.7 1175.1 688.7 1171.9C690.8 1168.8 691.2 1166.2 692.9 1165.1Z" fill="url(#mg2)"/>
<path d="M692.9 1165.1C694.5 1164.0 697.4 1164.0 698.7 1165.1C700.0 1166.2 699.4 1168.8 700.6 1171.9C701.9 1175.1 704.2 1179.5 706.2 1183.9C708.2 1188.4 710.5 1192.5 712.6 1198.8C714.7 1205.1 717.1 1214.0 718.9 1221.6C720.6 1229.2 722.6 1237.2 723.3 1244.4C724.1 1251.7 724.3 1259.6 723.3 1265.0C722.3 1270.4 720.2 1274.3 717.5 1277.0C714.8 1279.6 711.2 1280.7 707.0 1281.0C702.8 1281.3 697.3 1278.7 692.4 1278.7C687.5 1278.7 681.4 1281.3 677.8 1281.0C674.2 1280.7 672.9 1279.6 670.7 1277.0C668.6 1274.3 665.8 1270.4 664.9 1265.0C663.9 1259.6 664.5 1251.7 664.9 1244.4C665.2 1237.2 665.9 1229.2 666.8 1221.6C667.7 1214.0 668.2 1205.1 670.5 1198.8C672.8 1192.5 677.6 1188.4 680.6 1183.9C683.7 1179.5 686.7 1175.1 688.7 1171.9C690.8 1168.8 691.2 1166.2 692.9 1165.1Z" fill="url(#ms)"/>
<ellipse cx="694.1" cy="1235.3" rx="17.5" ry="22.8" fill="#fff" opacity="0.4" filter="url(#b2)"/>
<ellipse cx="679.9" cy="1205.6" rx="5.8" ry="5.7" fill="#fff" opacity="0.7" filter="url(#b1)"/>
<ellipse cx="703.2" cy="1205.6" rx="5.8" ry="5.7" fill="#fff" opacity="0.7" filter="url(#b1)"/>
</g>
<path d="M644.2 1151.8C645.2 1156.9 648.0 1171.0 650.1 1182.3C652.2 1193.6 655.7 1213.3 656.9 1219.5" stroke="#8a8a8a" stroke-width="2.6" fill="none" stroke-linecap="round" filter="url(#b05)"/>
<g filter="url(#bl)">
<ellipse cx="602.7" cy="1251.6" rx="10.5" ry="12.2" fill="url(#h5)"/>
<ellipse cx="620.5" cy="1249.9" rx="8.8" ry="11.0" fill="url(#h4)"/>
<ellipse cx="687.3" cy="1263.8" rx="10.1" ry="11.0" fill="url(#h4)"/>
<ellipse cx="706.3" cy="1261.8" rx="9.8" ry="10.1" fill="url(#h5)"/>
</g>
</g>
<g clip-path="url(#c21)">
<g filter="url(#well)">
<rect x="99.7" y="535.1" width="154.4" height="152.1" fill="#505050"/>
<circle cx="107.7" cy="543.1" r="20.8" fill="#303030"/>
<line x1="107.7" y1="562.5" x2="127.1" y2="543.1" stroke="#8a8a8a" stroke-width="2.5"/>
<circle cx="246.1" cy="543.1" r="20.8" fill="#303030"/>
<line x1="246.1" y1="562.5" x2="226.7" y2="543.1" stroke="#8a8a8a" stroke-width="2.5"/>
<circle cx="107.7" cy="679.2" r="20.8" fill="#303030"/>
<line x1="107.7" y1="659.8" x2="127.1" y2="679.2" stroke="#8a8a8a" stroke-width="2.5"/>
<circle cx="246.1" cy="679.2" r="20.8" fill="#303030"/>
<line x1="246.1" y1="659.8" x2="226.7" y2="679.2" stroke="#8a8a8a" stroke-width="2.5"/>
<circle cx="176.9" cy="609.8" r="69.2" fill="#5e5e5e"/>
<circle cx="176.9" cy="609.8" r="67.7" fill="none" stroke="#959595" stroke-width="2.2"/>
<circle cx="176.9" cy="609.8" r="62.3" fill="none" stroke="#707070" stroke-width="3"/>
<circle cx="176.9" cy="609.8" r="55.4" fill="#444444"/>
<circle cx="176.9" cy="609.8" r="54.0" fill="none" stroke="#626262" stroke-width="2.5"/>
<g filter="url(#b1)">
<path d="M147.7 607.3C148.1 603.9 148.4 599.7 150.7 596.5C153.0 593.3 157.7 590.1 161.5 588.0C165.4 586.0 169.7 585.1 173.8 584.2C177.9 583.3 182.0 582.2 186.1 582.7C190.2 583.2 195.1 584.5 198.4 587.3C201.7 590.1 204.8 595.0 206.1 599.6C207.4 604.2 206.9 610.3 206.4 615.0C205.9 619.6 204.4 623.7 203.0 627.3C201.7 630.8 200.5 634.7 198.4 636.5C196.4 638.3 193.0 639.0 190.7 638.0C188.4 637.0 186.2 633.2 184.6 630.3C182.9 627.5 182.0 621.4 180.7 621.1C179.4 620.9 178.0 626.7 176.9 628.8C175.7 630.8 175.6 632.3 173.8 633.4C172.0 634.5 168.7 635.3 166.1 635.3C163.6 635.3 160.7 635.0 158.4 633.4C156.1 631.8 153.9 628.5 152.3 625.7C150.6 622.9 149.2 619.6 148.4 616.5C147.7 613.4 147.3 610.6 147.7 607.3Z" fill="#f4f4f4"/>
<ellipse cx="176.1" cy="611.9" rx="4.9" ry="9.2" fill="#9a9a9a"/>
</g>
<ellipse cx="146.1" cy="564.2" rx="3.8" ry="3.0" fill="#fff" transform="rotate(-30 146.1 564.2)"/>
<ellipse cx="207.6" cy="565.0" rx="3.2" ry="2.6" fill="#fff" transform="rotate(-30 207.6 565.0)"/>
<ellipse cx="135.4" cy="576.5" rx="3.0" ry="2.4" fill="#fff" transform="rotate(-30 135.4 576.5)"/>
<ellipse cx="126.1" cy="628.0" rx="3.2" ry="2.6" fill="#fff" transform="rotate(-30 126.1 628.0)"/>
<ellipse cx="219.9" cy="639.6" rx="3.8" ry="3.0" fill="#fff" transform="rotate(-30 219.9 639.6)"/>
<ellipse cx="133.1" cy="653.4" rx="3.2" ry="2.6" fill="#fff" transform="rotate(-30 133.1 653.4)"/>
<ellipse cx="219.9" cy="654.2" rx="2.8" ry="2.2" fill="#fff" transform="rotate(-30 219.9 654.2)"/>
<ellipse cx="153.8" cy="597.3" rx="2.5" ry="2.0" fill="#fff" transform="rotate(-30 153.8 597.3)"/>
<ellipse cx="206.1" cy="600.4" rx="2.8" ry="2.2" fill="#fff" transform="rotate(-30 206.1 600.4)"/>
<ellipse cx="129.2" cy="671.9" rx="2.5" ry="2.0" fill="#fff" transform="rotate(-30 129.2 671.9)"/>
<ellipse cx="213.8" cy="670.3" rx="2.5" ry="2.0" fill="#fff" transform="rotate(-30 213.8 670.3)"/>
</g>
<path d="M173.4 591.6h3.4v3.4h-3.4zM173.4 598.4h3.4v3.4h-3.4zM153.0 601.8h3.4v3.4h-3.4zM200.6 605.2h3.4v3.4h-3.4zM204.0 608.6h3.4v3.4h-3.4zM156.4 612.0h3.4v3.4h-3.4zM204.0 612.0h3.4v3.4h-3.4zM170.0 615.4h3.4v3.4h-3.4zM173.4 615.4h3.4v3.4h-3.4zM183.6 615.4h3.4v3.4h-3.4zM197.2 615.4h3.4v3.4h-3.4zM149.6 618.8h3.4v3.4h-3.4zM176.8 618.8h3.4v3.4h-3.4zM200.6 618.8h3.4v3.4h-3.4zM170.0 632.4h3.4v3.4h-3.4z" fill="#7a00ff"/>
<path d="M180.2 581.4h3.4v3.4h-3.4zM200.6 595.0h3.4v3.4h-3.4zM149.6 598.4h3.4v3.4h-3.4zM163.2 598.4h3.4v3.4h-3.4zM200.6 598.4h3.4v3.4h-3.4zM204.0 605.2h3.4v3.4h-3.4zM176.8 608.6h3.4v3.4h-3.4zM180.2 608.6h3.4v3.4h-3.4zM159.8 612.0h3.4v3.4h-3.4zM197.2 612.0h3.4v3.4h-3.4zM166.6 618.8h3.4v3.4h-3.4zM173.4 618.8h3.4v3.4h-3.4zM149.6 622.2h3.4v3.4h-3.4zM176.8 622.2h3.4v3.4h-3.4zM187.0 622.2h3.4v3.4h-3.4zM193.8 622.2h3.4v3.4h-3.4zM153.0 625.6h3.4v3.4h-3.4z" fill="#3a00ff"/>
<path d="M173.4 588.2h3.4v3.4h-3.4zM153.0 591.6h3.4v3.4h-3.4zM156.4 591.6h3.4v3.4h-3.4zM176.8 591.6h3.4v3.4h-3.4zM183.6 591.6h3.4v3.4h-3.4zM197.2 591.6h3.4v3.4h-3.4zM200.6 591.6h3.4v3.4h-3.4zM149.6 595.0h3.4v3.4h-3.4zM176.8 595.0h3.4v3.4h-3.4zM193.8 595.0h3.4v3.4h-3.4zM183.6 598.4h3.4v3.4h-3.4zM193.8 598.4h3.4v3.4h-3.4zM204.0 598.4h3.4v3.4h-3.4zM193.8 601.8h3.4v3.4h-3.4zM204.0 601.8h3.4v3.4h-3.4zM149.6 605.2h3.4v3.4h-3.4zM159.8 605.2h3.4v3.4h-3.4zM163.2 605.2h3.4v3.4h-3.4zM183.6 605.2h3.4v3.4h-3.4zM187.0 605.2h3.4v3.4h-3.4zM193.8 605.2h3.4v3.4h-3.4zM156.4 608.6h3.4v3.4h-3.4zM173.4 608.6h3.4v3.4h-3.4zM183.6 608.6h3.4v3.4h-3.4zM146.2 612.0h3.4v3.4h-3.4zM149.6 612.0h3.4v3.4h-3.4zM163.2 612.0h3.4v3.4h-3.4zM166.6 612.0h3.4v3.4h-3.4zM183.6 612.0h3.4v3.4h-3.4zM190.4 615.4h3.4v3.4h-3.4zM204.0 615.4h3.4v3.4h-3.4zM180.2 618.8h3.4v3.4h-3.4zM187.0 618.8h3.4v3.4h-3.4zM153.0 622.2h3.4v3.4h-3.4zM190.4 622.2h3.4v3.4h-3.4zM200.6 622.2h3.4v3.4h-3.4zM200.6 625.6h3.4v3.4h-3.4zM156.4 629.0h3.4v3.4h-3.4z" fill="#0000ff"/>
<path d="M166.6 584.8h3.4v3.4h-3.4zM170.0 584.8h3.4v3.4h-3.4zM180.2 584.8h3.4v3.4h-3.4zM170.0 588.2h3.4v3.4h-3.4zM180.2 588.2h3.4v3.4h-3.4zM193.8 588.2h3.4v3.4h-3.4zM159.8 591.6h3.4v3.4h-3.4zM166.6 591.6h3.4v3.4h-3.4zM170.0 591.6h3.4v3.4h-3.4zM180.2 591.6h3.4v3.4h-3.4zM193.8 591.6h3.4v3.4h-3.4zM156.4 595.0h3.4v3.4h-3.4zM173.4 595.0h3.4v3.4h-3.4zM180.2 595.0h3.4v3.4h-3.4zM197.2 595.0h3.4v3.4h-3.4zM176.8 598.4h3.4v3.4h-3.4zM187.0 598.4h3.4v3.4h-3.4zM159.8 601.8h3.4v3.4h-3.4zM166.6 601.8h3.4v3.4h-3.4zM180.2 601.8h3.4v3.4h-3.4zM183.6 601.8h3.4v3.4h-3.4zM200.6 601.8h3.4v3.4h-3.4zM153.0 605.2h3.4v3.4h-3.4zM173.4 605.2h3.4v3.4h-3.4zM176.8 605.2h3.4v3.4h-3.4zM180.2 605.2h3.4v3.4h-3.4zM166.6 608.6h3.4v3.4h-3.4zM170.0 612.0h3.4v3.4h-3.4zM187.0 612.0h3.4v3.4h-3.4zM190.4 612.0h3.4v3.4h-3.4zM193.8 612.0h3.4v3.4h-3.4zM200.6 612.0h3.4v3.4h-3.4zM153.0 615.4h3.4v3.4h-3.4zM163.2 615.4h3.4v3.4h-3.4zM187.0 615.4h3.4v3.4h-3.4zM200.6 615.4h3.4v3.4h-3.4zM156.4 618.8h3.4v3.4h-3.4zM159.8 618.8h3.4v3.4h-3.4zM173.4 622.2h3.4v3.4h-3.4zM183.6 622.2h3.4v3.4h-3.4zM187.0 625.6h3.4v3.4h-3.4zM190.4 625.6h3.4v3.4h-3.4zM166.6 629.0h3.4v3.4h-3.4zM173.4 629.0h3.4v3.4h-3.4zM193.8 635.8h3.4v3.4h-3.4z" fill="#0060ff"/>
<path d="M166.6 588.2h3.4v3.4h-3.4zM190.4 588.2h3.4v3.4h-3.4zM197.2 588.2h3.4v3.4h-3.4zM190.4 591.6h3.4v3.4h-3.4zM153.0 595.0h3.4v3.4h-3.4zM183.6 595.0h3.4v3.4h-3.4zM190.4 595.0h3.4v3.4h-3.4zM153.0 598.4h3.4v3.4h-3.4zM170.0 598.4h3.4v3.4h-3.4zM149.6 601.8h3.4v3.4h-3.4zM170.0 601.8h3.4v3.4h-3.4zM190.4 601.8h3.4v3.4h-3.4zM197.2 601.8h3.4v3.4h-3.4zM156.4 605.2h3.4v3.4h-3.4zM170.0 605.2h3.4v3.4h-3.4zM197.2 605.2h3.4v3.4h-3.4zM190.4 608.6h3.4v3.4h-3.4zM200.6 608.6h3.4v3.4h-3.4zM149.6 615.4h3.4v3.4h-3.4zM156.4 615.4h3.4v3.4h-3.4zM166.6 615.4h3.4v3.4h-3.4zM163.2 618.8h3.4v3.4h-3.4zM163.2 622.2h3.4v3.4h-3.4zM166.6 622.2h3.4v3.4h-3.4zM159.8 625.6h3.4v3.4h-3.4zM163.2 625.6h3.4v3.4h-3.4zM183.6 625.6h3.4v3.4h-3.4zM193.8 625.6h3.4v3.4h-3.4zM197.2 625.6h3.4v3.4h-3.4zM187.0 629.0h3.4v3.4h-3.4zM197.2 629.0h3.4v3.4h-3.4zM159.8 632.4h3.4v3.4h-3.4zM163.2 632.4h3.4v3.4h-3.4zM166.6 632.4h3.4v3.4h-3.4zM197.2 632.4h3.4v3.4h-3.4z" fill="#00b0ff"/>
<path d="M183.6 581.4h3.4v3.4h-3.4zM183.6 584.8h3.4v3.4h-3.4zM187.0 584.8h3.4v3.4h-3.4zM190.4 584.8h3.4v3.4h-3.4zM193.8 584.8h3.4v3.4h-3.4zM159.8 588.2h3.4v3.4h-3.4zM176.8 588.2h3.4v3.4h-3.4zM163.2 591.6h3.4v3.4h-3.4zM166.6 595.0h3.4v3.4h-3.4zM187.0 595.0h3.4v3.4h-3.4zM180.2 598.4h3.4v3.4h-3.4zM197.2 598.4h3.4v3.4h-3.4zM156.4 601.8h3.4v3.4h-3.4zM173.4 601.8h3.4v3.4h-3.4zM187.0 601.8h3.4v3.4h-3.4zM146.2 605.2h3.4v3.4h-3.4zM166.6 605.2h3.4v3.4h-3.4zM190.4 605.2h3.4v3.4h-3.4zM163.2 608.6h3.4v3.4h-3.4zM187.0 608.6h3.4v3.4h-3.4zM197.2 608.6h3.4v3.4h-3.4zM159.8 615.4h3.4v3.4h-3.4zM153.0 618.8h3.4v3.4h-3.4zM190.4 618.8h3.4v3.4h-3.4zM197.2 618.8h3.4v3.4h-3.4zM156.4 622.2h3.4v3.4h-3.4zM156.4 625.6h3.4v3.4h-3.4zM173.4 625.6h3.4v3.4h-3.4zM159.8 629.0h3.4v3.4h-3.4zM170.0 629.0h3.4v3.4h-3.4zM193.8 629.0h3.4v3.4h-3.4zM187.0 632.4h3.4v3.4h-3.4z" fill="#00f0ff"/>
<path d="M163.2 588.2h3.4v3.4h-3.4zM187.0 588.2h3.4v3.4h-3.4zM187.0 591.6h3.4v3.4h-3.4zM159.8 595.0h3.4v3.4h-3.4zM163.2 595.0h3.4v3.4h-3.4zM170.0 595.0h3.4v3.4h-3.4zM166.6 598.4h3.4v3.4h-3.4zM190.4 598.4h3.4v3.4h-3.4zM176.8 601.8h3.4v3.4h-3.4zM149.6 608.6h3.4v3.4h-3.4zM159.8 608.6h3.4v3.4h-3.4zM193.8 618.8h3.4v3.4h-3.4zM159.8 622.2h3.4v3.4h-3.4zM170.0 622.2h3.4v3.4h-3.4zM197.2 622.2h3.4v3.4h-3.4zM166.6 625.6h3.4v3.4h-3.4zM163.2 629.0h3.4v3.4h-3.4zM183.6 629.0h3.4v3.4h-3.4z" fill="#00ff90"/>
<path d="M173.4 584.8h3.4v3.4h-3.4zM156.4 598.4h3.4v3.4h-3.4zM163.2 601.8h3.4v3.4h-3.4zM193.8 608.6h3.4v3.4h-3.4zM153.0 612.0h3.4v3.4h-3.4z" fill="#20ff20"/>
<path d="M170.0 625.6h3.4v3.4h-3.4zM190.4 629.0h3.4v3.4h-3.4zM193.8 632.4h3.4v3.4h-3.4zM190.4 635.8h3.4v3.4h-3.4z" fill="#c0ff00"/>
<path d="M153.0 608.6h3.4v3.4h-3.4zM190.4 632.4h3.4v3.4h-3.4z" fill="#ffd000"/>
</g>
<rect x="108.6" y="544.0" width="136.6" height="134.3" fill="none" stroke="#000" stroke-width="1.9"/>
<g clip-path="url(#c22)">
<g filter="url(#well)">
<rect x="245.6" y="535.1" width="154.1" height="152.1" fill="#505050"/>
<circle cx="253.6" cy="543.1" r="20.7" fill="#303030"/>
<line x1="253.6" y1="562.4" x2="272.9" y2="543.1" stroke="#8a8a8a" stroke-width="2.5"/>
<circle cx="391.7" cy="543.1" r="20.7" fill="#303030"/>
<line x1="391.7" y1="562.4" x2="372.4" y2="543.1" stroke="#8a8a8a" stroke-width="2.5"/>
<circle cx="253.6" cy="679.2" r="20.7" fill="#303030"/>
<line x1="253.6" y1="659.9" x2="272.9" y2="679.2" stroke="#8a8a8a" stroke-width="2.5"/>
<circle cx="391.7" cy="679.2" r="20.7" fill="#303030"/>
<line x1="391.7" y1="659.9" x2="372.4" y2="679.2" stroke="#8a8a8a" stroke-width="2.5"/>
<circle cx="322.6" cy="613.9" r="69.0" fill="#5e5e5e"/>
<circle cx="322.6" cy="613.9" r="67.5" fill="none" stroke="#959595" stroke-width="2.2"/>
<circle cx="322.6" cy="613.9" r="62.1" fill="none" stroke="#707070" stroke-width="3"/>
<circle cx="322.6" cy="613.9" r="55.2" fill="#444444"/>
<circle cx="322.6" cy="613.9" r="53.9" fill="none" stroke="#626262" stroke-width="2.5"/>
<g filter="url(#b1)">
<path d="M295.3 607.3C296.2 603.7 297.6 597.5 299.9 593.4C302.2 589.3 305.8 584.7 309.1 582.7C312.5 580.6 316.3 580.6 319.9 581.1C323.5 581.6 327.8 585.7 330.7 585.7C333.5 585.7 334.5 582.4 336.8 581.1C339.1 579.8 341.7 577.5 344.5 578.1C347.3 578.6 351.2 580.9 353.7 584.2C356.3 587.5 358.8 593.4 359.9 598.0C360.9 602.7 360.9 607.8 359.9 611.9C358.8 616.0 356.5 620.6 353.7 622.6C350.9 624.7 346.0 625.0 343.0 624.2C339.9 623.4 338.1 619.1 335.3 618.0C332.4 617.0 329.4 618.3 326.0 618.0C322.7 617.8 318.6 615.7 315.3 616.5C311.9 617.3 308.9 621.9 306.0 622.6C303.2 623.4 300.3 622.4 298.4 621.1C296.4 619.8 295.0 617.3 294.5 615.0C294.0 612.7 294.4 610.9 295.3 607.3Z" fill="#f4f4f4"/>
<ellipse cx="330.7" cy="601.1" rx="6.2" ry="1.8" fill="#777"/>
</g>
<ellipse cx="348.3" cy="563.4" rx="3.8" ry="3.0" fill="#fff" transform="rotate(-30 348.3 563.4)"/>
<ellipse cx="280.7" cy="581.1" rx="3.8" ry="3.0" fill="#fff" transform="rotate(-30 280.7 581.1)"/>
<ellipse cx="294.5" cy="585.7" rx="2.5" ry="2.0" fill="#fff" transform="rotate(-30 294.5 585.7)"/>
<ellipse cx="280.7" cy="637.3" rx="3.8" ry="3.0" fill="#fff" transform="rotate(-30 280.7 637.3)"/>
<ellipse cx="299.1" cy="628.8" rx="3.0" ry="2.4" fill="#fff" transform="rotate(-30 299.1 628.8)"/>
<ellipse cx="339.9" cy="658.8" rx="3.8" ry="3.0" fill="#fff" transform="rotate(-30 339.9 658.8)"/>
<ellipse cx="261.5" cy="649.6" rx="3.0" ry="2.4" fill="#fff" transform="rotate(-30 261.5 649.6)"/>
<ellipse cx="384.5" cy="571.9" rx="3.0" ry="2.4" fill="#fff" transform="rotate(-30 384.5 571.9)"/>
</g>
<path d="M315.4 588.2h2.8v2.8h-2.8zM311.6 595.1h2.8v2.8h-2.8zM298.5 598.5h2.8v2.8h-2.8zM345.4 605.1h2.8v2.8h-2.8zM308.5 612.0h2.8v2.8h-2.8zM318.5 612.0h2.8v2.8h-2.8zM335.4 615.1h2.8v2.8h-2.8zM304.6 618.5h2.8v2.8h-2.8zM332.3 618.5h2.8v2.8h-2.8zM328.5 622.0h2.8v2.8h-2.8z" fill="#7a00ff"/>
<path d="M338.5 574.8h2.8v2.8h-2.8zM336.2 581.6h2.8v2.8h-2.8zM339.2 581.6h2.8v2.8h-2.8zM345.4 588.2h2.8v2.8h-2.8zM311.6 615.1h2.8v2.8h-2.8zM325.4 618.5h2.8v2.8h-2.8z" fill="#3a00ff"/>
<path d="M305.0 591.7h2.8v2.8h-2.8zM305.0 598.5h2.8v2.8h-2.8zM315.4 615.1h2.8v2.8h-2.8zM295.4 618.5h2.8v2.8h-2.8zM298.5 618.5h2.8v2.8h-2.8z" fill="#0000ff"/>
<path d="M336.2 578.2h2.8v2.8h-2.8zM301.6 591.7h2.8v2.8h-2.8zM329.3 618.5h2.8v2.8h-2.8zM322.3 622.0h2.8v2.8h-2.8zM325.4 622.0h2.8v2.8h-2.8z" fill="#0060ff"/>
<path d="M339.2 578.2h2.8v2.8h-2.8z" fill="#00b0ff"/>
</g>
<rect x="254.5" y="544.0" width="136.3" height="134.3" fill="none" stroke="#000" stroke-width="1.9"/>
<g clip-path="url(#c23)">
<g filter="url(#well)">
<rect x="390.4" y="535.1" width="153.6" height="152.1" fill="#404040"/>
<circle cx="398.4" cy="543.1" r="20.6" fill="#303030"/>
<line x1="398.4" y1="562.4" x2="417.7" y2="543.1" stroke="#8a8a8a" stroke-width="2.5"/>
<circle cx="536.0" cy="543.1" r="20.6" fill="#303030"/>
<line x1="536.0" y1="562.4" x2="516.7" y2="543.1" stroke="#8a8a8a" stroke-width="2.5"/>
<circle cx="398.4" cy="679.2" r="20.6" fill="#303030"/>
<line x1="398.4" y1="659.9" x2="417.7" y2="679.2" stroke="#8a8a8a" stroke-width="2.5"/>
<circle cx="536.0" cy="679.2" r="20.6" fill="#303030"/>
<line x1="536.0" y1="659.9" x2="516.7" y2="679.2" stroke="#8a8a8a" stroke-width="2.5"/>
<circle cx="467.2" cy="611.2" r="68.8" fill="#404040"/>
<circle cx="467.2" cy="611.2" r="67.3" fill="none" stroke="#959595" stroke-width="2.2"/>
<circle cx="467.2" cy="611.2" r="61.9" fill="none" stroke="#707070" stroke-width="3"/>
<circle cx="467.2" cy="611.2" r="55.0" fill="#222222"/>
<circle cx="467.2" cy="611.2" r="53.7" fill="none" stroke="#626262" stroke-width="2.5"/>
<g filter="url(#b1)">
<path d="M444.9 585.7C446.7 582.8 449.3 579.7 452.6 578.1C455.9 576.4 460.3 575.2 464.9 575.7C469.5 576.3 475.7 578.7 480.3 581.1C484.9 583.6 490.3 587.4 492.6 590.4C494.9 593.3 495.4 596.8 494.1 598.8C492.8 600.8 488.5 602.0 484.9 602.4C481.3 602.7 476.7 601.5 472.6 601.1C468.5 600.8 464.4 600.3 460.3 600.4C456.2 600.4 451.0 602.2 448.0 601.4C444.9 600.7 442.3 598.4 441.8 595.7C441.3 593.1 443.1 588.7 444.9 585.7Z" fill="#f4f4f4"/>
<path d="M441.8 608.0C442.3 605.7 445.9 604.8 449.5 604.2C453.1 603.6 458.5 604.2 463.3 604.5C468.2 604.8 474.4 604.4 478.7 606.0C483.1 607.7 488.2 611.6 489.5 614.2C490.8 616.8 488.7 620.5 486.4 621.9C484.1 623.3 479.0 621.8 475.7 622.6C472.3 623.5 469.5 627.0 466.4 627.3C463.3 627.5 460.5 625.7 457.2 624.2C453.9 622.6 449.0 620.7 446.4 618.0C443.9 615.3 441.3 610.3 441.8 608.0Z" fill="#f4f4f4"/>
</g>
<ellipse cx="452.6" cy="563.4" rx="3.8" ry="3.0" fill="#fff" transform="rotate(-30 452.6 563.4)"/>
<ellipse cx="484.9" cy="561.9" rx="3.8" ry="3.0" fill="#fff" transform="rotate(-30 484.9 561.9)"/>
<ellipse cx="517.2" cy="588.8" rx="3.8" ry="3.0" fill="#fff" transform="rotate(-30 517.2 588.8)"/>
<ellipse cx="414.9" cy="615.7" rx="3.0" ry="2.4" fill="#fff" transform="rotate(-30 414.9 615.7)"/>
<ellipse cx="418.0" cy="628.0" rx="3.0" ry="2.4" fill="#fff" transform="rotate(-30 418.0 628.0)"/>
<ellipse cx="509.5" cy="642.6" rx="3.8" ry="3.0" fill="#fff" transform="rotate(-30 509.5 642.6)"/>
<ellipse cx="517.9" cy="649.6" rx="3.8" ry="3.0" fill="#fff" transform="rotate(-30 517.9 649.6)"/>
<ellipse cx="451.0" cy="657.2" rx="3.8" ry="3.0" fill="#fff" transform="rotate(-30 451.0 657.2)"/>
<ellipse cx="484.1" cy="661.9" rx="3.2" ry="2.6" fill="#fff" transform="rotate(-30 484.1 661.9)"/>
<ellipse cx="526.4" cy="618.0" rx="3.0" ry="2.4" fill="#fff" transform="rotate(-30 526.4 618.0)"/>
<ellipse cx="424.9" cy="576.5" rx="2.5" ry="2.0" fill="#fff" transform="rotate(-30 424.9 576.5)"/>
<ellipse cx="504.9" cy="641.1" rx="2.5" ry="2.0" fill="#fff" transform="rotate(-30 504.9 641.1)"/>
</g>
<path d="M455.0 579.7h2.8v2.8h-2.8zM469.6 586.6h2.8v2.8h-2.8zM475.0 585.9h2.8v2.8h-2.8zM478.9 592.0h2.8v2.8h-2.8zM485.8 593.6h2.8v2.8h-2.8zM488.9 594.3h2.8v2.8h-2.8zM463.5 593.6h2.8v2.8h-2.8zM455.8 611.3h2.8v2.8h-2.8zM466.6 616.6h2.8v2.8h-2.8z" fill="#7a00ff"/>
<path d="M459.6 590.5h2.8v2.8h-2.8zM455.8 592.0h2.8v2.8h-2.8zM455.0 608.9h2.8v2.8h-2.8zM486.6 613.6h2.8v2.8h-2.8z" fill="#3a00ff"/>
<path d="M456.6 586.6h2.8v2.8h-2.8zM457.3 589.7h2.8v2.8h-2.8zM485.0 617.4h2.8v2.8h-2.8zM482.7 618.2h2.8v2.8h-2.8z" fill="#0000ff"/>
<path d="M454.3 589.0h2.8v2.8h-2.8zM479.6 615.9h2.8v2.8h-2.8z" fill="#0060ff"/>
<path d="M483.5 615.1h2.8v2.8h-2.8z" fill="#00b0ff"/>
<path d="M481.2 613.6h2.8v2.8h-2.8z" fill="#00ff90"/>
</g>
<rect x="399.3" y="544.0" width="135.8" height="134.3" fill="none" stroke="#000" stroke-width="1.9"/>
<g clip-path="url(#c24)">
<g filter="url(#well)">
<rect x="99.7" y="680.2" width="154.4" height="151.6" fill="#505050"/>
<circle cx="107.7" cy="688.2" r="20.8" fill="#303030"/>
<line x1="107.7" y1="707.6" x2="127.1" y2="688.2" stroke="#8a8a8a" stroke-width="2.5"/>
<circle cx="246.1" cy="688.2" r="20.8" fill="#303030"/>
<line x1="246.1" y1="707.6" x2="226.7" y2="688.2" stroke="#8a8a8a" stroke-width="2.5"/>
<circle cx="107.7" cy="823.8" r="20.8" fill="#303030"/>
<line x1="107.7" y1="804.4" x2="127.1" y2="823.8" stroke="#8a8a8a" stroke-width="2.5"/>
<circle cx="246.1" cy="823.8" r="20.8" fill="#303030"/>
<line x1="246.1" y1="804.4" x2="226.7" y2="823.8" stroke="#8a8a8a" stroke-width="2.5"/>
<circle cx="176.9" cy="756.0" r="69.2" fill="#5e5e5e"/>
<circle cx="176.9" cy="756.0" r="67.7" fill="none" stroke="#959595" stroke-width="2.2"/>
<circle cx="176.9" cy="756.0" r="62.3" fill="none" stroke="#707070" stroke-width="3"/>
<circle cx="176.9" cy="756.0" r="55.4" fill="#444444"/>
<circle cx="176.9" cy="756.0" r="54.0" fill="none" stroke="#626262" stroke-width="2.5"/>
<ellipse cx="180.0" cy="726.1" rx="9.2" ry="7.7" fill="#2e2e2e" filter="url(#b2)"/>
<g filter="url(#b1)">
<path d="M150.7 746.1C151.0 741.8 154.3 736.6 156.9 733.8C159.5 731.0 163.3 729.5 166.1 729.2C168.9 728.9 171.5 730.5 173.8 732.3C176.1 734.1 177.7 738.9 180.0 740.0C182.3 741.0 185.6 740.5 187.6 738.4C189.7 736.4 190.7 729.7 192.3 727.7C193.8 725.6 195.8 724.8 196.9 726.1C197.9 727.4 198.7 732.3 198.4 735.4C198.2 738.4 195.3 741.5 195.3 744.6C195.3 747.7 198.4 750.2 198.4 753.8C198.4 757.4 197.1 762.5 195.3 766.1C193.5 769.7 190.2 772.5 187.6 775.3C185.1 778.2 182.8 782.0 180.0 783.0C177.1 784.0 173.3 783.3 170.7 781.5C168.2 779.7 167.1 775.8 164.6 772.3C162.0 768.7 157.7 764.3 155.4 760.0C153.0 755.6 150.5 750.5 150.7 746.1Z" fill="#f4f4f4"/>
</g>
<ellipse cx="156.9" cy="707.7" rx="3.8" ry="3.0" fill="#fff" transform="rotate(-30 156.9 707.7)"/>
<ellipse cx="213.0" cy="722.3" rx="3.8" ry="3.0" fill="#fff" transform="rotate(-30 213.0 722.3)"/>
<ellipse cx="221.5" cy="779.2" rx="3.8" ry="3.0" fill="#fff" transform="rotate(-30 221.5 779.2)"/>
<ellipse cx="134.6" cy="788.4" rx="4.0" ry="3.2" fill="#fff" transform="rotate(-30 134.6 788.4)"/>
<ellipse cx="110.0" cy="730.7" rx="2.5" ry="2.0" fill="#fff" transform="rotate(-30 110.0 730.7)"/>
<ellipse cx="235.3" cy="704.6" rx="2.5" ry="2.0" fill="#fff" transform="rotate(-30 235.3 704.6)"/>
<ellipse cx="183.0" cy="783.8" rx="2.2" ry="1.8" fill="#fff" transform="rotate(-30 183.0 783.8)"/>
<ellipse cx="158.4" cy="768.4" rx="2.2" ry="1.8" fill="#fff" transform="rotate(-30 158.4 768.4)"/>
</g>
<path d="M163.2 744.6h3.4v3.4h-3.4zM159.8 748.0h3.4v3.4h-3.4zM163.2 748.0h3.4v3.4h-3.4zM180.2 748.0h3.4v3.4h-3.4zM183.6 748.0h3.4v3.4h-3.4zM190.4 748.0h3.4v3.4h-3.4zM193.8 754.8h3.4v3.4h-3.4zM183.6 758.2h3.4v3.4h-3.4zM190.4 761.6h3.4v3.4h-3.4zM183.6 765.0h3.4v3.4h-3.4zM187.0 765.0h3.4v3.4h-3.4zM187.0 768.4h3.4v3.4h-3.4z" fill="#7a00ff"/>
<path d="M166.6 741.2h3.4v3.4h-3.4zM193.8 748.0h3.4v3.4h-3.4zM187.0 751.4h3.4v3.4h-3.4zM156.4 754.8h3.4v3.4h-3.4zM187.0 754.8h3.4v3.4h-3.4zM159.8 758.2h3.4v3.4h-3.4zM190.4 758.2h3.4v3.4h-3.4zM193.8 758.2h3.4v3.4h-3.4zM159.8 761.6h3.4v3.4h-3.4zM183.6 761.6h3.4v3.4h-3.4zM190.4 765.0h3.4v3.4h-3.4zM180.2 768.4h3.4v3.4h-3.4zM166.6 775.2h3.4v3.4h-3.4z" fill="#3a00ff"/>
<path d="M156.4 751.4h3.4v3.4h-3.4zM159.8 751.4h3.4v3.4h-3.4zM170.0 751.4h3.4v3.4h-3.4zM183.6 751.4h3.4v3.4h-3.4zM190.4 751.4h3.4v3.4h-3.4zM193.8 751.4h3.4v3.4h-3.4zM159.8 754.8h3.4v3.4h-3.4zM173.4 754.8h3.4v3.4h-3.4zM176.8 754.8h3.4v3.4h-3.4zM180.2 754.8h3.4v3.4h-3.4zM170.0 758.2h3.4v3.4h-3.4zM173.4 758.2h3.4v3.4h-3.4zM187.0 758.2h3.4v3.4h-3.4zM180.2 761.6h3.4v3.4h-3.4zM187.0 761.6h3.4v3.4h-3.4zM183.6 768.4h3.4v3.4h-3.4zM183.6 771.8h3.4v3.4h-3.4zM176.8 775.2h3.4v3.4h-3.4z" fill="#0000ff"/>
<path d="M166.6 744.6h3.4v3.4h-3.4zM166.6 748.0h3.4v3.4h-3.4zM176.8 748.0h3.4v3.4h-3.4zM166.6 751.4h3.4v3.4h-3.4zM176.8 751.4h3.4v3.4h-3.4zM180.2 751.4h3.4v3.4h-3.4zM163.2 754.8h3.4v3.4h-3.4zM163.2 758.2h3.4v3.4h-3.4zM176.8 758.2h3.4v3.4h-3.4zM180.2 758.2h3.4v3.4h-3.4zM163.2 761.6h3.4v3.4h-3.4zM173.4 768.4h3.4v3.4h-3.4zM170.0 771.8h3.4v3.4h-3.4zM176.8 771.8h3.4v3.4h-3.4zM180.2 771.8h3.4v3.4h-3.4z" fill="#0060ff"/>
<path d="M170.0 748.0h3.4v3.4h-3.4zM166.6 761.6h3.4v3.4h-3.4zM176.8 761.6h3.4v3.4h-3.4zM180.2 765.0h3.4v3.4h-3.4zM173.4 771.8h3.4v3.4h-3.4z" fill="#00b0ff"/>
<path d="M166.6 758.2h3.4v3.4h-3.4zM170.0 761.6h3.4v3.4h-3.4zM170.0 768.4h3.4v3.4h-3.4z" fill="#00f0ff"/>
<path d="M173.4 761.6h3.4v3.4h-3.4zM170.0 765.0h3.4v3.4h-3.4z" fill="#00ff90"/>
<path d="M156.3 744.0h2.8v2.8h-2.8z" fill="#7a00ff"/>
<path d="M166.3 733.2h2.8v2.8h-2.8zM163.2 737.0h2.8v2.8h-2.8z" fill="#0000ff"/>
</g>
<rect x="108.6" y="689.1" width="136.6" height="133.8" fill="none" stroke="#000" stroke-width="1.9"/>
<g clip-path="url(#c25)">
<g filter="url(#well)">
<rect x="245.6" y="680.2" width="154.1" height="151.6" fill="#505050"/>
<circle cx="253.6" cy="688.2" r="20.7" fill="#303030"/>
<line x1="253.6" y1="707.5" x2="272.9" y2="688.2" stroke="#8a8a8a" stroke-width="2.5"/>
<circle cx="391.7" cy="688.2" r="20.7" fill="#303030"/>
<line x1="391.7" y1="707.5" x2="372.4" y2="688.2" stroke="#8a8a8a" stroke-width="2.5"/>
<circle cx="253.6" cy="823.8" r="20.7" fill="#303030"/>
<line x1="253.6" y1="804.5" x2="272.9" y2="823.8" stroke="#8a8a8a" stroke-width="2.5"/>
<circle cx="391.7" cy="823.8" r="20.7" fill="#303030"/>
<line x1="391.7" y1="804.5" x2="372.4" y2="823.8" stroke="#8a8a8a" stroke-width="2.5"/>
<circle cx="322.6" cy="756.0" r="69.0" fill="#5e5e5e"/>
<circle cx="322.6" cy="756.0" r="67.5" fill="none" stroke="#959595" stroke-width="2.2"/>
<circle cx="322.6" cy="756.0" r="62.1" fill="none" stroke="#707070" stroke-width="3"/>
<circle cx="322.6" cy="756.0" r="55.2" fill="#444444"/>
<circle cx="322.6" cy="756.0" r="53.9" fill="none" stroke="#626262" stroke-width="2.5"/>
<g filter="url(#b1)">
<path d="M293.7 747.7C294.3 743.3 296.3 735.6 298.4 732.3C300.4 728.9 303.5 727.7 306.0 727.7C308.6 727.7 311.8 729.5 313.7 732.3C315.7 735.1 316.5 740.5 317.6 744.6C318.7 748.7 320.1 752.8 320.2 756.9C320.3 761.0 319.9 766.4 318.3 769.2C316.8 772.0 313.5 774.1 310.7 773.8C307.8 773.5 304.0 770.2 301.4 767.6C298.9 765.1 296.6 761.8 295.3 758.4C294.0 755.1 293.2 752.0 293.7 747.7Z" fill="#f4f4f4"/>
<path d="M318.3 726.1C319.1 722.5 323.0 718.7 326.0 716.9C329.1 715.1 333.7 714.3 336.8 715.4C339.9 716.4 342.7 719.2 344.5 723.1C346.3 726.9 347.3 733.3 347.6 738.4C347.8 743.6 347.3 749.2 346.0 753.8C344.7 758.4 342.7 763.3 339.9 766.1C337.1 768.9 332.2 770.7 329.1 770.7C326.0 770.7 323.0 769.4 321.4 766.1C319.9 762.8 319.9 755.3 319.9 750.7C319.9 746.1 321.7 742.5 321.4 738.4C321.2 734.3 317.6 729.7 318.3 726.1Z" fill="#f4f4f4"/>
<ellipse cx="313.0" cy="726.1" rx="3.4" ry="7.7" fill="#3a3a3a"/>
</g>
<ellipse cx="278.4" cy="710.0" rx="3.2" ry="2.6" fill="#fff" transform="rotate(-30 278.4 710.0)"/>
<ellipse cx="283.0" cy="720.0" rx="3.8" ry="3.0" fill="#fff" transform="rotate(-30 283.0 720.0)"/>
<ellipse cx="366.8" cy="711.5" rx="3.2" ry="2.6" fill="#fff" transform="rotate(-30 366.8 711.5)"/>
<ellipse cx="362.9" cy="721.5" rx="3.8" ry="3.0" fill="#fff" transform="rotate(-30 362.9 721.5)"/>
<ellipse cx="282.2" cy="789.9" rx="3.8" ry="3.0" fill="#fff" transform="rotate(-30 282.2 789.9)"/>
<ellipse cx="353.7" cy="797.6" rx="4.0" ry="3.2" fill="#fff" transform="rotate(-30 353.7 797.6)"/>
<ellipse cx="299.9" cy="765.3" rx="2.5" ry="2.0" fill="#fff" transform="rotate(-30 299.9 765.3)"/>
<ellipse cx="344.5" cy="766.1" rx="2.5" ry="2.0" fill="#fff" transform="rotate(-30 344.5 766.1)"/>
<ellipse cx="378.3" cy="710.8" rx="2.5" ry="2.0" fill="#fff" transform="rotate(-30 378.3 710.8)"/>
</g>
</g>
<rect x="254.5" y="689.1" width="136.3" height="133.8" fill="none" stroke="#000" stroke-width="1.9"/>
<g clip-path="url(#c26)">
<g filter="url(#well)">
<rect x="390.4" y="680.2" width="153.6" height="151.6" fill="#505050"/>
<circle cx="398.4" cy="688.2" r="20.6" fill="#303030"/>
<line x1="398.4" y1="707.5" x2="417.7" y2="688.2" stroke="#8a8a8a" stroke-width="2.5"/>
<circle cx="536.0" cy="688.2" r="20.6" fill="#303030"/>
<line x1="536.0" y1="707.5" x2="516.7" y2="688.2" stroke="#8a8a8a" stroke-width="2.5"/>
<circle cx="398.4" cy="823.8" r="20.6" fill="#303030"/>
<line x1="398.4" y1="804.5" x2="417.7" y2="823.8" stroke="#8a8a8a" stroke-width="2.5"/>
<circle cx="536.0" cy="823.8" r="20.6" fill="#303030"/>
<line x1="536.0" y1="804.5" x2="516.7" y2="823.8" stroke="#8a8a8a" stroke-width="2.5"/>
<circle cx="464.4" cy="756.0" r="68.8" fill="#505050"/>
<circle cx="464.4" cy="756.0" r="67.3" fill="none" stroke="#959595" stroke-width="2.2"/>
<circle cx="464.4" cy="756.0" r="61.9" fill="none" stroke="#707070" stroke-width="3"/>
<circle cx="464.4" cy="756.0" r="55.0" fill="#484848"/>
<circle cx="464.4" cy="756.0" r="53.7" fill="none" stroke="#626262" stroke-width="2.5"/>
<g filter="url(#b1)">
<path d="M444.9 732.3C445.7 729.2 449.3 725.2 452.6 723.1C455.9 720.9 460.5 719.0 464.9 719.2C469.2 719.5 475.1 722.2 478.7 724.6C482.3 727.0 485.4 731.3 486.4 733.8C487.4 736.4 487.2 739.1 484.9 740.0C482.6 740.9 476.7 738.9 472.6 739.2C468.5 739.5 464.4 741.1 460.3 741.5C456.2 741.9 450.5 743.0 448.0 741.5C445.4 740.0 444.1 735.4 444.9 732.3Z" fill="#f4f4f4"/>
<path d="M444.9 746.1C445.9 744.3 452.6 745.1 457.2 744.6C461.8 744.1 467.7 743.6 472.6 743.0C477.4 742.5 483.3 740.2 486.4 741.5C489.5 742.8 490.3 747.4 491.0 750.7C491.8 754.1 492.3 758.7 491.0 761.5C489.7 764.3 486.7 767.4 483.3 767.6C480.0 767.9 474.9 764.3 471.0 763.0C467.2 761.8 463.6 761.2 460.3 760.0C456.9 758.7 453.6 757.7 451.0 755.3C448.5 753.0 443.9 747.9 444.9 746.1Z" fill="#f4f4f4"/>
</g>
<ellipse cx="434.1" cy="717.7" rx="4.0" ry="3.2" fill="#fff" transform="rotate(-30 434.1 717.7)"/>
<ellipse cx="428.8" cy="723.1" rx="3.2" ry="2.6" fill="#fff" transform="rotate(-30 428.8 723.1)"/>
<ellipse cx="514.1" cy="742.3" rx="3.2" ry="2.6" fill="#fff" transform="rotate(-30 514.1 742.3)"/>
<ellipse cx="497.2" cy="789.2" rx="3.5" ry="2.8" fill="#fff" transform="rotate(-30 497.2 789.2)"/>
<ellipse cx="448.7" cy="799.2" rx="3.2" ry="2.6" fill="#fff" transform="rotate(-30 448.7 799.2)"/>
<ellipse cx="488.7" cy="763.8" rx="3.0" ry="2.4" fill="#fff" transform="rotate(-30 488.7 763.8)"/>
<ellipse cx="529.5" cy="816.9" rx="6.2" ry="5.0" fill="#fff" transform="rotate(-30 529.5 816.9)"/>
</g>
</g>
<rect x="399.3" y="689.1" width="135.8" height="133.8" fill="none" stroke="#000" stroke-width="1.9"/>
<g clip-path="url(#c27)">
<g filter="url(#well)">
<rect x="1193.5" y="995.2" width="154.0" height="153.0" fill="#505050"/>
<circle cx="1201.5" cy="1003.2" r="20.7" fill="#303030"/>
<line x1="1201.5" y1="1022.5" x2="1220.8" y2="1003.2" stroke="#8a8a8a" stroke-width="2.5"/>
<circle cx="1339.5" cy="1003.2" r="20.7" fill="#303030"/>
<line x1="1339.5" y1="1022.5" x2="1320.2" y2="1003.2" stroke="#8a8a8a" stroke-width="2.5"/>
<circle cx="1201.5" cy="1140.2" r="20.7" fill="#303030"/>
<line x1="1201.5" y1="1120.9" x2="1220.8" y2="1140.2" stroke="#8a8a8a" stroke-width="2.5"/>
<circle cx="1339.5" cy="1140.2" r="20.7" fill="#303030"/>
<line x1="1339.5" y1="1120.9" x2="1320.2" y2="1140.2" stroke="#8a8a8a" stroke-width="2.5"/>
<circle cx="1270.5" cy="1071.7" r="69.0" fill="#5e5e5e"/>
<circle cx="1270.5" cy="1071.7" r="67.5" fill="none" stroke="#959595" stroke-width="2.2"/>
<circle cx="1270.5" cy="1071.7" r="62.1" fill="none" stroke="#707070" stroke-width="3"/>
<circle cx="1270.5" cy="1071.7" r="55.2" fill="#444444"/>
<circle cx="1270.5" cy="1071.7" r="53.8" fill="none" stroke="#626262" stroke-width="2.5"/>
<g filter="url(#b1)">
<path d="M1233.4 1055.0C1234.0 1051.6 1237.0 1045.5 1239.6 1041.1C1242.2 1036.8 1244.7 1031.8 1248.8 1028.8C1252.9 1025.9 1259.6 1023.2 1264.2 1023.4C1268.8 1023.7 1273.7 1027.2 1276.5 1030.4C1279.3 1033.6 1279.3 1039.1 1281.1 1042.7C1282.9 1046.3 1286.1 1048.0 1287.3 1051.9C1288.4 1055.7 1288.8 1061.6 1288.0 1065.7C1287.3 1069.8 1285.6 1073.8 1282.6 1076.5C1279.7 1079.2 1274.4 1081.4 1270.3 1081.9C1266.2 1082.4 1260.9 1081.2 1258.0 1079.6C1255.2 1077.9 1255.2 1074.2 1253.4 1071.9C1251.6 1069.6 1250.1 1067.5 1247.3 1065.7C1244.5 1063.9 1238.8 1062.9 1236.5 1061.1C1234.2 1059.3 1232.9 1058.3 1233.4 1055.0Z" fill="#f4f4f4"/>
<ellipse cx="1271.9" cy="1051.1" rx="7.7" ry="9.2" fill="#3a3a3a"/>
<ellipse cx="1248.8" cy="1065.0" rx="6.9" ry="4.3" fill="#4a4a4a"/>
<ellipse cx="1241.1" cy="1051.9" rx="5.4" ry="6.2" fill="#a8a8a8"/>
<ellipse cx="1262.7" cy="1041.1" rx="2.2" ry="9.2" fill="#b0b0b0"/>
</g>
<ellipse cx="1239.6" cy="1024.2" rx="3.8" ry="3.0" fill="#fff" transform="rotate(-30 1239.6 1024.2)"/>
<ellipse cx="1304.9" cy="1031.1" rx="3.8" ry="3.0" fill="#fff" transform="rotate(-30 1304.9 1031.1)"/>
<ellipse cx="1223.4" cy="1101.1" rx="4.0" ry="3.2" fill="#fff" transform="rotate(-30 1223.4 1101.1)"/>
<ellipse cx="1312.6" cy="1101.1" rx="4.0" ry="3.2" fill="#fff" transform="rotate(-30 1312.6 1101.1)"/>
<ellipse cx="1224.2" cy="1119.6" rx="3.2" ry="2.6" fill="#fff" transform="rotate(-30 1224.2 1119.6)"/>
<ellipse cx="1325.7" cy="1136.5" rx="2.5" ry="2.0" fill="#fff" transform="rotate(-30 1325.7 1136.5)"/>
</g>
<path d="M1256.6 1068.9h2.8v2.8h-2.8z" fill="#7a00ff"/>
<path d="M1275.9 1063.6h2.8v2.8h-2.8zM1246.6 1067.4h2.8v2.8h-2.8z" fill="#3a00ff"/>
<path d="M1255.9 1026.7h2.8v2.8h-2.8zM1273.6 1029.7h2.8v2.8h-2.8zM1239.0 1046.6h2.8v2.8h-2.8zM1256.6 1045.1h2.8v2.8h-2.8zM1277.4 1066.6h2.8v2.8h-2.8z" fill="#0000ff"/>
<path d="M1272.0 1030.5h2.8v2.8h-2.8zM1255.1 1045.9h2.8v2.8h-2.8zM1232.8 1052.8h2.8v2.8h-2.8z" fill="#0060ff"/>
</g>
<rect x="1202.4" y="1004.1" width="136.2" height="135.2" fill="none" stroke="#000" stroke-width="1.9"/>
<g clip-path="url(#c28)">
<g filter="url(#well)">
<rect x="1336.9" y="995.2" width="153.7" height="153.0" fill="#505050"/>
<circle cx="1344.9" cy="1003.2" r="20.7" fill="#303030"/>
<line x1="1344.9" y1="1022.5" x2="1364.2" y2="1003.2" stroke="#8a8a8a" stroke-width="2.5"/>
<circle cx="1482.6" cy="1003.2" r="20.7" fill="#303030"/>
<line x1="1482.6" y1="1022.5" x2="1463.3" y2="1003.2" stroke="#8a8a8a" stroke-width="2.5"/>
<circle cx="1344.9" cy="1140.2" r="20.7" fill="#303030"/>
<line x1="1344.9" y1="1120.9" x2="1364.2" y2="1140.2" stroke="#8a8a8a" stroke-width="2.5"/>
<circle cx="1482.6" cy="1140.2" r="20.7" fill="#303030"/>
<line x1="1482.6" y1="1120.9" x2="1463.3" y2="1140.2" stroke="#8a8a8a" stroke-width="2.5"/>
<circle cx="1413.8" cy="1071.7" r="68.8" fill="#5e5e5e"/>
<circle cx="1413.8" cy="1071.7" r="67.3" fill="none" stroke="#959595" stroke-width="2.2"/>
<circle cx="1413.8" cy="1071.7" r="62.0" fill="none" stroke="#707070" stroke-width="3"/>
<circle cx="1413.8" cy="1071.7" r="55.1" fill="#444444"/>
<circle cx="1413.8" cy="1071.7" r="53.7" fill="none" stroke="#626262" stroke-width="2.5"/>
<g filter="url(#b1)">
<path d="M1385.7 1059.6C1387.0 1056.0 1391.8 1053.9 1394.9 1053.4C1398.0 1052.9 1401.6 1057.3 1404.1 1056.5C1406.7 1055.7 1407.2 1050.4 1410.3 1048.8C1413.3 1047.3 1418.7 1046.0 1422.6 1047.3C1426.4 1048.6 1430.8 1052.7 1433.3 1056.5C1435.9 1060.4 1437.4 1065.2 1438.0 1070.3C1438.5 1075.5 1437.7 1082.4 1436.4 1087.3C1435.1 1092.1 1433.3 1096.5 1430.3 1099.6C1427.2 1102.6 1421.3 1104.2 1418.0 1105.7C1414.6 1107.3 1411.8 1107.5 1410.3 1108.8C1408.7 1110.1 1410.5 1113.1 1408.7 1113.4C1406.9 1113.7 1402.8 1112.4 1399.5 1110.3C1396.2 1108.3 1391.2 1104.9 1388.7 1101.1C1386.3 1097.3 1385.2 1091.6 1384.9 1087.3C1384.6 1082.9 1387.1 1079.6 1387.2 1075.0C1387.3 1070.3 1384.4 1063.2 1385.7 1059.6Z" fill="#f4f4f4"/>
<ellipse cx="1408.7" cy="1068.8" rx="2.8" ry="7.7" fill="#909090"/>
</g>
<ellipse cx="1364.9" cy="1011.9" rx="3.8" ry="3.0" fill="#fff" transform="rotate(-30 1364.9 1011.9)"/>
<ellipse cx="1364.9" cy="1023.4" rx="3.2" ry="2.6" fill="#fff" transform="rotate(-30 1364.9 1023.4)"/>
<ellipse cx="1376.4" cy="1028.8" rx="3.8" ry="3.0" fill="#fff" transform="rotate(-30 1376.4 1028.8)"/>
<ellipse cx="1456.4" cy="1039.6" rx="4.0" ry="3.2" fill="#fff" transform="rotate(-30 1456.4 1039.6)"/>
<ellipse cx="1376.4" cy="1111.9" rx="3.8" ry="3.0" fill="#fff" transform="rotate(-30 1376.4 1111.9)"/>
<ellipse cx="1447.2" cy="1111.9" rx="3.8" ry="3.0" fill="#fff" transform="rotate(-30 1447.2 1111.9)"/>
<ellipse cx="1367.2" cy="1116.5" rx="2.5" ry="2.0" fill="#fff" transform="rotate(-30 1367.2 1116.5)"/>
</g>
<path d="M1391.2 1086.6h2.8v2.8h-2.8z" fill="#7a00ff"/>
<path d="M1398.9 1086.6h2.8v2.8h-2.8zM1396.6 1097.4h2.8v2.8h-2.8z" fill="#0000ff"/>
</g>
<rect x="1345.8" y="1004.1" width="135.9" height="135.2" fill="none" stroke="#000" stroke-width="1.9"/>
<g clip-path="url(#c29)">
<g filter="url(#well)">
<rect x="1480.4" y="995.2" width="153.3" height="153.0" fill="#505050"/>
<circle cx="1488.4" cy="1003.2" r="20.6" fill="#303030"/>
<line x1="1488.4" y1="1022.4" x2="1507.6" y2="1003.2" stroke="#8a8a8a" stroke-width="2.5"/>
<circle cx="1625.7" cy="1003.2" r="20.6" fill="#303030"/>
<line x1="1625.7" y1="1022.4" x2="1606.5" y2="1003.2" stroke="#8a8a8a" stroke-width="2.5"/>
<circle cx="1488.4" cy="1140.2" r="20.6" fill="#303030"/>
<line x1="1488.4" y1="1121.0" x2="1507.6" y2="1140.2" stroke="#8a8a8a" stroke-width="2.5"/>
<circle cx="1625.7" cy="1140.2" r="20.6" fill="#303030"/>
<line x1="1625.7" y1="1121.0" x2="1606.5" y2="1140.2" stroke="#8a8a8a" stroke-width="2.5"/>
<circle cx="1557.1" cy="1071.7" r="68.6" fill="#5e5e5e"/>
<circle cx="1557.1" cy="1071.7" r="67.1" fill="none" stroke="#959595" stroke-width="2.2"/>
<circle cx="1557.1" cy="1071.7" r="61.8" fill="none" stroke="#707070" stroke-width="3"/>
<circle cx="1557.1" cy="1071.7" r="54.9" fill="#444444"/>
<circle cx="1557.1" cy="1071.7" r="53.5" fill="none" stroke="#626262" stroke-width="2.5"/>
<ellipse cx="1547.6" cy="1105.7" rx="18.5" ry="7.7" fill="#3a3a3a" filter="url(#b2)"/>
<g filter="url(#b1)">
<path d="M1523.0 1055.0C1524.8 1050.6 1529.9 1045.9 1533.7 1042.7C1537.6 1039.5 1541.7 1037.0 1546.0 1035.7C1550.4 1034.5 1555.3 1034.1 1559.9 1035.0C1564.5 1035.9 1570.9 1038.6 1573.7 1041.1C1576.5 1043.7 1574.8 1046.5 1576.8 1050.4C1578.9 1054.2 1584.0 1059.6 1586.0 1064.2C1588.1 1068.8 1589.6 1073.7 1589.1 1078.0C1588.6 1082.4 1586.0 1087.0 1583.0 1090.3C1579.9 1093.7 1574.2 1097.5 1570.7 1098.0C1567.1 1098.5 1563.5 1095.7 1561.4 1093.4C1559.4 1091.1 1560.4 1085.0 1558.3 1084.2C1556.3 1083.4 1552.7 1087.6 1549.1 1088.8C1545.5 1090.0 1540.7 1092.1 1536.8 1091.1C1533.0 1090.1 1528.4 1086.4 1526.1 1082.6C1523.8 1078.9 1523.5 1073.4 1523.0 1068.8C1522.5 1064.2 1521.2 1059.3 1523.0 1055.0Z" fill="#f4f4f4"/>
<ellipse cx="1555.3" cy="1067.3" rx="3.1" ry="5.4" fill="#a0a0a0"/>
</g>
<ellipse cx="1509.1" cy="1045.0" rx="4.0" ry="3.2" fill="#fff" transform="rotate(-30 1509.1 1045.0)"/>
<ellipse cx="1608.3" cy="1057.3" rx="3.8" ry="3.0" fill="#fff" transform="rotate(-30 1608.3 1057.3)"/>
<ellipse cx="1591.4" cy="1078.0" rx="3.2" ry="2.6" fill="#fff" transform="rotate(-30 1591.4 1078.0)"/>
<ellipse cx="1521.4" cy="1068.8" rx="3.0" ry="2.4" fill="#fff" transform="rotate(-30 1521.4 1068.8)"/>
<ellipse cx="1529.9" cy="1115.7" rx="3.8" ry="3.0" fill="#fff" transform="rotate(-30 1529.9 1115.7)"/>
<ellipse cx="1583.7" cy="1114.2" rx="3.8" ry="3.0" fill="#fff" transform="rotate(-30 1583.7 1114.2)"/>
<ellipse cx="1593.7" cy="1127.2" rx="2.5" ry="2.0" fill="#fff" transform="rotate(-30 1593.7 1127.2)"/>
</g>
<path d="M1563.1 1043.6h2.8v2.8h-2.8zM1564.6 1073.6h2.8v2.8h-2.8z" fill="#7a00ff"/>
<path d="M1554.6 1041.3h2.8v2.8h-2.8zM1570.8 1052.8h2.8v2.8h-2.8zM1537.0 1068.2h2.8v2.8h-2.8zM1564.6 1069.7h2.8v2.8h-2.8zM1533.9 1076.6h2.8v2.8h-2.8zM1540.0 1076.6h2.8v2.8h-2.8z" fill="#3a00ff"/>
<path d="M1553.9 1039.0h2.8v2.8h-2.8zM1557.7 1049.7h2.8v2.8h-2.8zM1570.0 1050.5h2.8v2.8h-2.8zM1528.5 1052.3h2.8v2.8h-2.8zM1540.8 1065.9h2.8v2.8h-2.8zM1576.9 1079.7h2.8v2.8h-2.8zM1580.8 1079.7h2.8v2.8h-2.8zM1560.0 1094.3h2.8v2.8h-2.8z" fill="#0000ff"/>
<path d="M1556.2 1048.2h2.8v2.8h-2.8zM1537.7 1063.6h2.8v2.8h-2.8zM1566.2 1065.9h2.8v2.8h-2.8z" fill="#0060ff"/>
<path d="M1539.3 1065.1h2.8v2.8h-2.8zM1562.3 1092.8h2.8v2.8h-2.8z" fill="#00b0ff"/>
<path d="M1560.8 1090.5h2.8v2.8h-2.8z" fill="#20ff20"/>
</g>
<rect x="1489.3" y="1004.1" width="135.5" height="135.2" fill="none" stroke="#000" stroke-width="1.9"/>
<g clip-path="url(#c30)">
<g filter="url(#well)">
<rect x="1193.5" y="1143.9" width="154.0" height="153.7" fill="#505050"/>
<circle cx="1201.5" cy="1151.9" r="20.7" fill="#303030"/>
<line x1="1201.5" y1="1171.2" x2="1220.8" y2="1151.9" stroke="#8a8a8a" stroke-width="2.5"/>
<circle cx="1339.5" cy="1151.9" r="20.7" fill="#303030"/>
<line x1="1339.5" y1="1171.2" x2="1320.2" y2="1151.9" stroke="#8a8a8a" stroke-width="2.5"/>
<circle cx="1201.5" cy="1289.6" r="20.7" fill="#303030"/>
<line x1="1201.5" y1="1270.3" x2="1220.8" y2="1289.6" stroke="#8a8a8a" stroke-width="2.5"/>
<circle cx="1339.5" cy="1289.6" r="20.7" fill="#303030"/>
<line x1="1339.5" y1="1270.3" x2="1320.2" y2="1289.6" stroke="#8a8a8a" stroke-width="2.5"/>
<circle cx="1270.5" cy="1220.8" r="69.0" fill="#5e5e5e"/>
<circle cx="1270.5" cy="1220.8" r="67.5" fill="none" stroke="#959595" stroke-width="2.2"/>
<circle cx="1270.5" cy="1220.8" r="62.1" fill="none" stroke="#707070" stroke-width="3"/>
<circle cx="1270.5" cy="1220.8" r="55.2" fill="#444444"/>
<circle cx="1270.5" cy="1220.8" r="53.8" fill="none" stroke="#626262" stroke-width="2.5"/>
<g filter="url(#b1)">
<path d="M1244.2 1225.0C1244.7 1221.6 1246.3 1216.1 1248.8 1212.7C1251.4 1209.2 1255.7 1205.9 1259.6 1204.2C1263.4 1202.5 1268.3 1202.8 1271.9 1202.7C1275.5 1202.5 1278.0 1203.7 1281.1 1203.4C1284.2 1203.2 1287.0 1200.4 1290.3 1201.1C1293.7 1201.9 1298.8 1205.1 1301.1 1208.0C1303.4 1211.0 1304.4 1215.0 1304.2 1218.8C1303.9 1222.7 1300.6 1227.3 1299.6 1231.1C1298.5 1235.0 1299.6 1238.5 1298.0 1241.9C1296.5 1245.2 1293.7 1248.5 1290.3 1251.1C1287.0 1253.7 1281.6 1256.7 1278.0 1257.3C1274.4 1257.8 1270.9 1256.5 1268.8 1254.2C1266.8 1251.9 1266.8 1246.2 1265.7 1243.4C1264.7 1240.6 1265.0 1238.3 1262.7 1237.3C1260.4 1236.2 1254.7 1238.0 1251.9 1237.3C1249.1 1236.5 1247.0 1234.7 1245.7 1232.6C1244.5 1230.6 1243.7 1228.3 1244.2 1225.0Z" fill="#f4f4f4"/>
<ellipse cx="1272.7" cy="1222.7" rx="5.8" ry="9.2" fill="#8a8a8a"/>
</g>
<ellipse cx="1297.3" cy="1172.7" rx="3.8" ry="3.0" fill="#fff" transform="rotate(-30 1297.3 1172.7)"/>
<ellipse cx="1235.7" cy="1179.6" rx="4.0" ry="3.2" fill="#fff" transform="rotate(-30 1235.7 1179.6)"/>
<ellipse cx="1222.7" cy="1241.9" rx="3.8" ry="3.0" fill="#fff" transform="rotate(-30 1222.7 1241.9)"/>
<ellipse cx="1304.9" cy="1263.4" rx="4.2" ry="3.4" fill="#fff" transform="rotate(-30 1304.9 1263.4)"/>
<ellipse cx="1324.2" cy="1168.8" rx="3.0" ry="2.4" fill="#fff" transform="rotate(-30 1324.2 1168.8)"/>
<ellipse cx="1227.3" cy="1181.9" rx="2.5" ry="2.0" fill="#fff" transform="rotate(-30 1227.3 1181.9)"/>
</g>
<path d="M1269.6 1202.4h2.4v2.4h-2.4zM1272.0 1202.4h2.4v2.4h-2.4zM1274.4 1202.4h2.4v2.4h-2.4zM1276.8 1202.4h2.4v2.4h-2.4zM1279.2 1202.4h2.4v2.4h-2.4zM1284.0 1202.4h2.4v2.4h-2.4zM1293.6 1202.4h2.4v2.4h-2.4zM1252.8 1207.2h2.4v2.4h-2.4zM1274.4 1207.2h2.4v2.4h-2.4zM1248.0 1212.0h2.4v2.4h-2.4zM1274.4 1214.4h2.4v2.4h-2.4zM1267.2 1216.8h2.4v2.4h-2.4zM1276.8 1216.8h2.4v2.4h-2.4zM1279.2 1216.8h2.4v2.4h-2.4zM1279.2 1219.2h2.4v2.4h-2.4zM1264.8 1221.6h2.4v2.4h-2.4zM1279.2 1221.6h2.4v2.4h-2.4zM1262.4 1224.0h2.4v2.4h-2.4zM1264.8 1226.4h2.4v2.4h-2.4zM1267.2 1226.4h2.4v2.4h-2.4zM1298.4 1226.4h2.4v2.4h-2.4zM1267.2 1228.8h2.4v2.4h-2.4zM1274.4 1228.8h2.4v2.4h-2.4zM1276.8 1228.8h2.4v2.4h-2.4zM1298.4 1228.8h2.4v2.4h-2.4zM1272.0 1231.2h2.4v2.4h-2.4zM1248.0 1233.6h2.4v2.4h-2.4zM1260.0 1233.6h2.4v2.4h-2.4zM1296.0 1233.6h2.4v2.4h-2.4zM1255.2 1236.0h2.4v2.4h-2.4zM1262.4 1236.0h2.4v2.4h-2.4zM1296.0 1238.4h2.4v2.4h-2.4zM1293.6 1245.6h2.4v2.4h-2.4zM1291.2 1248.0h2.4v2.4h-2.4zM1274.4 1255.2h2.4v2.4h-2.4z" fill="#7a00ff"/>
<path d="M1262.4 1202.4h2.4v2.4h-2.4zM1264.8 1202.4h2.4v2.4h-2.4zM1274.4 1204.8h2.4v2.4h-2.4zM1276.8 1204.8h2.4v2.4h-2.4zM1279.2 1204.8h2.4v2.4h-2.4zM1255.2 1207.2h2.4v2.4h-2.4zM1267.2 1207.2h2.4v2.4h-2.4zM1269.6 1207.2h2.4v2.4h-2.4zM1272.0 1207.2h2.4v2.4h-2.4zM1298.4 1207.2h2.4v2.4h-2.4zM1250.4 1209.6h2.4v2.4h-2.4zM1255.2 1209.6h2.4v2.4h-2.4zM1274.4 1209.6h2.4v2.4h-2.4zM1276.8 1209.6h2.4v2.4h-2.4zM1300.8 1209.6h2.4v2.4h-2.4zM1250.4 1212.0h2.4v2.4h-2.4zM1262.4 1212.0h2.4v2.4h-2.4zM1276.8 1212.0h2.4v2.4h-2.4zM1279.2 1212.0h2.4v2.4h-2.4zM1281.6 1212.0h2.4v2.4h-2.4zM1248.0 1214.4h2.4v2.4h-2.4zM1269.6 1214.4h2.4v2.4h-2.4zM1272.0 1214.4h2.4v2.4h-2.4zM1276.8 1214.4h2.4v2.4h-2.4zM1300.8 1214.4h2.4v2.4h-2.4zM1245.6 1216.8h2.4v2.4h-2.4zM1250.4 1216.8h2.4v2.4h-2.4zM1260.0 1216.8h2.4v2.4h-2.4zM1264.8 1216.8h2.4v2.4h-2.4zM1245.6 1219.2h2.4v2.4h-2.4zM1281.6 1219.2h2.4v2.4h-2.4zM1296.0 1221.6h2.4v2.4h-2.4zM1298.4 1221.6h2.4v2.4h-2.4zM1300.8 1221.6h2.4v2.4h-2.4zM1245.6 1224.0h2.4v2.4h-2.4zM1264.8 1224.0h2.4v2.4h-2.4zM1281.6 1224.0h2.4v2.4h-2.4zM1243.2 1226.4h2.4v2.4h-2.4zM1262.4 1226.4h2.4v2.4h-2.4zM1281.6 1226.4h2.4v2.4h-2.4zM1296.0 1226.4h2.4v2.4h-2.4zM1264.8 1228.8h2.4v2.4h-2.4zM1279.2 1228.8h2.4v2.4h-2.4zM1281.6 1228.8h2.4v2.4h-2.4zM1288.8 1228.8h2.4v2.4h-2.4zM1296.0 1228.8h2.4v2.4h-2.4zM1245.6 1231.2h2.4v2.4h-2.4zM1264.8 1231.2h2.4v2.4h-2.4zM1267.2 1231.2h2.4v2.4h-2.4zM1269.6 1231.2h2.4v2.4h-2.4zM1276.8 1231.2h2.4v2.4h-2.4zM1286.4 1231.2h2.4v2.4h-2.4zM1296.0 1231.2h2.4v2.4h-2.4zM1252.8 1233.6h2.4v2.4h-2.4zM1257.6 1233.6h2.4v2.4h-2.4zM1269.6 1233.6h2.4v2.4h-2.4zM1252.8 1236.0h2.4v2.4h-2.4zM1279.2 1236.0h2.4v2.4h-2.4zM1293.6 1236.0h2.4v2.4h-2.4zM1296.0 1236.0h2.4v2.4h-2.4zM1264.8 1238.4h2.4v2.4h-2.4zM1276.8 1238.4h2.4v2.4h-2.4zM1296.0 1240.8h2.4v2.4h-2.4zM1264.8 1243.2h2.4v2.4h-2.4zM1293.6 1243.2h2.4v2.4h-2.4zM1267.2 1245.6h2.4v2.4h-2.4zM1267.2 1248.0h2.4v2.4h-2.4zM1288.8 1248.0h2.4v2.4h-2.4zM1272.0 1255.2h2.4v2.4h-2.4zM1276.8 1255.2h2.4v2.4h-2.4zM1279.2 1255.2h2.4v2.4h-2.4z" fill="#3a00ff"/>
<path d="M1286.4 1202.4h2.4v2.4h-2.4zM1291.2 1202.4h2.4v2.4h-2.4zM1264.8 1204.8h2.4v2.4h-2.4zM1267.2 1204.8h2.4v2.4h-2.4zM1269.6 1204.8h2.4v2.4h-2.4zM1272.0 1204.8h2.4v2.4h-2.4zM1281.6 1204.8h2.4v2.4h-2.4zM1286.4 1204.8h2.4v2.4h-2.4zM1291.2 1204.8h2.4v2.4h-2.4zM1293.6 1204.8h2.4v2.4h-2.4zM1296.0 1204.8h2.4v2.4h-2.4zM1260.0 1207.2h2.4v2.4h-2.4zM1262.4 1207.2h2.4v2.4h-2.4zM1264.8 1207.2h2.4v2.4h-2.4zM1276.8 1207.2h2.4v2.4h-2.4zM1279.2 1207.2h2.4v2.4h-2.4zM1281.6 1207.2h2.4v2.4h-2.4zM1288.8 1207.2h2.4v2.4h-2.4zM1252.8 1209.6h2.4v2.4h-2.4zM1262.4 1209.6h2.4v2.4h-2.4zM1267.2 1209.6h2.4v2.4h-2.4zM1269.6 1209.6h2.4v2.4h-2.4zM1281.6 1209.6h2.4v2.4h-2.4zM1291.2 1209.6h2.4v2.4h-2.4zM1252.8 1212.0h2.4v2.4h-2.4zM1264.8 1212.0h2.4v2.4h-2.4zM1269.6 1212.0h2.4v2.4h-2.4zM1272.0 1212.0h2.4v2.4h-2.4zM1274.4 1212.0h2.4v2.4h-2.4zM1284.0 1212.0h2.4v2.4h-2.4zM1291.2 1212.0h2.4v2.4h-2.4zM1252.8 1214.4h2.4v2.4h-2.4zM1255.2 1214.4h2.4v2.4h-2.4zM1260.0 1214.4h2.4v2.4h-2.4zM1262.4 1214.4h2.4v2.4h-2.4zM1267.2 1214.4h2.4v2.4h-2.4zM1279.2 1214.4h2.4v2.4h-2.4zM1248.0 1216.8h2.4v2.4h-2.4zM1281.6 1216.8h2.4v2.4h-2.4zM1298.4 1216.8h2.4v2.4h-2.4zM1250.4 1219.2h2.4v2.4h-2.4zM1257.6 1219.2h2.4v2.4h-2.4zM1260.0 1219.2h2.4v2.4h-2.4zM1262.4 1219.2h2.4v2.4h-2.4zM1264.8 1219.2h2.4v2.4h-2.4zM1298.4 1219.2h2.4v2.4h-2.4zM1300.8 1219.2h2.4v2.4h-2.4zM1245.6 1221.6h2.4v2.4h-2.4zM1260.0 1221.6h2.4v2.4h-2.4zM1262.4 1221.6h2.4v2.4h-2.4zM1281.6 1221.6h2.4v2.4h-2.4zM1284.0 1221.6h2.4v2.4h-2.4zM1288.8 1221.6h2.4v2.4h-2.4zM1257.6 1224.0h2.4v2.4h-2.4zM1284.0 1224.0h2.4v2.4h-2.4zM1298.4 1224.0h2.4v2.4h-2.4zM1245.6 1226.4h2.4v2.4h-2.4zM1260.0 1226.4h2.4v2.4h-2.4zM1284.0 1226.4h2.4v2.4h-2.4zM1291.2 1226.4h2.4v2.4h-2.4zM1245.6 1228.8h2.4v2.4h-2.4zM1250.4 1228.8h2.4v2.4h-2.4zM1257.6 1228.8h2.4v2.4h-2.4zM1262.4 1228.8h2.4v2.4h-2.4zM1293.6 1228.8h2.4v2.4h-2.4zM1248.0 1231.2h2.4v2.4h-2.4zM1255.2 1231.2h2.4v2.4h-2.4zM1257.6 1231.2h2.4v2.4h-2.4zM1260.0 1231.2h2.4v2.4h-2.4zM1262.4 1231.2h2.4v2.4h-2.4zM1274.4 1231.2h2.4v2.4h-2.4zM1284.0 1231.2h2.4v2.4h-2.4zM1291.2 1231.2h2.4v2.4h-2.4zM1293.6 1231.2h2.4v2.4h-2.4zM1262.4 1233.6h2.4v2.4h-2.4zM1264.8 1233.6h2.4v2.4h-2.4zM1267.2 1233.6h2.4v2.4h-2.4zM1272.0 1233.6h2.4v2.4h-2.4zM1274.4 1233.6h2.4v2.4h-2.4zM1276.8 1233.6h2.4v2.4h-2.4zM1279.2 1233.6h2.4v2.4h-2.4zM1281.6 1233.6h2.4v2.4h-2.4zM1291.2 1233.6h2.4v2.4h-2.4zM1293.6 1233.6h2.4v2.4h-2.4zM1264.8 1236.0h2.4v2.4h-2.4zM1267.2 1236.0h2.4v2.4h-2.4zM1272.0 1236.0h2.4v2.4h-2.4zM1274.4 1236.0h2.4v2.4h-2.4zM1284.0 1236.0h2.4v2.4h-2.4zM1269.6 1238.4h2.4v2.4h-2.4zM1272.0 1238.4h2.4v2.4h-2.4zM1279.2 1238.4h2.4v2.4h-2.4zM1293.6 1238.4h2.4v2.4h-2.4zM1269.6 1240.8h2.4v2.4h-2.4zM1272.0 1240.8h2.4v2.4h-2.4zM1267.2 1243.2h2.4v2.4h-2.4zM1269.6 1243.2h2.4v2.4h-2.4zM1291.2 1245.6h2.4v2.4h-2.4zM1267.2 1250.4h2.4v2.4h-2.4zM1286.4 1250.4h2.4v2.4h-2.4zM1269.6 1252.8h2.4v2.4h-2.4zM1274.4 1252.8h2.4v2.4h-2.4zM1284.0 1252.8h2.4v2.4h-2.4z" fill="#0000ff"/>
<path d="M1288.8 1202.4h2.4v2.4h-2.4zM1260.0 1204.8h2.4v2.4h-2.4zM1262.4 1204.8h2.4v2.4h-2.4zM1257.6 1207.2h2.4v2.4h-2.4zM1284.0 1207.2h2.4v2.4h-2.4zM1286.4 1207.2h2.4v2.4h-2.4zM1291.2 1207.2h2.4v2.4h-2.4zM1293.6 1207.2h2.4v2.4h-2.4zM1296.0 1207.2h2.4v2.4h-2.4zM1257.6 1209.6h2.4v2.4h-2.4zM1260.0 1209.6h2.4v2.4h-2.4zM1264.8 1209.6h2.4v2.4h-2.4zM1284.0 1209.6h2.4v2.4h-2.4zM1288.8 1209.6h2.4v2.4h-2.4zM1298.4 1209.6h2.4v2.4h-2.4zM1255.2 1212.0h2.4v2.4h-2.4zM1257.6 1212.0h2.4v2.4h-2.4zM1260.0 1212.0h2.4v2.4h-2.4zM1293.6 1212.0h2.4v2.4h-2.4zM1298.4 1212.0h2.4v2.4h-2.4zM1264.8 1214.4h2.4v2.4h-2.4zM1281.6 1214.4h2.4v2.4h-2.4zM1288.8 1214.4h2.4v2.4h-2.4zM1298.4 1214.4h2.4v2.4h-2.4zM1252.8 1216.8h2.4v2.4h-2.4zM1255.2 1216.8h2.4v2.4h-2.4zM1262.4 1216.8h2.4v2.4h-2.4zM1284.0 1216.8h2.4v2.4h-2.4zM1291.2 1216.8h2.4v2.4h-2.4zM1296.0 1216.8h2.4v2.4h-2.4zM1300.8 1216.8h2.4v2.4h-2.4zM1248.0 1219.2h2.4v2.4h-2.4zM1252.8 1219.2h2.4v2.4h-2.4zM1255.2 1219.2h2.4v2.4h-2.4zM1284.0 1219.2h2.4v2.4h-2.4zM1288.8 1219.2h2.4v2.4h-2.4zM1293.6 1219.2h2.4v2.4h-2.4zM1296.0 1219.2h2.4v2.4h-2.4zM1248.0 1221.6h2.4v2.4h-2.4zM1250.4 1221.6h2.4v2.4h-2.4zM1252.8 1221.6h2.4v2.4h-2.4zM1255.2 1221.6h2.4v2.4h-2.4zM1291.2 1221.6h2.4v2.4h-2.4zM1293.6 1221.6h2.4v2.4h-2.4zM1250.4 1224.0h2.4v2.4h-2.4zM1286.4 1224.0h2.4v2.4h-2.4zM1288.8 1224.0h2.4v2.4h-2.4zM1291.2 1224.0h2.4v2.4h-2.4zM1293.6 1224.0h2.4v2.4h-2.4zM1296.0 1224.0h2.4v2.4h-2.4zM1248.0 1226.4h2.4v2.4h-2.4zM1252.8 1226.4h2.4v2.4h-2.4zM1255.2 1226.4h2.4v2.4h-2.4zM1257.6 1226.4h2.4v2.4h-2.4zM1286.4 1226.4h2.4v2.4h-2.4zM1288.8 1226.4h2.4v2.4h-2.4zM1293.6 1226.4h2.4v2.4h-2.4zM1248.0 1228.8h2.4v2.4h-2.4zM1255.2 1228.8h2.4v2.4h-2.4zM1284.0 1228.8h2.4v2.4h-2.4zM1286.4 1228.8h2.4v2.4h-2.4zM1291.2 1228.8h2.4v2.4h-2.4zM1252.8 1231.2h2.4v2.4h-2.4zM1288.8 1231.2h2.4v2.4h-2.4zM1284.0 1233.6h2.4v2.4h-2.4zM1286.4 1233.6h2.4v2.4h-2.4zM1288.8 1233.6h2.4v2.4h-2.4zM1269.6 1236.0h2.4v2.4h-2.4zM1276.8 1236.0h2.4v2.4h-2.4zM1286.4 1236.0h2.4v2.4h-2.4zM1288.8 1236.0h2.4v2.4h-2.4zM1291.2 1236.0h2.4v2.4h-2.4zM1274.4 1238.4h2.4v2.4h-2.4zM1284.0 1238.4h2.4v2.4h-2.4zM1286.4 1238.4h2.4v2.4h-2.4zM1288.8 1238.4h2.4v2.4h-2.4zM1291.2 1238.4h2.4v2.4h-2.4zM1267.2 1240.8h2.4v2.4h-2.4zM1274.4 1240.8h2.4v2.4h-2.4zM1286.4 1240.8h2.4v2.4h-2.4zM1293.6 1240.8h2.4v2.4h-2.4zM1272.0 1243.2h2.4v2.4h-2.4zM1274.4 1243.2h2.4v2.4h-2.4zM1288.8 1243.2h2.4v2.4h-2.4zM1291.2 1243.2h2.4v2.4h-2.4zM1286.4 1245.6h2.4v2.4h-2.4zM1286.4 1248.0h2.4v2.4h-2.4zM1269.6 1250.4h2.4v2.4h-2.4zM1272.0 1252.8h2.4v2.4h-2.4z" fill="#0060ff"/>
<path d="M1296.0 1209.6h2.4v2.4h-2.4zM1286.4 1212.0h2.4v2.4h-2.4zM1296.0 1212.0h2.4v2.4h-2.4zM1284.0 1214.4h2.4v2.4h-2.4zM1286.4 1214.4h2.4v2.4h-2.4zM1291.2 1214.4h2.4v2.4h-2.4zM1293.6 1214.4h2.4v2.4h-2.4zM1296.0 1214.4h2.4v2.4h-2.4zM1286.4 1216.8h2.4v2.4h-2.4zM1288.8 1216.8h2.4v2.4h-2.4zM1293.6 1216.8h2.4v2.4h-2.4zM1248.0 1224.0h2.4v2.4h-2.4zM1252.8 1224.0h2.4v2.4h-2.4zM1255.2 1224.0h2.4v2.4h-2.4zM1250.4 1226.4h2.4v2.4h-2.4zM1252.8 1228.8h2.4v2.4h-2.4zM1250.4 1231.2h2.4v2.4h-2.4zM1281.6 1238.4h2.4v2.4h-2.4zM1276.8 1240.8h2.4v2.4h-2.4zM1279.2 1240.8h2.4v2.4h-2.4zM1284.0 1240.8h2.4v2.4h-2.4zM1288.8 1240.8h2.4v2.4h-2.4zM1291.2 1240.8h2.4v2.4h-2.4zM1276.8 1243.2h2.4v2.4h-2.4zM1286.4 1243.2h2.4v2.4h-2.4zM1269.6 1245.6h2.4v2.4h-2.4zM1288.8 1245.6h2.4v2.4h-2.4zM1272.0 1250.4h2.4v2.4h-2.4zM1284.0 1250.4h2.4v2.4h-2.4zM1279.2 1252.8h2.4v2.4h-2.4zM1281.6 1252.8h2.4v2.4h-2.4z" fill="#00b0ff"/>
<path d="M1293.6 1209.6h2.4v2.4h-2.4zM1281.6 1240.8h2.4v2.4h-2.4zM1284.0 1243.2h2.4v2.4h-2.4zM1274.4 1245.6h2.4v2.4h-2.4zM1276.8 1245.6h2.4v2.4h-2.4zM1284.0 1245.6h2.4v2.4h-2.4zM1272.0 1248.0h2.4v2.4h-2.4zM1274.4 1248.0h2.4v2.4h-2.4zM1276.8 1248.0h2.4v2.4h-2.4zM1284.0 1248.0h2.4v2.4h-2.4zM1281.6 1250.4h2.4v2.4h-2.4zM1276.8 1252.8h2.4v2.4h-2.4z" fill="#00f0ff"/>
<path d="M1279.2 1245.6h2.4v2.4h-2.4zM1279.2 1248.0h2.4v2.4h-2.4zM1281.6 1248.0h2.4v2.4h-2.4zM1274.4 1250.4h2.4v2.4h-2.4z" fill="#00ff90"/>
<path d="M1281.6 1245.6h2.4v2.4h-2.4zM1276.8 1250.4h2.4v2.4h-2.4zM1279.2 1250.4h2.4v2.4h-2.4z" fill="#20ff20"/>
</g>
<rect x="1202.4" y="1152.8" width="136.2" height="135.9" fill="none" stroke="#000" stroke-width="1.9"/>
<g clip-path="url(#c31)">
<g filter="url(#well)">
<rect x="1336.9" y="1143.9" width="153.7" height="153.7" fill="#505050"/>
<circle cx="1344.9" cy="1151.9" r="20.7" fill="#303030"/>
<line x1="1344.9" y1="1171.2" x2="1364.2" y2="1151.9" stroke="#8a8a8a" stroke-width="2.5"/>
<circle cx="1482.6" cy="1151.9" r="20.7" fill="#303030"/>
<line x1="1482.6" y1="1171.2" x2="1463.3" y2="1151.9" stroke="#8a8a8a" stroke-width="2.5"/>
<circle cx="1344.9" cy="1289.6" r="20.7" fill="#303030"/>
<line x1="1344.9" y1="1270.3" x2="1364.2" y2="1289.6" stroke="#8a8a8a" stroke-width="2.5"/>
<circle cx="1482.6" cy="1289.6" r="20.7" fill="#303030"/>
<line x1="1482.6" y1="1270.3" x2="1463.3" y2="1289.6" stroke="#8a8a8a" stroke-width="2.5"/>
<circle cx="1413.8" cy="1220.8" r="68.8" fill="#5e5e5e"/>
<circle cx="1413.8" cy="1220.8" r="67.3" fill="none" stroke="#959595" stroke-width="2.2"/>
<circle cx="1413.8" cy="1220.8" r="62.0" fill="none" stroke="#707070" stroke-width="3"/>
<circle cx="1413.8" cy="1220.8" r="55.1" fill="#444444"/>
<circle cx="1413.8" cy="1220.8" r="53.7" fill="none" stroke="#626262" stroke-width="2.5"/>
<ellipse cx="1390.3" cy="1201.1" rx="13.8" ry="3.4" fill="#a8a8a8" transform="rotate(20 1390.3 1201.1)"/>
<g filter="url(#b1)">
<path d="M1384.1 1218.8C1385.4 1216.2 1390.3 1213.4 1393.4 1212.7C1396.4 1211.9 1399.8 1215.2 1402.6 1214.2C1405.4 1213.2 1409.8 1209.6 1410.3 1206.5C1410.8 1203.4 1405.4 1198.8 1405.7 1195.7C1405.9 1192.7 1409.2 1190.0 1411.8 1188.1C1414.4 1186.1 1417.2 1184.2 1421.0 1184.2C1424.9 1184.2 1431.0 1185.4 1434.9 1188.1C1438.7 1190.7 1442.3 1196.5 1444.1 1200.4C1445.9 1204.2 1446.7 1208.0 1445.6 1211.1C1444.6 1214.2 1440.8 1217.8 1438.0 1218.8C1435.1 1219.8 1430.3 1215.7 1428.7 1217.3C1427.2 1218.8 1428.7 1224.7 1428.7 1228.0C1428.7 1231.4 1429.8 1234.4 1428.7 1237.3C1427.7 1240.1 1425.1 1242.6 1422.6 1244.9C1420.0 1247.3 1416.7 1250.1 1413.3 1251.1C1410.0 1252.1 1404.4 1252.6 1402.6 1251.1C1400.8 1249.6 1404.1 1244.4 1402.6 1241.9C1401.0 1239.3 1396.2 1238.0 1393.4 1235.7C1390.5 1233.4 1387.2 1230.9 1385.7 1228.0C1384.1 1225.2 1382.9 1221.4 1384.1 1218.8Z" fill="#f4f4f4"/>
</g>
<ellipse cx="1368.8" cy="1186.5" rx="3.8" ry="3.0" fill="#fff" transform="rotate(-30 1368.8 1186.5)"/>
<ellipse cx="1447.9" cy="1178.1" rx="4.0" ry="3.2" fill="#fff" transform="rotate(-30 1447.9 1178.1)"/>
<ellipse cx="1381.8" cy="1231.9" rx="3.2" ry="2.6" fill="#fff" transform="rotate(-30 1381.8 1231.9)"/>
<ellipse cx="1371.1" cy="1252.6" rx="3.8" ry="3.0" fill="#fff" transform="rotate(-30 1371.1 1252.6)"/>
<ellipse cx="1434.9" cy="1268.8" rx="3.8" ry="3.0" fill="#fff" transform="rotate(-30 1434.9 1268.8)"/>
<ellipse cx="1460.2" cy="1262.6" rx="3.8" ry="3.0" fill="#fff" transform="rotate(-30 1460.2 1262.6)"/>
<ellipse cx="1477.2" cy="1251.9" rx="3.8" ry="3.0" fill="#fff" transform="rotate(-30 1477.2 1251.9)"/>
<ellipse cx="1398.0" cy="1205.7" rx="2.8" ry="2.2" fill="#fff" transform="rotate(-30 1398.0 1205.7)"/>
</g>
<path d="M1420.8 1183.2h2.4v2.4h-2.4zM1416.0 1185.6h2.4v2.4h-2.4zM1430.4 1185.6h2.4v2.4h-2.4zM1411.2 1188.0h2.4v2.4h-2.4zM1442.4 1200.0h2.4v2.4h-2.4zM1440.0 1214.4h2.4v2.4h-2.4zM1384.8 1216.8h2.4v2.4h-2.4zM1437.6 1216.8h2.4v2.4h-2.4zM1389.6 1231.2h2.4v2.4h-2.4zM1399.2 1238.4h2.4v2.4h-2.4zM1418.4 1245.6h2.4v2.4h-2.4z" fill="#7a00ff"/>
<path d="M1413.6 1185.6h2.4v2.4h-2.4zM1418.4 1185.6h2.4v2.4h-2.4zM1432.8 1188.0h2.4v2.4h-2.4zM1408.8 1190.4h2.4v2.4h-2.4zM1411.2 1190.4h2.4v2.4h-2.4zM1435.2 1190.4h2.4v2.4h-2.4zM1406.4 1197.6h2.4v2.4h-2.4zM1440.0 1200.0h2.4v2.4h-2.4zM1442.4 1202.4h2.4v2.4h-2.4zM1437.6 1204.8h2.4v2.4h-2.4zM1442.4 1204.8h2.4v2.4h-2.4zM1408.8 1207.2h2.4v2.4h-2.4zM1442.4 1207.2h2.4v2.4h-2.4zM1406.4 1209.6h2.4v2.4h-2.4zM1392.0 1212.0h2.4v2.4h-2.4zM1394.4 1212.0h2.4v2.4h-2.4zM1404.0 1212.0h2.4v2.4h-2.4zM1423.2 1212.0h2.4v2.4h-2.4zM1440.0 1212.0h2.4v2.4h-2.4zM1442.4 1212.0h2.4v2.4h-2.4zM1425.6 1214.4h2.4v2.4h-2.4zM1428.0 1214.4h2.4v2.4h-2.4zM1430.4 1214.4h2.4v2.4h-2.4zM1413.6 1216.8h2.4v2.4h-2.4zM1401.6 1219.2h2.4v2.4h-2.4zM1384.8 1226.4h2.4v2.4h-2.4zM1387.2 1228.8h2.4v2.4h-2.4zM1406.4 1231.2h2.4v2.4h-2.4zM1392.0 1233.6h2.4v2.4h-2.4zM1396.8 1236.0h2.4v2.4h-2.4zM1420.8 1243.2h2.4v2.4h-2.4z" fill="#3a00ff"/>
<path d="M1428.0 1185.6h2.4v2.4h-2.4zM1413.6 1188.0h2.4v2.4h-2.4zM1418.4 1188.0h2.4v2.4h-2.4zM1425.6 1188.0h2.4v2.4h-2.4zM1430.4 1188.0h2.4v2.4h-2.4zM1418.4 1190.4h2.4v2.4h-2.4zM1430.4 1190.4h2.4v2.4h-2.4zM1432.8 1190.4h2.4v2.4h-2.4zM1406.4 1192.8h2.4v2.4h-2.4zM1416.0 1192.8h2.4v2.4h-2.4zM1435.2 1192.8h2.4v2.4h-2.4zM1437.6 1192.8h2.4v2.4h-2.4zM1406.4 1195.2h2.4v2.4h-2.4zM1408.8 1195.2h2.4v2.4h-2.4zM1435.2 1195.2h2.4v2.4h-2.4zM1440.0 1195.2h2.4v2.4h-2.4zM1416.0 1197.6h2.4v2.4h-2.4zM1437.6 1197.6h2.4v2.4h-2.4zM1440.0 1197.6h2.4v2.4h-2.4zM1408.8 1200.0h2.4v2.4h-2.4zM1408.8 1202.4h2.4v2.4h-2.4zM1437.6 1202.4h2.4v2.4h-2.4zM1411.2 1204.8h2.4v2.4h-2.4zM1435.2 1204.8h2.4v2.4h-2.4zM1440.0 1204.8h2.4v2.4h-2.4zM1416.0 1207.2h2.4v2.4h-2.4zM1418.4 1207.2h2.4v2.4h-2.4zM1430.4 1207.2h2.4v2.4h-2.4zM1432.8 1207.2h2.4v2.4h-2.4zM1437.6 1207.2h2.4v2.4h-2.4zM1408.8 1209.6h2.4v2.4h-2.4zM1411.2 1209.6h2.4v2.4h-2.4zM1423.2 1209.6h2.4v2.4h-2.4zM1432.8 1209.6h2.4v2.4h-2.4zM1435.2 1209.6h2.4v2.4h-2.4zM1437.6 1209.6h2.4v2.4h-2.4zM1442.4 1209.6h2.4v2.4h-2.4zM1406.4 1212.0h2.4v2.4h-2.4zM1411.2 1212.0h2.4v2.4h-2.4zM1413.6 1212.0h2.4v2.4h-2.4zM1416.0 1212.0h2.4v2.4h-2.4zM1432.8 1212.0h2.4v2.4h-2.4zM1437.6 1212.0h2.4v2.4h-2.4zM1387.2 1214.4h2.4v2.4h-2.4zM1389.6 1214.4h2.4v2.4h-2.4zM1392.0 1214.4h2.4v2.4h-2.4zM1394.4 1214.4h2.4v2.4h-2.4zM1399.2 1214.4h2.4v2.4h-2.4zM1401.6 1214.4h2.4v2.4h-2.4zM1411.2 1214.4h2.4v2.4h-2.4zM1418.4 1214.4h2.4v2.4h-2.4zM1432.8 1214.4h2.4v2.4h-2.4zM1437.6 1214.4h2.4v2.4h-2.4zM1408.8 1216.8h2.4v2.4h-2.4zM1418.4 1216.8h2.4v2.4h-2.4zM1425.6 1216.8h2.4v2.4h-2.4zM1435.2 1216.8h2.4v2.4h-2.4zM1384.8 1219.2h2.4v2.4h-2.4zM1404.0 1219.2h2.4v2.4h-2.4zM1416.0 1219.2h2.4v2.4h-2.4zM1425.6 1219.2h2.4v2.4h-2.4zM1401.6 1221.6h2.4v2.4h-2.4zM1406.4 1221.6h2.4v2.4h-2.4zM1418.4 1221.6h2.4v2.4h-2.4zM1425.6 1221.6h2.4v2.4h-2.4zM1384.8 1224.0h2.4v2.4h-2.4zM1399.2 1224.0h2.4v2.4h-2.4zM1401.6 1224.0h2.4v2.4h-2.4zM1406.4 1224.0h2.4v2.4h-2.4zM1408.8 1224.0h2.4v2.4h-2.4zM1411.2 1224.0h2.4v2.4h-2.4zM1425.6 1224.0h2.4v2.4h-2.4zM1387.2 1226.4h2.4v2.4h-2.4zM1404.0 1226.4h2.4v2.4h-2.4zM1411.2 1226.4h2.4v2.4h-2.4zM1416.0 1226.4h2.4v2.4h-2.4zM1389.6 1228.8h2.4v2.4h-2.4zM1394.4 1228.8h2.4v2.4h-2.4zM1406.4 1228.8h2.4v2.4h-2.4zM1411.2 1228.8h2.4v2.4h-2.4zM1392.0 1231.2h2.4v2.4h-2.4zM1399.2 1231.2h2.4v2.4h-2.4zM1408.8 1231.2h2.4v2.4h-2.4zM1394.4 1233.6h2.4v2.4h-2.4zM1399.2 1233.6h2.4v2.4h-2.4zM1404.0 1233.6h2.4v2.4h-2.4zM1399.2 1236.0h2.4v2.4h-2.4zM1401.6 1238.4h2.4v2.4h-2.4zM1404.0 1238.4h2.4v2.4h-2.4zM1406.4 1238.4h2.4v2.4h-2.4zM1401.6 1240.8h2.4v2.4h-2.4zM1408.8 1240.8h2.4v2.4h-2.4zM1413.6 1240.8h2.4v2.4h-2.4zM1413.6 1243.2h2.4v2.4h-2.4zM1416.0 1245.6h2.4v2.4h-2.4z" fill="#0000ff"/>
<path d="M1420.8 1185.6h2.4v2.4h-2.4zM1423.2 1185.6h2.4v2.4h-2.4zM1425.6 1185.6h2.4v2.4h-2.4zM1416.0 1188.0h2.4v2.4h-2.4zM1420.8 1188.0h2.4v2.4h-2.4zM1423.2 1188.0h2.4v2.4h-2.4zM1413.6 1190.4h2.4v2.4h-2.4zM1416.0 1190.4h2.4v2.4h-2.4zM1420.8 1190.4h2.4v2.4h-2.4zM1428.0 1190.4h2.4v2.4h-2.4zM1413.6 1192.8h2.4v2.4h-2.4zM1428.0 1192.8h2.4v2.4h-2.4zM1430.4 1192.8h2.4v2.4h-2.4zM1432.8 1192.8h2.4v2.4h-2.4zM1411.2 1195.2h2.4v2.4h-2.4zM1416.0 1195.2h2.4v2.4h-2.4zM1425.6 1195.2h2.4v2.4h-2.4zM1430.4 1195.2h2.4v2.4h-2.4zM1437.6 1195.2h2.4v2.4h-2.4zM1408.8 1197.6h2.4v2.4h-2.4zM1413.6 1197.6h2.4v2.4h-2.4zM1418.4 1197.6h2.4v2.4h-2.4zM1420.8 1197.6h2.4v2.4h-2.4zM1423.2 1197.6h2.4v2.4h-2.4zM1425.6 1197.6h2.4v2.4h-2.4zM1432.8 1197.6h2.4v2.4h-2.4zM1413.6 1200.0h2.4v2.4h-2.4zM1416.0 1200.0h2.4v2.4h-2.4zM1418.4 1200.0h2.4v2.4h-2.4zM1423.2 1200.0h2.4v2.4h-2.4zM1432.8 1200.0h2.4v2.4h-2.4zM1435.2 1200.0h2.4v2.4h-2.4zM1437.6 1200.0h2.4v2.4h-2.4zM1413.6 1202.4h2.4v2.4h-2.4zM1416.0 1202.4h2.4v2.4h-2.4zM1418.4 1202.4h2.4v2.4h-2.4zM1420.8 1202.4h2.4v2.4h-2.4zM1423.2 1202.4h2.4v2.4h-2.4zM1425.6 1202.4h2.4v2.4h-2.4zM1432.8 1202.4h2.4v2.4h-2.4zM1416.0 1204.8h2.4v2.4h-2.4zM1418.4 1204.8h2.4v2.4h-2.4zM1423.2 1204.8h2.4v2.4h-2.4zM1425.6 1204.8h2.4v2.4h-2.4zM1428.0 1204.8h2.4v2.4h-2.4zM1432.8 1204.8h2.4v2.4h-2.4zM1411.2 1207.2h2.4v2.4h-2.4zM1413.6 1207.2h2.4v2.4h-2.4zM1420.8 1207.2h2.4v2.4h-2.4zM1425.6 1207.2h2.4v2.4h-2.4zM1428.0 1207.2h2.4v2.4h-2.4zM1435.2 1207.2h2.4v2.4h-2.4zM1440.0 1207.2h2.4v2.4h-2.4zM1413.6 1209.6h2.4v2.4h-2.4zM1416.0 1209.6h2.4v2.4h-2.4zM1418.4 1209.6h2.4v2.4h-2.4zM1420.8 1209.6h2.4v2.4h-2.4zM1428.0 1209.6h2.4v2.4h-2.4zM1430.4 1209.6h2.4v2.4h-2.4zM1440.0 1209.6h2.4v2.4h-2.4zM1408.8 1212.0h2.4v2.4h-2.4zM1420.8 1212.0h2.4v2.4h-2.4zM1425.6 1212.0h2.4v2.4h-2.4zM1428.0 1212.0h2.4v2.4h-2.4zM1435.2 1212.0h2.4v2.4h-2.4zM1396.8 1214.4h2.4v2.4h-2.4zM1406.4 1214.4h2.4v2.4h-2.4zM1408.8 1214.4h2.4v2.4h-2.4zM1413.6 1214.4h2.4v2.4h-2.4zM1416.0 1214.4h2.4v2.4h-2.4zM1420.8 1214.4h2.4v2.4h-2.4zM1423.2 1214.4h2.4v2.4h-2.4zM1435.2 1214.4h2.4v2.4h-2.4zM1387.2 1216.8h2.4v2.4h-2.4zM1389.6 1216.8h2.4v2.4h-2.4zM1394.4 1216.8h2.4v2.4h-2.4zM1399.2 1216.8h2.4v2.4h-2.4zM1401.6 1216.8h2.4v2.4h-2.4zM1404.0 1216.8h2.4v2.4h-2.4zM1406.4 1216.8h2.4v2.4h-2.4zM1416.0 1216.8h2.4v2.4h-2.4zM1423.2 1216.8h2.4v2.4h-2.4zM1394.4 1219.2h2.4v2.4h-2.4zM1399.2 1219.2h2.4v2.4h-2.4zM1406.4 1219.2h2.4v2.4h-2.4zM1408.8 1219.2h2.4v2.4h-2.4zM1411.2 1219.2h2.4v2.4h-2.4zM1413.6 1219.2h2.4v2.4h-2.4zM1418.4 1219.2h2.4v2.4h-2.4zM1420.8 1219.2h2.4v2.4h-2.4zM1384.8 1221.6h2.4v2.4h-2.4zM1394.4 1221.6h2.4v2.4h-2.4zM1399.2 1221.6h2.4v2.4h-2.4zM1404.0 1221.6h2.4v2.4h-2.4zM1408.8 1221.6h2.4v2.4h-2.4zM1411.2 1221.6h2.4v2.4h-2.4zM1413.6 1221.6h2.4v2.4h-2.4zM1416.0 1221.6h2.4v2.4h-2.4zM1420.8 1221.6h2.4v2.4h-2.4zM1423.2 1221.6h2.4v2.4h-2.4zM1387.2 1224.0h2.4v2.4h-2.4zM1392.0 1224.0h2.4v2.4h-2.4zM1404.0 1224.0h2.4v2.4h-2.4zM1413.6 1224.0h2.4v2.4h-2.4zM1416.0 1224.0h2.4v2.4h-2.4zM1420.8 1224.0h2.4v2.4h-2.4zM1423.2 1224.0h2.4v2.4h-2.4zM1389.6 1226.4h2.4v2.4h-2.4zM1392.0 1226.4h2.4v2.4h-2.4zM1394.4 1226.4h2.4v2.4h-2.4zM1396.8 1226.4h2.4v2.4h-2.4zM1399.2 1226.4h2.4v2.4h-2.4zM1401.6 1226.4h2.4v2.4h-2.4zM1406.4 1226.4h2.4v2.4h-2.4zM1408.8 1226.4h2.4v2.4h-2.4zM1413.6 1226.4h2.4v2.4h-2.4zM1392.0 1228.8h2.4v2.4h-2.4zM1396.8 1228.8h2.4v2.4h-2.4zM1401.6 1228.8h2.4v2.4h-2.4zM1404.0 1228.8h2.4v2.4h-2.4zM1408.8 1228.8h2.4v2.4h-2.4zM1425.6 1228.8h2.4v2.4h-2.4zM1394.4 1231.2h2.4v2.4h-2.4zM1396.8 1231.2h2.4v2.4h-2.4zM1404.0 1231.2h2.4v2.4h-2.4zM1411.2 1231.2h2.4v2.4h-2.4zM1401.6 1233.6h2.4v2.4h-2.4zM1408.8 1233.6h2.4v2.4h-2.4zM1411.2 1233.6h2.4v2.4h-2.4zM1401.6 1236.0h2.4v2.4h-2.4zM1404.0 1236.0h2.4v2.4h-2.4zM1406.4 1236.0h2.4v2.4h-2.4zM1411.2 1236.0h2.4v2.4h-2.4zM1411.2 1238.4h2.4v2.4h-2.4zM1413.6 1238.4h2.4v2.4h-2.4zM1425.6 1238.4h2.4v2.4h-2.4zM1406.4 1240.8h2.4v2.4h-2.4zM1420.8 1240.8h2.4v2.4h-2.4zM1423.2 1240.8h2.4v2.4h-2.4zM1416.0 1243.2h2.4v2.4h-2.4zM1418.4 1243.2h2.4v2.4h-2.4zM1401.6 1245.6h2.4v2.4h-2.4zM1413.6 1245.6h2.4v2.4h-2.4zM1413.6 1248.0h2.4v2.4h-2.4z" fill="#0060ff"/>
<path d="M1428.0 1188.0h2.4v2.4h-2.4zM1425.6 1190.4h2.4v2.4h-2.4zM1408.8 1192.8h2.4v2.4h-2.4zM1418.4 1192.8h2.4v2.4h-2.4zM1420.8 1192.8h2.4v2.4h-2.4zM1413.6 1195.2h2.4v2.4h-2.4zM1423.2 1195.2h2.4v2.4h-2.4zM1428.0 1195.2h2.4v2.4h-2.4zM1432.8 1195.2h2.4v2.4h-2.4zM1411.2 1197.6h2.4v2.4h-2.4zM1428.0 1197.6h2.4v2.4h-2.4zM1430.4 1197.6h2.4v2.4h-2.4zM1435.2 1197.6h2.4v2.4h-2.4zM1411.2 1200.0h2.4v2.4h-2.4zM1425.6 1200.0h2.4v2.4h-2.4zM1428.0 1200.0h2.4v2.4h-2.4zM1430.4 1200.0h2.4v2.4h-2.4zM1411.2 1202.4h2.4v2.4h-2.4zM1428.0 1202.4h2.4v2.4h-2.4zM1430.4 1202.4h2.4v2.4h-2.4zM1413.6 1204.8h2.4v2.4h-2.4zM1420.8 1204.8h2.4v2.4h-2.4zM1430.4 1204.8h2.4v2.4h-2.4zM1423.2 1207.2h2.4v2.4h-2.4zM1418.4 1212.0h2.4v2.4h-2.4zM1430.4 1212.0h2.4v2.4h-2.4zM1392.0 1216.8h2.4v2.4h-2.4zM1396.8 1216.8h2.4v2.4h-2.4zM1411.2 1216.8h2.4v2.4h-2.4zM1420.8 1216.8h2.4v2.4h-2.4zM1387.2 1219.2h2.4v2.4h-2.4zM1389.6 1219.2h2.4v2.4h-2.4zM1396.8 1219.2h2.4v2.4h-2.4zM1387.2 1221.6h2.4v2.4h-2.4zM1389.6 1221.6h2.4v2.4h-2.4zM1396.8 1221.6h2.4v2.4h-2.4zM1389.6 1224.0h2.4v2.4h-2.4zM1394.4 1224.0h2.4v2.4h-2.4zM1396.8 1224.0h2.4v2.4h-2.4zM1418.4 1224.0h2.4v2.4h-2.4zM1418.4 1226.4h2.4v2.4h-2.4zM1425.6 1226.4h2.4v2.4h-2.4zM1413.6 1228.8h2.4v2.4h-2.4zM1413.6 1231.2h2.4v2.4h-2.4zM1396.8 1233.6h2.4v2.4h-2.4zM1413.6 1233.6h2.4v2.4h-2.4zM1408.8 1236.0h2.4v2.4h-2.4zM1413.6 1236.0h2.4v2.4h-2.4zM1416.0 1236.0h2.4v2.4h-2.4zM1408.8 1238.4h2.4v2.4h-2.4zM1404.0 1240.8h2.4v2.4h-2.4zM1416.0 1240.8h2.4v2.4h-2.4zM1418.4 1240.8h2.4v2.4h-2.4zM1411.2 1243.2h2.4v2.4h-2.4zM1411.2 1248.0h2.4v2.4h-2.4z" fill="#00b0ff"/>
<path d="M1423.2 1190.4h2.4v2.4h-2.4zM1425.6 1192.8h2.4v2.4h-2.4zM1418.4 1195.2h2.4v2.4h-2.4zM1420.8 1195.2h2.4v2.4h-2.4zM1420.8 1200.0h2.4v2.4h-2.4zM1425.6 1209.6h2.4v2.4h-2.4zM1392.0 1221.6h2.4v2.4h-2.4zM1420.8 1226.4h2.4v2.4h-2.4zM1416.0 1228.8h2.4v2.4h-2.4zM1416.0 1231.2h2.4v2.4h-2.4zM1425.6 1231.2h2.4v2.4h-2.4zM1416.0 1233.6h2.4v2.4h-2.4zM1425.6 1236.0h2.4v2.4h-2.4zM1416.0 1238.4h2.4v2.4h-2.4zM1418.4 1238.4h2.4v2.4h-2.4zM1423.2 1238.4h2.4v2.4h-2.4zM1411.2 1240.8h2.4v2.4h-2.4zM1404.0 1243.2h2.4v2.4h-2.4zM1408.8 1243.2h2.4v2.4h-2.4zM1411.2 1245.6h2.4v2.4h-2.4zM1401.6 1248.0h2.4v2.4h-2.4zM1404.0 1250.4h2.4v2.4h-2.4z" fill="#00f0ff"/>
<path d="M1418.4 1228.8h2.4v2.4h-2.4zM1420.8 1228.8h2.4v2.4h-2.4zM1423.2 1228.8h2.4v2.4h-2.4zM1425.6 1233.6h2.4v2.4h-2.4zM1406.4 1243.2h2.4v2.4h-2.4zM1404.0 1245.6h2.4v2.4h-2.4zM1406.4 1250.4h2.4v2.4h-2.4zM1408.8 1250.4h2.4v2.4h-2.4z" fill="#00ff90"/>
<path d="M1418.4 1233.6h2.4v2.4h-2.4zM1418.4 1236.0h2.4v2.4h-2.4zM1420.8 1236.0h2.4v2.4h-2.4zM1420.8 1238.4h2.4v2.4h-2.4z" fill="#20ff20"/>
<path d="M1418.4 1231.2h2.4v2.4h-2.4zM1423.2 1231.2h2.4v2.4h-2.4zM1423.2 1236.0h2.4v2.4h-2.4zM1406.4 1245.6h2.4v2.4h-2.4zM1408.8 1245.6h2.4v2.4h-2.4zM1404.0 1248.0h2.4v2.4h-2.4zM1408.8 1248.0h2.4v2.4h-2.4z" fill="#c0ff00"/>
<path d="M1420.8 1231.2h2.4v2.4h-2.4zM1420.8 1233.6h2.4v2.4h-2.4zM1423.2 1233.6h2.4v2.4h-2.4z" fill="#ffd000"/>
</g>
<rect x="1345.8" y="1152.8" width="135.9" height="135.9" fill="none" stroke="#000" stroke-width="1.9"/>
<g clip-path="url(#c32)">
<g filter="url(#well)">
<rect x="1480.4" y="1143.9" width="153.3" height="153.7" fill="#505050"/>
<circle cx="1488.4" cy="1151.9" r="20.6" fill="#303030"/>
<line x1="1488.4" y1="1171.1" x2="1507.6" y2="1151.9" stroke="#8a8a8a" stroke-width="2.5"/>
<circle cx="1625.7" cy="1151.9" r="20.6" fill="#303030"/>
<line x1="1625.7" y1="1171.1" x2="1606.5" y2="1151.9" stroke="#8a8a8a" stroke-width="2.5"/>
<circle cx="1488.4" cy="1289.6" r="20.6" fill="#303030"/>
<line x1="1488.4" y1="1270.4" x2="1507.6" y2="1289.6" stroke="#8a8a8a" stroke-width="2.5"/>
<circle cx="1625.7" cy="1289.6" r="20.6" fill="#303030"/>
<line x1="1625.7" y1="1270.4" x2="1606.5" y2="1289.6" stroke="#8a8a8a" stroke-width="2.5"/>
<circle cx="1557.1" cy="1220.8" r="68.6" fill="#5e5e5e"/>
<circle cx="1557.1" cy="1220.8" r="67.1" fill="none" stroke="#959595" stroke-width="2.2"/>
<circle cx="1557.1" cy="1220.8" r="61.8" fill="none" stroke="#707070" stroke-width="3"/>
<circle cx="1557.1" cy="1220.8" r="54.9" fill="#444444"/>
<circle cx="1557.1" cy="1220.8" r="53.5" fill="none" stroke="#626262" stroke-width="2.5"/>
<ellipse cx="1569.1" cy="1186.5" rx="6.2" ry="15.4" fill="#a8a8a8" transform="rotate(-10 1569.1 1186.5)"/>
<ellipse cx="1579.9" cy="1183.4" rx="10.8" ry="7.7" fill="#a8a8a8" transform="rotate(20 1579.9 1183.4)"/>
<g filter="url(#b1)">
<path d="M1529.1 1206.5C1529.1 1202.4 1529.9 1196.0 1532.2 1192.7C1534.5 1189.3 1539.1 1187.7 1543.0 1186.5C1546.8 1185.4 1551.9 1185.0 1555.3 1185.7C1558.6 1186.5 1561.7 1187.7 1563.0 1191.1C1564.2 1194.6 1563.2 1201.9 1563.0 1206.5C1562.7 1211.1 1563.2 1216.5 1561.4 1218.8C1559.6 1221.1 1555.8 1220.1 1552.2 1220.3C1548.6 1220.6 1543.2 1220.9 1539.9 1220.3C1536.6 1219.8 1534.0 1219.6 1532.2 1217.3C1530.4 1215.0 1529.1 1210.6 1529.1 1206.5Z" fill="#f4f4f4"/>
<path d="M1569.1 1191.1C1570.4 1188.3 1574.0 1186.8 1576.8 1186.5C1579.6 1186.3 1583.5 1186.8 1586.0 1189.6C1588.6 1192.4 1591.4 1198.6 1592.2 1203.4C1592.9 1208.3 1592.2 1214.2 1590.6 1218.8C1589.1 1223.4 1586.3 1228.0 1583.0 1231.1C1579.6 1234.2 1573.5 1237.8 1570.7 1237.3C1567.8 1236.7 1566.6 1231.9 1566.0 1228.0C1565.5 1224.2 1567.1 1218.3 1567.6 1214.2C1568.1 1210.1 1568.9 1207.3 1569.1 1203.4C1569.4 1199.6 1567.8 1193.9 1569.1 1191.1Z" fill="#f4f4f4"/>
</g>
<ellipse cx="1509.1" cy="1199.6" rx="3.8" ry="3.0" fill="#fff" transform="rotate(-30 1509.1 1199.6)"/>
<ellipse cx="1608.3" cy="1201.9" rx="4.2" ry="3.4" fill="#fff" transform="rotate(-30 1608.3 1201.9)"/>
<ellipse cx="1524.5" cy="1254.9" rx="3.8" ry="3.0" fill="#fff" transform="rotate(-30 1524.5 1254.9)"/>
<ellipse cx="1576.0" cy="1265.7" rx="4.0" ry="3.2" fill="#fff" transform="rotate(-30 1576.0 1265.7)"/>
<ellipse cx="1526.1" cy="1211.9" rx="3.0" ry="2.4" fill="#fff" transform="rotate(-30 1526.1 1211.9)"/>
<ellipse cx="1501.5" cy="1272.6" rx="3.8" ry="3.0" fill="#fff" transform="rotate(-30 1501.5 1272.6)"/>
</g>
<path d="M1545.6 1185.6h2.4v2.4h-2.4zM1552.8 1185.6h2.4v2.4h-2.4zM1579.2 1185.6h2.4v2.4h-2.4zM1536.0 1188.0h2.4v2.4h-2.4zM1538.4 1188.0h2.4v2.4h-2.4zM1576.8 1188.0h2.4v2.4h-2.4zM1533.6 1190.4h2.4v2.4h-2.4zM1531.2 1192.8h2.4v2.4h-2.4zM1538.4 1195.2h2.4v2.4h-2.4zM1533.6 1197.6h2.4v2.4h-2.4zM1528.8 1200.0h2.4v2.4h-2.4zM1528.8 1202.4h2.4v2.4h-2.4zM1528.8 1204.8h2.4v2.4h-2.4zM1528.8 1207.2h2.4v2.4h-2.4zM1576.8 1207.2h2.4v2.4h-2.4zM1579.2 1207.2h2.4v2.4h-2.4zM1545.6 1209.6h2.4v2.4h-2.4zM1560.0 1212.0h2.4v2.4h-2.4zM1567.2 1212.0h2.4v2.4h-2.4zM1584.0 1212.0h2.4v2.4h-2.4zM1548.0 1214.4h2.4v2.4h-2.4zM1560.0 1214.4h2.4v2.4h-2.4zM1545.6 1216.8h2.4v2.4h-2.4zM1552.8 1216.8h2.4v2.4h-2.4zM1560.0 1216.8h2.4v2.4h-2.4zM1584.0 1216.8h2.4v2.4h-2.4zM1567.2 1219.2h2.4v2.4h-2.4zM1584.0 1219.2h2.4v2.4h-2.4zM1586.4 1221.6h2.4v2.4h-2.4zM1564.8 1224.0h2.4v2.4h-2.4zM1579.2 1224.0h2.4v2.4h-2.4zM1569.6 1236.0h2.4v2.4h-2.4z" fill="#7a00ff"/>
<path d="M1548.0 1185.6h2.4v2.4h-2.4zM1555.2 1185.6h2.4v2.4h-2.4zM1574.4 1185.6h2.4v2.4h-2.4zM1572.0 1188.0h2.4v2.4h-2.4zM1581.6 1188.0h2.4v2.4h-2.4zM1584.0 1188.0h2.4v2.4h-2.4zM1536.0 1190.4h2.4v2.4h-2.4zM1538.4 1190.4h2.4v2.4h-2.4zM1545.6 1190.4h2.4v2.4h-2.4zM1550.4 1190.4h2.4v2.4h-2.4zM1533.6 1192.8h2.4v2.4h-2.4zM1536.0 1192.8h2.4v2.4h-2.4zM1538.4 1192.8h2.4v2.4h-2.4zM1540.8 1192.8h2.4v2.4h-2.4zM1543.2 1192.8h2.4v2.4h-2.4zM1576.8 1192.8h2.4v2.4h-2.4zM1579.2 1192.8h2.4v2.4h-2.4zM1536.0 1195.2h2.4v2.4h-2.4zM1543.2 1195.2h2.4v2.4h-2.4zM1545.6 1195.2h2.4v2.4h-2.4zM1548.0 1195.2h2.4v2.4h-2.4zM1574.4 1195.2h2.4v2.4h-2.4zM1588.8 1195.2h2.4v2.4h-2.4zM1528.8 1197.6h2.4v2.4h-2.4zM1531.2 1197.6h2.4v2.4h-2.4zM1536.0 1197.6h2.4v2.4h-2.4zM1540.8 1197.6h2.4v2.4h-2.4zM1543.2 1197.6h2.4v2.4h-2.4zM1576.8 1197.6h2.4v2.4h-2.4zM1579.2 1197.6h2.4v2.4h-2.4zM1536.0 1200.0h2.4v2.4h-2.4zM1543.2 1200.0h2.4v2.4h-2.4zM1545.6 1200.0h2.4v2.4h-2.4zM1550.4 1200.0h2.4v2.4h-2.4zM1533.6 1202.4h2.4v2.4h-2.4zM1536.0 1202.4h2.4v2.4h-2.4zM1538.4 1202.4h2.4v2.4h-2.4zM1540.8 1202.4h2.4v2.4h-2.4zM1545.6 1202.4h2.4v2.4h-2.4zM1531.2 1204.8h2.4v2.4h-2.4zM1538.4 1204.8h2.4v2.4h-2.4zM1540.8 1204.8h2.4v2.4h-2.4zM1543.2 1204.8h2.4v2.4h-2.4zM1545.6 1204.8h2.4v2.4h-2.4zM1531.2 1207.2h2.4v2.4h-2.4zM1533.6 1207.2h2.4v2.4h-2.4zM1536.0 1207.2h2.4v2.4h-2.4zM1543.2 1207.2h2.4v2.4h-2.4zM1584.0 1207.2h2.4v2.4h-2.4zM1586.4 1207.2h2.4v2.4h-2.4zM1588.8 1207.2h2.4v2.4h-2.4zM1536.0 1209.6h2.4v2.4h-2.4zM1538.4 1209.6h2.4v2.4h-2.4zM1540.8 1209.6h2.4v2.4h-2.4zM1548.0 1209.6h2.4v2.4h-2.4zM1569.6 1209.6h2.4v2.4h-2.4zM1588.8 1209.6h2.4v2.4h-2.4zM1538.4 1212.0h2.4v2.4h-2.4zM1548.0 1212.0h2.4v2.4h-2.4zM1574.4 1212.0h2.4v2.4h-2.4zM1579.2 1212.0h2.4v2.4h-2.4zM1581.6 1212.0h2.4v2.4h-2.4zM1588.8 1212.0h2.4v2.4h-2.4zM1531.2 1214.4h2.4v2.4h-2.4zM1538.4 1214.4h2.4v2.4h-2.4zM1540.8 1214.4h2.4v2.4h-2.4zM1543.2 1214.4h2.4v2.4h-2.4zM1550.4 1214.4h2.4v2.4h-2.4zM1567.2 1214.4h2.4v2.4h-2.4zM1576.8 1214.4h2.4v2.4h-2.4zM1579.2 1214.4h2.4v2.4h-2.4zM1581.6 1214.4h2.4v2.4h-2.4zM1588.8 1214.4h2.4v2.4h-2.4zM1536.0 1216.8h2.4v2.4h-2.4zM1557.6 1216.8h2.4v2.4h-2.4zM1567.2 1216.8h2.4v2.4h-2.4zM1569.6 1216.8h2.4v2.4h-2.4zM1586.4 1216.8h2.4v2.4h-2.4zM1588.8 1216.8h2.4v2.4h-2.4zM1579.2 1219.2h2.4v2.4h-2.4zM1581.6 1219.2h2.4v2.4h-2.4zM1567.2 1221.6h2.4v2.4h-2.4zM1581.6 1221.6h2.4v2.4h-2.4zM1567.2 1224.0h2.4v2.4h-2.4zM1581.6 1224.0h2.4v2.4h-2.4zM1567.2 1233.6h2.4v2.4h-2.4z" fill="#3a00ff"/>
<path d="M1550.4 1185.6h2.4v2.4h-2.4zM1540.8 1188.0h2.4v2.4h-2.4zM1543.2 1188.0h2.4v2.4h-2.4zM1548.0 1188.0h2.4v2.4h-2.4zM1550.4 1188.0h2.4v2.4h-2.4zM1557.6 1188.0h2.4v2.4h-2.4zM1560.0 1188.0h2.4v2.4h-2.4zM1574.4 1188.0h2.4v2.4h-2.4zM1579.2 1188.0h2.4v2.4h-2.4zM1540.8 1190.4h2.4v2.4h-2.4zM1543.2 1190.4h2.4v2.4h-2.4zM1548.0 1190.4h2.4v2.4h-2.4zM1579.2 1190.4h2.4v2.4h-2.4zM1581.6 1190.4h2.4v2.4h-2.4zM1548.0 1192.8h2.4v2.4h-2.4zM1569.6 1192.8h2.4v2.4h-2.4zM1574.4 1192.8h2.4v2.4h-2.4zM1586.4 1192.8h2.4v2.4h-2.4zM1531.2 1195.2h2.4v2.4h-2.4zM1533.6 1195.2h2.4v2.4h-2.4zM1540.8 1195.2h2.4v2.4h-2.4zM1550.4 1195.2h2.4v2.4h-2.4zM1569.6 1195.2h2.4v2.4h-2.4zM1572.0 1195.2h2.4v2.4h-2.4zM1576.8 1195.2h2.4v2.4h-2.4zM1548.0 1197.6h2.4v2.4h-2.4zM1531.2 1200.0h2.4v2.4h-2.4zM1533.6 1200.0h2.4v2.4h-2.4zM1552.8 1200.0h2.4v2.4h-2.4zM1560.0 1200.0h2.4v2.4h-2.4zM1586.4 1200.0h2.4v2.4h-2.4zM1531.2 1202.4h2.4v2.4h-2.4zM1543.2 1202.4h2.4v2.4h-2.4zM1548.0 1202.4h2.4v2.4h-2.4zM1576.8 1202.4h2.4v2.4h-2.4zM1579.2 1202.4h2.4v2.4h-2.4zM1581.6 1202.4h2.4v2.4h-2.4zM1584.0 1202.4h2.4v2.4h-2.4zM1588.8 1202.4h2.4v2.4h-2.4zM1533.6 1204.8h2.4v2.4h-2.4zM1548.0 1204.8h2.4v2.4h-2.4zM1552.8 1204.8h2.4v2.4h-2.4zM1572.0 1204.8h2.4v2.4h-2.4zM1574.4 1204.8h2.4v2.4h-2.4zM1576.8 1204.8h2.4v2.4h-2.4zM1584.0 1204.8h2.4v2.4h-2.4zM1588.8 1204.8h2.4v2.4h-2.4zM1540.8 1207.2h2.4v2.4h-2.4zM1545.6 1207.2h2.4v2.4h-2.4zM1548.0 1207.2h2.4v2.4h-2.4zM1550.4 1207.2h2.4v2.4h-2.4zM1560.0 1207.2h2.4v2.4h-2.4zM1574.4 1207.2h2.4v2.4h-2.4zM1581.6 1207.2h2.4v2.4h-2.4zM1531.2 1209.6h2.4v2.4h-2.4zM1543.2 1209.6h2.4v2.4h-2.4zM1552.8 1209.6h2.4v2.4h-2.4zM1555.2 1209.6h2.4v2.4h-2.4zM1560.0 1209.6h2.4v2.4h-2.4zM1567.2 1209.6h2.4v2.4h-2.4zM1572.0 1209.6h2.4v2.4h-2.4zM1574.4 1209.6h2.4v2.4h-2.4zM1576.8 1209.6h2.4v2.4h-2.4zM1579.2 1209.6h2.4v2.4h-2.4zM1581.6 1209.6h2.4v2.4h-2.4zM1584.0 1209.6h2.4v2.4h-2.4zM1536.0 1212.0h2.4v2.4h-2.4zM1543.2 1212.0h2.4v2.4h-2.4zM1545.6 1212.0h2.4v2.4h-2.4zM1550.4 1212.0h2.4v2.4h-2.4zM1552.8 1212.0h2.4v2.4h-2.4zM1569.6 1212.0h2.4v2.4h-2.4zM1572.0 1212.0h2.4v2.4h-2.4zM1576.8 1212.0h2.4v2.4h-2.4zM1586.4 1212.0h2.4v2.4h-2.4zM1533.6 1214.4h2.4v2.4h-2.4zM1555.2 1214.4h2.4v2.4h-2.4zM1569.6 1214.4h2.4v2.4h-2.4zM1572.0 1214.4h2.4v2.4h-2.4zM1584.0 1214.4h2.4v2.4h-2.4zM1586.4 1214.4h2.4v2.4h-2.4zM1533.6 1216.8h2.4v2.4h-2.4zM1538.4 1216.8h2.4v2.4h-2.4zM1540.8 1216.8h2.4v2.4h-2.4zM1543.2 1216.8h2.4v2.4h-2.4zM1548.0 1216.8h2.4v2.4h-2.4zM1555.2 1216.8h2.4v2.4h-2.4zM1572.0 1216.8h2.4v2.4h-2.4zM1576.8 1216.8h2.4v2.4h-2.4zM1579.2 1216.8h2.4v2.4h-2.4zM1581.6 1216.8h2.4v2.4h-2.4zM1569.6 1219.2h2.4v2.4h-2.4zM1572.0 1219.2h2.4v2.4h-2.4zM1574.4 1219.2h2.4v2.4h-2.4zM1576.8 1219.2h2.4v2.4h-2.4zM1586.4 1219.2h2.4v2.4h-2.4zM1588.8 1219.2h2.4v2.4h-2.4zM1569.6 1221.6h2.4v2.4h-2.4zM1572.0 1221.6h2.4v2.4h-2.4zM1574.4 1221.6h2.4v2.4h-2.4zM1576.8 1221.6h2.4v2.4h-2.4zM1579.2 1221.6h2.4v2.4h-2.4zM1584.0 1221.6h2.4v2.4h-2.4zM1569.6 1224.0h2.4v2.4h-2.4zM1567.2 1226.4h2.4v2.4h-2.4zM1581.6 1226.4h2.4v2.4h-2.4zM1584.0 1226.4h2.4v2.4h-2.4zM1579.2 1228.8h2.4v2.4h-2.4zM1569.6 1233.6h2.4v2.4h-2.4z" fill="#0000ff"/>
<path d="M1552.8 1190.4h2.4v2.4h-2.4zM1555.2 1190.4h2.4v2.4h-2.4zM1560.0 1190.4h2.4v2.4h-2.4zM1574.4 1190.4h2.4v2.4h-2.4zM1584.0 1190.4h2.4v2.4h-2.4zM1545.6 1192.8h2.4v2.4h-2.4zM1550.4 1192.8h2.4v2.4h-2.4zM1572.0 1192.8h2.4v2.4h-2.4zM1581.6 1192.8h2.4v2.4h-2.4zM1584.0 1192.8h2.4v2.4h-2.4zM1552.8 1195.2h2.4v2.4h-2.4zM1579.2 1195.2h2.4v2.4h-2.4zM1581.6 1195.2h2.4v2.4h-2.4zM1550.4 1197.6h2.4v2.4h-2.4zM1572.0 1197.6h2.4v2.4h-2.4zM1581.6 1197.6h2.4v2.4h-2.4zM1586.4 1197.6h2.4v2.4h-2.4zM1548.0 1200.0h2.4v2.4h-2.4zM1572.0 1200.0h2.4v2.4h-2.4zM1574.4 1200.0h2.4v2.4h-2.4zM1584.0 1200.0h2.4v2.4h-2.4zM1550.4 1202.4h2.4v2.4h-2.4zM1555.2 1202.4h2.4v2.4h-2.4zM1569.6 1202.4h2.4v2.4h-2.4zM1572.0 1202.4h2.4v2.4h-2.4zM1574.4 1202.4h2.4v2.4h-2.4zM1586.4 1202.4h2.4v2.4h-2.4zM1555.2 1204.8h2.4v2.4h-2.4zM1557.6 1204.8h2.4v2.4h-2.4zM1560.0 1204.8h2.4v2.4h-2.4zM1579.2 1204.8h2.4v2.4h-2.4zM1581.6 1204.8h2.4v2.4h-2.4zM1586.4 1204.8h2.4v2.4h-2.4zM1552.8 1207.2h2.4v2.4h-2.4zM1555.2 1207.2h2.4v2.4h-2.4zM1557.6 1207.2h2.4v2.4h-2.4zM1569.6 1207.2h2.4v2.4h-2.4zM1550.4 1209.6h2.4v2.4h-2.4zM1557.6 1209.6h2.4v2.4h-2.4zM1533.6 1212.0h2.4v2.4h-2.4zM1557.6 1212.0h2.4v2.4h-2.4zM1536.0 1214.4h2.4v2.4h-2.4zM1545.6 1214.4h2.4v2.4h-2.4zM1557.6 1214.4h2.4v2.4h-2.4zM1574.4 1214.4h2.4v2.4h-2.4zM1576.8 1224.0h2.4v2.4h-2.4zM1572.0 1226.4h2.4v2.4h-2.4zM1576.8 1226.4h2.4v2.4h-2.4zM1579.2 1226.4h2.4v2.4h-2.4zM1572.0 1228.8h2.4v2.4h-2.4zM1569.6 1231.2h2.4v2.4h-2.4z" fill="#0060ff"/>
<path d="M1555.2 1188.0h2.4v2.4h-2.4zM1557.6 1190.4h2.4v2.4h-2.4zM1552.8 1192.8h2.4v2.4h-2.4zM1557.6 1192.8h2.4v2.4h-2.4zM1555.2 1195.2h2.4v2.4h-2.4zM1552.8 1197.6h2.4v2.4h-2.4zM1557.6 1197.6h2.4v2.4h-2.4zM1569.6 1197.6h2.4v2.4h-2.4zM1584.0 1197.6h2.4v2.4h-2.4zM1555.2 1200.0h2.4v2.4h-2.4zM1557.6 1200.0h2.4v2.4h-2.4zM1560.0 1202.4h2.4v2.4h-2.4zM1569.6 1204.8h2.4v2.4h-2.4zM1572.0 1224.0h2.4v2.4h-2.4zM1569.6 1228.8h2.4v2.4h-2.4zM1574.4 1228.8h2.4v2.4h-2.4zM1576.8 1228.8h2.4v2.4h-2.4zM1574.4 1231.2h2.4v2.4h-2.4z" fill="#00b0ff"/>
<path d="M1557.6 1195.2h2.4v2.4h-2.4z" fill="#00f0ff"/>
<path d="M1542.3 1267.4h2.8v2.8h-2.8z" fill="#0000ff"/>
<path d="M1541.6 1268.5h2.8v2.8h-2.8z" fill="#20ff20"/>
<path d="M1540.8 1266.6h2.8v2.8h-2.8z" fill="#ff0000"/>
</g>
<rect x="1489.3" y="1152.8" width="135.5" height="135.9" fill="none" stroke="#000" stroke-width="1.9"/>
<g clip-path="url(#c33)"><g filter="url(#blot)">
<rect x="103.1" y="192.0" width="288.3" height="105.6" fill="#dedede"/>
<g filter="url(#bb)">
<rect x="103.1" y="192.0" width="288.3" height="105.6" fill="#dedede" opacity="0"/>
<path d="M123.7 255.0C129.0 254.9 144.1 254.7 155.4 254.7C166.6 254.7 185.4 255.1 191.4 255.2" stroke="#303030" stroke-width="8.2" fill="none" stroke-linecap="round" opacity="0.95"/>
<path d="M210.7 253.6C216.0 253.1 232.3 252.2 242.3 250.9C252.3 249.6 266.1 246.5 270.8 245.7" stroke="#b0b0b0" stroke-width="5.4" fill="none" stroke-linecap="round" opacity="0.5"/>
<ellipse cx="264.5" cy="246.1" rx="8.7" ry="3.5" fill="#909090" opacity="0.6"/>
<path d="M289.8 241.6C296.9 241.4 318.0 240.9 332.5 240.9C347.0 240.9 369.4 241.4 376.8 241.6" stroke="#9c9c9c" stroke-width="6.0" fill="none" stroke-linecap="round" opacity="0.75"/>
</g></g></g>
<rect x="112.1" y="201.1" width="270.2" height="87.5" fill="none" stroke="#000" stroke-width="2.1"/>
<g clip-path="url(#c34)"><g filter="url(#blot)">
<rect x="103.1" y="290.8" width="288.3" height="105.7" fill="#dedede"/>
<g filter="url(#bb)">
<rect x="103.1" y="290.8" width="288.3" height="105.7" fill="#dedede" opacity="0"/>
<path d="M115.0 345.8C114.5 342.7 116.5 339.7 120.6 337.9C124.6 336.0 132.4 335.5 139.5 334.7C146.7 333.9 154.0 333.6 163.3 333.1C172.5 332.7 187.5 331.9 194.9 332.0C202.3 332.1 202.8 333.0 207.5 333.6C212.3 334.2 217.6 334.9 223.4 335.5C229.2 336.1 236.5 337.2 242.3 337.1C248.1 336.9 253.9 335.4 258.1 334.7C262.4 334.0 264.2 333.0 267.6 332.8C271.1 332.6 275.0 333.3 278.7 333.6C282.4 333.9 284.0 334.1 289.8 334.7C295.6 335.3 305.6 336.2 313.5 337.1C321.4 338.0 329.3 339.2 337.2 340.2C345.1 341.3 353.0 342.5 360.9 343.4C368.8 344.3 380.7 343.6 384.7 345.8C388.6 347.9 387.3 354.3 384.7 356.4C382.0 358.4 376.8 358.2 368.8 357.9C360.9 357.7 347.8 355.8 337.2 354.8C326.7 353.7 314.0 352.4 305.6 351.6C297.2 350.8 291.9 349.4 286.6 350.0C281.3 350.6 278.7 353.6 274.0 355.3C269.2 356.9 263.4 358.9 258.1 360.0C252.9 361.1 248.1 362.4 242.3 362.1C236.5 361.7 229.2 359.1 223.4 357.9C217.6 356.8 214.9 355.3 207.5 355.3C200.2 355.3 189.1 357.2 179.1 357.9C169.1 358.7 156.7 360.3 147.4 360.0C138.2 359.7 129.1 358.4 123.7 356.1C118.3 353.7 115.6 348.8 115.0 345.8Z" fill="#161616" opacity="1"/>
</g></g></g>
<rect x="112.1" y="299.9" width="270.2" height="87.6" fill="none" stroke="#000" stroke-width="2.1"/>
<g clip-path="url(#c35)"><g filter="url(#blot)">
<rect x="1246.2" y="646.5" width="188.1" height="95.3" fill="#dedede"/>
<g filter="url(#bb)">
<rect x="1246.2" y="646.5" width="188.1" height="95.3" fill="#dedede" opacity="0"/>
<path d="M1268.7 701.2C1268.7 700.0 1271.2 698.1 1273.9 697.6C1276.5 697.1 1280.9 697.6 1284.7 698.1C1288.6 698.6 1293.7 700.1 1296.9 700.6C1300.1 701.1 1301.4 701.4 1303.7 701.1C1305.9 700.8 1307.8 699.1 1310.5 698.7C1313.2 698.2 1317.2 697.7 1319.9 698.4C1322.7 699.0 1326.9 701.2 1327.1 702.6C1327.4 704.0 1324.1 706.2 1321.3 706.8C1318.5 707.4 1313.4 706.7 1310.5 706.2C1307.5 705.8 1305.9 704.4 1303.7 704.1C1301.4 703.7 1300.1 703.9 1296.9 704.1C1293.7 704.3 1288.6 705.0 1284.7 705.2C1280.9 705.3 1276.5 705.8 1273.9 705.2C1271.2 704.5 1268.7 702.5 1268.7 701.2Z" fill="#1c1c1c" opacity="1"/>
<path d="M1346.4 704.6C1345.9 702.1 1347.2 699.2 1349.8 697.8C1352.4 696.5 1356.5 696.4 1362.0 696.5C1367.4 696.5 1376.0 698.2 1382.3 698.1C1388.6 698.0 1394.9 696.2 1399.9 695.8C1404.9 695.4 1408.9 694.6 1412.1 695.8C1415.2 697.1 1418.6 700.9 1418.9 703.3C1419.1 705.6 1416.6 709.1 1413.4 710.0C1410.3 711.0 1405.1 709.0 1399.9 709.0C1394.7 708.9 1388.6 709.4 1382.3 709.8C1376.0 710.2 1366.9 710.9 1362.0 711.4C1357.0 711.9 1355.1 713.9 1352.5 712.8C1349.9 711.6 1346.8 707.1 1346.4 704.6Z" fill="#181818" opacity="1"/>
</g></g></g>
<rect x="1255.2" y="655.5" width="170.0" height="77.2" fill="none" stroke="#000" stroke-width="2.1"/>
<g clip-path="url(#c36)"><g filter="url(#blot)">
<rect x="1246.2" y="730.5" width="188.1" height="94.9" fill="#dedede"/>
<g filter="url(#bb)">
<rect x="1246.2" y="730.5" width="188.1" height="94.9" fill="#dedede" opacity="0"/>
<path d="M1259.6 782.5C1259.6 780.2 1260.9 776.5 1264.4 775.1C1267.9 773.6 1275.7 773.8 1280.7 773.7C1285.6 773.7 1289.2 774.9 1294.2 774.8C1299.2 774.7 1305.5 773.0 1310.5 773.0C1315.4 773.1 1320.9 773.6 1324.0 775.1C1327.1 776.5 1329.2 779.5 1329.2 781.9C1329.2 784.2 1327.1 787.8 1324.0 789.3C1320.9 790.8 1315.4 790.9 1310.5 791.1C1305.5 791.2 1299.6 790.3 1294.2 790.3C1288.8 790.2 1282.9 790.9 1277.9 790.7C1273.0 790.4 1267.4 790.3 1264.4 788.9C1261.3 787.5 1259.6 784.8 1259.6 782.5Z" fill="#141414" opacity="1"/>
<path d="M1337.6 780.5C1337.3 777.8 1338.9 774.0 1343.0 772.4C1347.0 770.8 1354.3 771.3 1362.0 771.0C1369.6 770.7 1380.9 770.9 1389.1 770.7C1397.2 770.6 1405.5 770.0 1410.7 770.3C1415.9 770.7 1418.0 771.5 1420.2 773.0C1422.4 774.6 1424.2 777.6 1424.0 779.8C1423.8 782.1 1421.3 785.3 1418.9 786.6C1416.4 787.9 1415.5 787.3 1409.4 787.5C1403.3 787.8 1391.3 787.5 1382.3 788.0C1373.2 788.4 1361.5 790.1 1355.2 790.3C1348.9 790.4 1347.3 790.3 1344.3 788.6C1341.4 787.0 1337.8 783.2 1337.6 780.5Z" fill="#141414" opacity="1"/>
</g></g></g>
<rect x="1255.2" y="739.5" width="170.0" height="76.8" fill="none" stroke="#000" stroke-width="2.1"/>
<text x="0.00" y="33.80" font-size="47.2" text-anchor="start" fill="#000">A</text>
<text x="428.50" y="34.30" font-size="47.2" text-anchor="start" fill="#000">B</text>
<text x="883.00" y="34.30" font-size="47.2" text-anchor="start" fill="#000">C</text>
<text x="-3.50" y="532.00" font-size="47.2" text-anchor="start" fill="#000">D</text>
<text x="1123.00" y="531.40" font-size="47.2" text-anchor="start" fill="#000">E</text>
<text x="1558.50" y="531.40" font-size="47.2" text-anchor="start" fill="#000">F</text>
<text x="-1.50" y="971.60" font-size="47.2" text-anchor="start" fill="#000">G</text>
<text x="1160.50" y="971.60" font-size="47.2" text-anchor="start" fill="#000">H</text>
<text x="253.80" y="70.30" font-size="26" text-anchor="middle" fill="#000">MCF7</text>
<line x1="139.40" y1="99.90" x2="369.20" y2="99.90" stroke="#000" stroke-width="1.7" stroke-linecap="butt"/>
<text x="151.00" y="141.90" font-size="26" text-anchor="middle" fill="#000">Ctrl</text>
<text x="245.60" y="141.90" font-size="26" text-anchor="middle" fill="#000">DLL1</text>
<text x="245.60" y="172.80" font-size="26" text-anchor="middle" fill="#000">KD1</text>
<text x="340.00" y="141.90" font-size="26" text-anchor="middle" fill="#000">DLL1</text>
<text x="340.80" y="172.80" font-size="26" text-anchor="middle" fill="#000">KD2</text>
<text x="90.00" y="260.00" font-size="26" text-anchor="end" fill="#000">DLL1</text>
<text x="99.20" y="350.50" font-size="26" text-anchor="end" fill="#000">β-ACTIN</text>
<text x="1000.50" y="35.00" font-size="28" text-anchor="middle" fill="#000">Week-0</text>
<text x="1148.80" y="35.00" font-size="28" text-anchor="middle" fill="#000">Week-4</text>
<text x="1295.20" y="35.00" font-size="28" text-anchor="middle" fill="#000">Week-7</text>
<text x="1443.60" y="35.00" font-size="28" text-anchor="middle" fill="#000">Week-10</text>
<text x="908.60" y="108.60" font-size="28" text-anchor="middle" fill="#000" transform="rotate(-90 908.60 108.60)">Ctrl</text>
<text x="908.60" y="224.50" font-size="28" text-anchor="middle" fill="#000" transform="rotate(-90 908.60 224.50)">DLL1-KD1</text>
<text x="908.60" y="380.30" font-size="28" text-anchor="middle" fill="#000" transform="rotate(-90 908.60 380.30)">DLL1-KD2</text>
<text x="176.30" y="533.00" font-size="26" text-anchor="middle" fill="#000">Ctrl</text>
<text x="321.70" y="533.00" font-size="26" text-anchor="middle" fill="#000">DLL1-KD1</text>
<text x="467.20" y="533.00" font-size="26" text-anchor="middle" fill="#000">DLL1-KD2</text>
<text x="1289.70" y="640.70" font-size="26" text-anchor="middle" fill="#000">Ctrl</text>
<text x="1380.50" y="609.20" font-size="26" text-anchor="middle" fill="#000">DLL1</text>
<text x="1380.80" y="640.70" font-size="26" text-anchor="middle" fill="#000">OE</text>
<text x="1232.60" y="704.30" font-size="26" text-anchor="end" fill="#000">DLL1</text>
<text x="1233.60" y="791.50" font-size="26" text-anchor="end" fill="#000">β- ACTIN</text>
<text x="186.90" y="977.90" font-size="28" text-anchor="middle" fill="#000">Week-0</text>
<text x="344.80" y="977.90" font-size="28" text-anchor="middle" fill="#000">Week-4</text>
<text x="501.80" y="977.90" font-size="28" text-anchor="middle" fill="#000">Week-7</text>
<text x="657.20" y="977.90" font-size="28" text-anchor="middle" fill="#000">Week-10</text>
<text x="90.20" y="1070.70" font-size="28" text-anchor="middle" fill="#000" transform="rotate(-90 90.20 1070.70)">Ctrl</text>
<text x="90.20" y="1225.80" font-size="28" text-anchor="middle" fill="#000" transform="rotate(-90 90.20 1225.80)">DLL1-OE</text>
<text x="1187.50" y="1071.30" font-size="26" text-anchor="middle" fill="#000" transform="rotate(-90 1187.50 1071.30)">Ctrl</text>
<text x="1187.50" y="1219.90" font-size="26" text-anchor="middle" fill="#000" transform="rotate(-90 1187.50 1219.90)">DLL1-OE</text>
<line x1="520.60" y1="70.65" x2="520.60" y2="376.35" stroke="#000" stroke-width="1.7" stroke-linecap="butt"/>
<line x1="508.40" y1="375.50" x2="830.65" y2="375.50" stroke="#000" stroke-width="1.7" stroke-linecap="butt"/>
<line x1="508.40" y1="314.70" x2="520.60" y2="314.70" stroke="#000" stroke-width="1.7" stroke-linecap="butt"/>
<line x1="508.40" y1="253.90" x2="520.60" y2="253.90" stroke="#000" stroke-width="1.7" stroke-linecap="butt"/>
<line x1="508.40" y1="193.10" x2="520.60" y2="193.10" stroke="#000" stroke-width="1.7" stroke-linecap="butt"/>
<line x1="508.40" y1="132.30" x2="520.60" y2="132.30" stroke="#000" stroke-width="1.7" stroke-linecap="butt"/>
<line x1="508.40" y1="71.50" x2="520.60" y2="71.50" stroke="#000" stroke-width="1.7" stroke-linecap="butt"/>
<text x="499.40" y="384.90" font-size="26" text-anchor="end" fill="#000">0</text>
<text x="499.40" y="324.10" font-size="26" text-anchor="end" fill="#000">20</text>
<text x="499.40" y="263.30" font-size="26" text-anchor="end" fill="#000">40</text>
<text x="499.40" y="202.50" font-size="26" text-anchor="end" fill="#000">60</text>
<text x="499.40" y="141.70" font-size="26" text-anchor="end" fill="#000">80</text>
<text x="499.40" y="80.90" font-size="26" text-anchor="end" fill="#000">100</text>
<line x1="520.60" y1="375.50" x2="520.60" y2="387.10" stroke="#000" stroke-width="1.7" stroke-linecap="butt"/>
<line x1="551.50" y1="375.50" x2="551.50" y2="387.10" stroke="#000" stroke-width="1.7" stroke-linecap="butt"/>
<line x1="582.40" y1="375.50" x2="582.40" y2="387.10" stroke="#000" stroke-width="1.7" stroke-linecap="butt"/>
<line x1="613.30" y1="375.50" x2="613.30" y2="387.10" stroke="#000" stroke-width="1.7" stroke-linecap="butt"/>
<line x1="644.20" y1="375.50" x2="644.20" y2="387.10" stroke="#000" stroke-width="1.7" stroke-linecap="butt"/>
<line x1="675.10" y1="375.50" x2="675.10" y2="387.10" stroke="#000" stroke-width="1.7" stroke-linecap="butt"/>
<line x1="706.00" y1="375.50" x2="706.00" y2="387.10" stroke="#000" stroke-width="1.7" stroke-linecap="butt"/>
<line x1="736.90" y1="375.50" x2="736.90" y2="387.10" stroke="#000" stroke-width="1.7" stroke-linecap="butt"/>
<line x1="767.80" y1="375.50" x2="767.80" y2="387.10" stroke="#000" stroke-width="1.7" stroke-linecap="butt"/>
<line x1="798.70" y1="375.50" x2="798.70" y2="387.10" stroke="#000" stroke-width="1.7" stroke-linecap="butt"/>
<line x1="829.60" y1="375.50" x2="829.60" y2="387.10" stroke="#000" stroke-width="1.7" stroke-linecap="butt"/>
<text x="536.05" y="410.90" font-size="26" text-anchor="middle" fill="#000">1</text>
<text x="566.95" y="410.90" font-size="26" text-anchor="middle" fill="#000">2</text>
<text x="597.85" y="410.90" font-size="26" text-anchor="middle" fill="#000">3</text>
<text x="628.75" y="410.90" font-size="26" text-anchor="middle" fill="#000">4</text>
<text x="659.65" y="410.90" font-size="26" text-anchor="middle" fill="#000">5</text>
<text x="690.55" y="410.90" font-size="26" text-anchor="middle" fill="#000">6</text>
<text x="721.45" y="410.90" font-size="26" text-anchor="middle" fill="#000">7</text>
<text x="752.35" y="410.90" font-size="26" text-anchor="middle" fill="#000">8</text>
<text x="783.25" y="410.90" font-size="26" text-anchor="middle" fill="#000">9</text>
<text x="814.15" y="410.90" font-size="26" text-anchor="middle" fill="#000">10</text>
<text x="673.70" y="446.20" font-size="26" text-anchor="middle" fill="#000">Weeks</text>
<text x="452.70" y="222.00" font-size="26" text-anchor="middle" fill="#000" transform="rotate(-90 452.70 222.00)">Tumor volume (mm<tspan font-size="17" dy="-8.5">3</tspan><tspan dy="8.5">)</tspan></text>
<line x1="722.15" y1="347.50" x2="722.15" y2="361.00" stroke="#ff0000" stroke-width="1.9" stroke-linecap="butt"/>
<line x1="714.95" y1="347.50" x2="729.35" y2="347.50" stroke="#ff0000" stroke-width="1.9" stroke-linecap="butt"/>
<line x1="714.95" y1="361.00" x2="729.35" y2="361.00" stroke="#ff0000" stroke-width="1.9" stroke-linecap="butt"/>
<line x1="753.05" y1="311.20" x2="753.05" y2="344.10" stroke="#ff0000" stroke-width="1.9" stroke-linecap="butt"/>
<line x1="745.85" y1="311.20" x2="760.25" y2="311.20" stroke="#ff0000" stroke-width="1.9" stroke-linecap="butt"/>
<line x1="745.85" y1="344.10" x2="760.25" y2="344.10" stroke="#ff0000" stroke-width="1.9" stroke-linecap="butt"/>
<line x1="783.95" y1="210.70" x2="783.95" y2="301.70" stroke="#ff0000" stroke-width="1.9" stroke-linecap="butt"/>
<line x1="776.75" y1="210.70" x2="791.15" y2="210.70" stroke="#ff0000" stroke-width="1.9" stroke-linecap="butt"/>
<line x1="776.75" y1="301.70" x2="791.15" y2="301.70" stroke="#ff0000" stroke-width="1.9" stroke-linecap="butt"/>
<line x1="814.85" y1="97.80" x2="814.85" y2="181.00" stroke="#ff0000" stroke-width="1.9" stroke-linecap="butt"/>
<line x1="807.65" y1="97.80" x2="822.05" y2="97.80" stroke="#ff0000" stroke-width="1.9" stroke-linecap="butt"/>
<line x1="807.65" y1="181.00" x2="822.05" y2="181.00" stroke="#ff0000" stroke-width="1.9" stroke-linecap="butt"/>
<path d="M536.75 371.55L567.65 371.55L598.55 371.55L629.45 366.38L660.35 364.56L691.25 364.86L722.15 355.44L753.05 327.77L783.95 256.33L814.85 139.90" stroke="#ff0000" stroke-width="1.9" fill="none" stroke-linejoin="round"/>
<circle cx="536.75" cy="371.55" r="6.8" fill="#ff0000"/>
<circle cx="567.65" cy="371.55" r="6.8" fill="#ff0000"/>
<circle cx="598.55" cy="371.55" r="6.8" fill="#ff0000"/>
<circle cx="629.45" cy="366.38" r="6.8" fill="#ff0000"/>
<circle cx="660.35" cy="364.56" r="6.8" fill="#ff0000"/>
<circle cx="691.25" cy="364.86" r="6.8" fill="#ff0000"/>
<circle cx="722.15" cy="355.44" r="6.8" fill="#ff0000"/>
<circle cx="753.05" cy="327.77" r="6.8" fill="#ff0000"/>
<circle cx="783.95" cy="256.33" r="6.8" fill="#ff0000"/>
<circle cx="814.85" cy="139.90" r="6.8" fill="#ff0000"/>
<line x1="753.05" y1="365.00" x2="753.05" y2="375.00" stroke="#008000" stroke-width="1.9" stroke-linecap="butt"/>
<line x1="745.85" y1="365.00" x2="760.25" y2="365.00" stroke="#008000" stroke-width="1.9" stroke-linecap="butt"/>
<line x1="745.85" y1="375.00" x2="760.25" y2="375.00" stroke="#008000" stroke-width="1.9" stroke-linecap="butt"/>
<line x1="783.95" y1="360.00" x2="783.95" y2="374.00" stroke="#008000" stroke-width="1.9" stroke-linecap="butt"/>
<line x1="776.75" y1="360.00" x2="791.15" y2="360.00" stroke="#008000" stroke-width="1.9" stroke-linecap="butt"/>
<line x1="776.75" y1="374.00" x2="791.15" y2="374.00" stroke="#008000" stroke-width="1.9" stroke-linecap="butt"/>
<line x1="814.85" y1="312.50" x2="814.85" y2="374.30" stroke="#008000" stroke-width="1.9" stroke-linecap="butt"/>
<line x1="807.65" y1="312.50" x2="822.05" y2="312.50" stroke="#008000" stroke-width="1.9" stroke-linecap="butt"/>
<line x1="807.65" y1="374.30" x2="822.05" y2="374.30" stroke="#008000" stroke-width="1.9" stroke-linecap="butt"/>
<path d="M536.75 375.50L567.65 375.50L598.55 375.50L629.45 375.50L660.35 375.50L691.25 375.50L722.15 375.50L753.05 370.64L783.95 366.99L814.85 343.58" stroke="#008000" stroke-width="1.9" fill="none" stroke-linejoin="round"/>
<rect x="529.95" y="368.70" width="13.6" height="13.6" fill="#008000"/>
<rect x="560.85" y="368.70" width="13.6" height="13.6" fill="#008000"/>
<rect x="591.75" y="368.70" width="13.6" height="13.6" fill="#008000"/>
<rect x="622.65" y="368.70" width="13.6" height="13.6" fill="#008000"/>
<rect x="653.55" y="368.70" width="13.6" height="13.6" fill="#008000"/>
<rect x="684.45" y="368.70" width="13.6" height="13.6" fill="#008000"/>
<rect x="715.35" y="368.70" width="13.6" height="13.6" fill="#008000"/>
<rect x="746.25" y="363.84" width="13.6" height="13.6" fill="#008000"/>
<rect x="777.15" y="360.19" width="13.6" height="13.6" fill="#008000"/>
<rect x="808.05" y="336.78" width="13.6" height="13.6" fill="#008000"/>
<line x1="753.05" y1="345.00" x2="753.05" y2="370.30" stroke="#0000ff" stroke-width="1.9" stroke-linecap="butt"/>
<line x1="745.85" y1="345.00" x2="760.25" y2="345.00" stroke="#0000ff" stroke-width="1.9" stroke-linecap="butt"/>
<line x1="745.85" y1="370.30" x2="760.25" y2="370.30" stroke="#0000ff" stroke-width="1.9" stroke-linecap="butt"/>
<line x1="783.95" y1="323.50" x2="783.95" y2="356.70" stroke="#0000ff" stroke-width="1.9" stroke-linecap="butt"/>
<line x1="776.75" y1="323.50" x2="791.15" y2="323.50" stroke="#0000ff" stroke-width="1.9" stroke-linecap="butt"/>
<line x1="776.75" y1="356.70" x2="791.15" y2="356.70" stroke="#0000ff" stroke-width="1.9" stroke-linecap="butt"/>
<line x1="814.85" y1="307.10" x2="814.85" y2="335.50" stroke="#0000ff" stroke-width="1.9" stroke-linecap="butt"/>
<line x1="807.65" y1="307.10" x2="822.05" y2="307.10" stroke="#0000ff" stroke-width="1.9" stroke-linecap="butt"/>
<line x1="807.65" y1="335.50" x2="822.05" y2="335.50" stroke="#0000ff" stroke-width="1.9" stroke-linecap="butt"/>
<path d="M536.75 374.28L567.65 373.68L598.55 373.37L629.45 366.99L660.35 370.03L691.25 370.33L722.15 367.29L753.05 358.17L783.95 339.63L814.85 321.39" stroke="#0000ff" stroke-width="1.9" fill="none" stroke-linejoin="round"/>
<path d="M529.55 374.28L536.75 367.08L543.95 374.28L536.75 381.48Z" fill="#0000ff"/>
<path d="M560.45 373.68L567.65 366.48L574.85 373.68L567.65 380.88Z" fill="#0000ff"/>
<path d="M591.35 373.37L598.55 366.17L605.75 373.37L598.55 380.57Z" fill="#0000ff"/>
<path d="M622.25 366.99L629.45 359.79L636.65 366.99L629.45 374.19Z" fill="#0000ff"/>
<path d="M653.15 370.03L660.35 362.83L667.55 370.03L660.35 377.23Z" fill="#0000ff"/>
<path d="M684.05 370.33L691.25 363.13L698.45 370.33L691.25 377.53Z" fill="#0000ff"/>
<path d="M714.95 367.29L722.15 360.09L729.35 367.29L722.15 374.49Z" fill="#0000ff"/>
<path d="M745.85 358.17L753.05 350.97L760.25 358.17L753.05 365.37Z" fill="#0000ff"/>
<path d="M776.75 339.63L783.95 332.43L791.15 339.63L783.95 346.83Z" fill="#0000ff"/>
<path d="M807.65 321.39L814.85 314.19L822.05 321.39L814.85 328.59Z" fill="#0000ff"/>
<line x1="560.20" y1="88.90" x2="593.80" y2="88.90" stroke="#ff0000" stroke-width="1.9" stroke-linecap="butt"/>
<circle cx="577.00" cy="88.90" r="6.8" fill="#ff0000"/>
<text x="603.00" y="98.30" font-size="26" text-anchor="start" fill="#000">Ctrl</text>
<line x1="560.20" y1="123.80" x2="593.80" y2="123.80" stroke="#008000" stroke-width="1.9" stroke-linecap="butt"/>
<rect x="570.20" y="117.00" width="13.6" height="13.6" fill="#008000"/>
<text x="603.00" y="133.20" font-size="26" text-anchor="start" fill="#000">DLL1-KD1</text>
<line x1="560.20" y1="158.70" x2="593.80" y2="158.70" stroke="#0000ff" stroke-width="1.9" stroke-linecap="butt"/>
<path d="M569.80 158.70L577.00 151.50L584.20 158.70L577.00 165.90Z" fill="#0000ff"/>
<text x="603.00" y="168.10" font-size="26" text-anchor="start" fill="#000">DLL1-KD2</text>
<text transform="translate(814.10 83.40) scale(1 0.88)" font-size="32" font-weight="bold" text-anchor="middle">***</text>
<text transform="translate(779.20 203.90) scale(1 0.88)" font-size="32" font-weight="bold" text-anchor="middle">**</text>
<line x1="1686.00" y1="70.25" x2="1686.00" y2="375.15" stroke="#000" stroke-width="1.7" stroke-linecap="butt"/>
<line x1="1675.90" y1="374.30" x2="1950.45" y2="374.30" stroke="#000" stroke-width="1.7" stroke-linecap="butt"/>
<text x="1672.20" y="383.50" font-size="26" text-anchor="end" fill="#000">0.0</text>
<line x1="1675.90" y1="313.66" x2="1686.00" y2="313.66" stroke="#000" stroke-width="1.7" stroke-linecap="butt"/>
<text x="1672.20" y="322.86" font-size="26" text-anchor="end" fill="#000">5.0x10<tspan font-size="17" dy="-8.5">08</tspan></text>
<line x1="1675.90" y1="253.02" x2="1686.00" y2="253.02" stroke="#000" stroke-width="1.7" stroke-linecap="butt"/>
<text x="1672.20" y="262.22" font-size="26" text-anchor="end" fill="#000">1.0x10<tspan font-size="17" dy="-8.5">09</tspan></text>
<line x1="1675.90" y1="192.38" x2="1686.00" y2="192.38" stroke="#000" stroke-width="1.7" stroke-linecap="butt"/>
<text x="1672.20" y="201.58" font-size="26" text-anchor="end" fill="#000">1.5x10<tspan font-size="17" dy="-8.5">09</tspan></text>
<line x1="1675.90" y1="131.74" x2="1686.00" y2="131.74" stroke="#000" stroke-width="1.7" stroke-linecap="butt"/>
<text x="1672.20" y="140.94" font-size="26" text-anchor="end" fill="#000">2.0x10<tspan font-size="17" dy="-8.5">09</tspan></text>
<line x1="1675.90" y1="71.10" x2="1686.00" y2="71.10" stroke="#000" stroke-width="1.7" stroke-linecap="butt"/>
<text x="1672.20" y="80.30" font-size="26" text-anchor="end" fill="#000">2.5x10<tspan font-size="17" dy="-8.5">09</tspan></text>
<line x1="1686.00" y1="374.30" x2="1686.00" y2="386.20" stroke="#000" stroke-width="1.7" stroke-linecap="butt"/>
<line x1="1730.00" y1="374.30" x2="1730.00" y2="386.20" stroke="#000" stroke-width="1.7" stroke-linecap="butt"/>
<line x1="1774.00" y1="374.30" x2="1774.00" y2="386.20" stroke="#000" stroke-width="1.7" stroke-linecap="butt"/>
<line x1="1818.00" y1="374.30" x2="1818.00" y2="386.20" stroke="#000" stroke-width="1.7" stroke-linecap="butt"/>
<line x1="1862.00" y1="374.30" x2="1862.00" y2="386.20" stroke="#000" stroke-width="1.7" stroke-linecap="butt"/>
<line x1="1906.00" y1="374.30" x2="1906.00" y2="386.20" stroke="#000" stroke-width="1.7" stroke-linecap="butt"/>
<line x1="1950.00" y1="374.30" x2="1950.00" y2="386.20" stroke="#000" stroke-width="1.7" stroke-linecap="butt"/>
<text x="1708.00" y="408.80" font-size="26" text-anchor="middle" fill="#000">0</text>
<text x="1752.00" y="408.80" font-size="26" text-anchor="middle" fill="#000">2</text>
<text x="1796.00" y="408.80" font-size="26" text-anchor="middle" fill="#000">4</text>
<text x="1840.00" y="408.80" font-size="26" text-anchor="middle" fill="#000">6</text>
<text x="1884.00" y="408.80" font-size="26" text-anchor="middle" fill="#000">8</text>
<text x="1928.00" y="408.80" font-size="26" text-anchor="middle" fill="#000">10</text>
<text x="1826.60" y="441.70" font-size="26" text-anchor="middle" fill="#000">Weeks</text>
<text x="1561.00" y="213.90" font-size="26" text-anchor="middle" fill="#000" transform="rotate(-90 1561.00 213.90)">Total Flux [p/s]</text>
<line x1="1884.00" y1="267.50" x2="1884.00" y2="301.40" stroke="#ff0000" stroke-width="1.9" stroke-linecap="butt"/>
<line x1="1876.80" y1="267.50" x2="1891.20" y2="267.50" stroke="#ff0000" stroke-width="1.9" stroke-linecap="butt"/>
<line x1="1876.80" y1="301.40" x2="1891.20" y2="301.40" stroke="#ff0000" stroke-width="1.9" stroke-linecap="butt"/>
<line x1="1928.00" y1="112.60" x2="1928.00" y2="174.60" stroke="#ff0000" stroke-width="1.9" stroke-linecap="butt"/>
<line x1="1920.80" y1="112.60" x2="1935.20" y2="112.60" stroke="#ff0000" stroke-width="1.9" stroke-linecap="butt"/>
<line x1="1920.80" y1="174.60" x2="1935.20" y2="174.60" stroke="#ff0000" stroke-width="1.9" stroke-linecap="butt"/>
<path d="M1708.00 374.00L1752.00 361.40L1796.00 368.00L1840.00 345.80L1884.00 284.10L1928.00 143.10" stroke="#ff0000" stroke-width="1.9" fill="none" stroke-linejoin="round"/>
<circle cx="1708.00" cy="374.00" r="6.8" fill="#ff0000"/>
<circle cx="1752.00" cy="361.40" r="6.8" fill="#ff0000"/>
<circle cx="1796.00" cy="368.00" r="6.8" fill="#ff0000"/>
<circle cx="1840.00" cy="345.80" r="6.8" fill="#ff0000"/>
<circle cx="1884.00" cy="284.10" r="6.8" fill="#ff0000"/>
<circle cx="1928.00" cy="143.10" r="6.8" fill="#ff0000"/>
<line x1="1840.00" y1="357.00" x2="1840.00" y2="370.00" stroke="#00ff00" stroke-width="1.9" stroke-linecap="butt"/>
<line x1="1832.80" y1="357.00" x2="1847.20" y2="357.00" stroke="#00ff00" stroke-width="1.9" stroke-linecap="butt"/>
<line x1="1832.80" y1="370.00" x2="1847.20" y2="370.00" stroke="#00ff00" stroke-width="1.9" stroke-linecap="butt"/>
<line x1="1884.00" y1="332.60" x2="1884.00" y2="352.70" stroke="#00ff00" stroke-width="1.9" stroke-linecap="butt"/>
<line x1="1876.80" y1="332.60" x2="1891.20" y2="332.60" stroke="#00ff00" stroke-width="1.9" stroke-linecap="butt"/>
<line x1="1876.80" y1="352.70" x2="1891.20" y2="352.70" stroke="#00ff00" stroke-width="1.9" stroke-linecap="butt"/>
<line x1="1928.00" y1="271.00" x2="1928.00" y2="324.60" stroke="#00ff00" stroke-width="1.9" stroke-linecap="butt"/>
<line x1="1920.80" y1="271.00" x2="1935.20" y2="271.00" stroke="#00ff00" stroke-width="1.9" stroke-linecap="butt"/>
<line x1="1920.80" y1="324.60" x2="1935.20" y2="324.60" stroke="#00ff00" stroke-width="1.9" stroke-linecap="butt"/>
<path d="M1708.00 373.50L1752.00 373.00L1796.00 371.40L1840.00 363.80L1884.00 342.30L1928.00 298.00" stroke="#00ff00" stroke-width="1.9" fill="none" stroke-linejoin="round"/>
<rect x="1701.20" y="366.70" width="13.6" height="13.6" fill="#00ff00"/>
<rect x="1745.20" y="366.20" width="13.6" height="13.6" fill="#00ff00"/>
<rect x="1789.20" y="364.60" width="13.6" height="13.6" fill="#00ff00"/>
<rect x="1833.20" y="357.00" width="13.6" height="13.6" fill="#00ff00"/>
<rect x="1877.20" y="335.50" width="13.6" height="13.6" fill="#00ff00"/>
<rect x="1921.20" y="291.20" width="13.6" height="13.6" fill="#00ff00"/>
<line x1="1840.00" y1="349.00" x2="1840.00" y2="361.00" stroke="#0000ff" stroke-width="1.9" stroke-linecap="butt"/>
<line x1="1832.80" y1="349.00" x2="1847.20" y2="349.00" stroke="#0000ff" stroke-width="1.9" stroke-linecap="butt"/>
<line x1="1832.80" y1="361.00" x2="1847.20" y2="361.00" stroke="#0000ff" stroke-width="1.9" stroke-linecap="butt"/>
<line x1="1884.00" y1="304.20" x2="1884.00" y2="329.10" stroke="#0000ff" stroke-width="1.9" stroke-linecap="butt"/>
<line x1="1876.80" y1="304.20" x2="1891.20" y2="304.20" stroke="#0000ff" stroke-width="1.9" stroke-linecap="butt"/>
<line x1="1876.80" y1="329.10" x2="1891.20" y2="329.10" stroke="#0000ff" stroke-width="1.9" stroke-linecap="butt"/>
<line x1="1928.00" y1="239.00" x2="1928.00" y2="270.20" stroke="#0000ff" stroke-width="1.9" stroke-linecap="butt"/>
<line x1="1920.80" y1="239.00" x2="1935.20" y2="239.00" stroke="#0000ff" stroke-width="1.9" stroke-linecap="butt"/>
<line x1="1920.80" y1="270.20" x2="1935.20" y2="270.20" stroke="#0000ff" stroke-width="1.9" stroke-linecap="butt"/>
<path d="M1752.00 370.00L1796.00 361.40L1840.00 355.10L1884.00 318.00L1928.00 255.70" stroke="#0000ff" stroke-width="1.9" fill="none" stroke-linejoin="round"/>
<path d="M1744.60 375.92L1752.00 362.60L1759.40 375.92Z" fill="#0000ff"/>
<path d="M1788.60 367.32L1796.00 354.00L1803.40 367.32Z" fill="#0000ff"/>
<path d="M1832.60 361.02L1840.00 347.70L1847.40 361.02Z" fill="#0000ff"/>
<path d="M1876.60 323.92L1884.00 310.60L1891.40 323.92Z" fill="#0000ff"/>
<path d="M1920.60 261.62L1928.00 248.30L1935.40 261.62Z" fill="#0000ff"/>
<line x1="1697.40" y1="89.00" x2="1726.80" y2="89.00" stroke="#ff0000" stroke-width="1.9" stroke-linecap="butt"/>
<circle cx="1712.10" cy="89.00" r="6.8" fill="#ff0000"/>
<text x="1734.80" y="98.40" font-size="26" text-anchor="start" fill="#000">Ctrl</text>
<line x1="1697.40" y1="123.70" x2="1726.80" y2="123.70" stroke="#00ff00" stroke-width="1.9" stroke-linecap="butt"/>
<rect x="1705.30" y="116.90" width="13.6" height="13.6" fill="#00ff00"/>
<text x="1734.80" y="133.10" font-size="26" text-anchor="start" fill="#000">DLL1-KD1</text>
<line x1="1697.40" y1="159.40" x2="1726.80" y2="159.40" stroke="#0000ff" stroke-width="1.9" stroke-linecap="butt"/>
<path d="M1704.70 165.32L1712.10 152.00L1719.50 165.32Z" fill="#0000ff"/>
<text x="1734.80" y="168.80" font-size="26" text-anchor="start" fill="#000">DLL1-KD2</text>
<text transform="translate(1927.80 105.30) scale(1 0.88)" font-size="32" font-weight="bold" text-anchor="middle">***</text>
<line x1="808.10" y1="583.45" x2="808.10" y2="834.35" stroke="#000" stroke-width="1.7" stroke-linecap="butt"/>
<line x1="798.00" y1="833.50" x2="1059.65" y2="833.50" stroke="#000" stroke-width="1.7" stroke-linecap="butt"/>
<line x1="798.00" y1="771.20" x2="808.10" y2="771.20" stroke="#000" stroke-width="1.7" stroke-linecap="butt"/>
<text x="787.50" y="780.40" font-size="26" text-anchor="end" fill="#000">2x10<tspan font-size="17" dy="-8.5">7</tspan></text>
<line x1="798.00" y1="708.90" x2="808.10" y2="708.90" stroke="#000" stroke-width="1.7" stroke-linecap="butt"/>
<text x="787.50" y="718.10" font-size="26" text-anchor="end" fill="#000">4x10<tspan font-size="17" dy="-8.5">7</tspan></text>
<line x1="798.00" y1="646.60" x2="808.10" y2="646.60" stroke="#000" stroke-width="1.7" stroke-linecap="butt"/>
<text x="787.50" y="655.80" font-size="26" text-anchor="end" fill="#000">6x10<tspan font-size="17" dy="-8.5">7</tspan></text>
<line x1="798.00" y1="584.30" x2="808.10" y2="584.30" stroke="#000" stroke-width="1.7" stroke-linecap="butt"/>
<text x="787.50" y="593.50" font-size="26" text-anchor="end" fill="#000">8x10<tspan font-size="17" dy="-8.5">7</tspan></text>
<text x="787.80" y="842.70" font-size="26" text-anchor="end" fill="#000">0.0</text>
<line x1="808.10" y1="833.50" x2="808.10" y2="843.70" stroke="#000" stroke-width="1.7" stroke-linecap="butt"/>
<line x1="891.40" y1="833.50" x2="891.40" y2="843.70" stroke="#000" stroke-width="1.7" stroke-linecap="butt"/>
<line x1="974.90" y1="833.50" x2="974.90" y2="843.70" stroke="#000" stroke-width="1.7" stroke-linecap="butt"/>
<line x1="1058.50" y1="833.50" x2="1058.50" y2="843.70" stroke="#000" stroke-width="1.7" stroke-linecap="butt"/>
<text x="848.70" y="866.70" font-size="26" text-anchor="middle" fill="#000">Ctrl</text>
<text x="933.30" y="866.70" font-size="26" text-anchor="middle" fill="#000">DLL1</text>
<text x="933.30" y="897.10" font-size="26" text-anchor="middle" fill="#000">KD1</text>
<text x="1017.50" y="866.70" font-size="26" text-anchor="middle" fill="#000">DLL1</text>
<text x="1018.00" y="897.10" font-size="26" text-anchor="middle" fill="#000">KD2</text>
<text x="695.10" y="716.00" font-size="26" text-anchor="middle" fill="#000" transform="rotate(-90 695.10 716.00)">Total Flux [p/s]</text>
<rect x="821.70" y="659.60" width="55.10" height="170.50" fill="none" stroke="#000" stroke-width="1.5"/>
<line x1="821.70" y1="767.50" x2="876.80" y2="767.50" stroke="#000" stroke-width="1.5" stroke-linecap="butt"/>
<line x1="849.20" y1="643.40" x2="849.20" y2="659.60" stroke="#000" stroke-width="1.5" stroke-linecap="butt"/>
<line x1="835.20" y1="643.40" x2="863.30" y2="643.40" stroke="#000" stroke-width="1.5" stroke-linecap="butt"/>
<line x1="835.20" y1="831.80" x2="863.30" y2="831.80" stroke="#000" stroke-width="1.5" stroke-linecap="butt"/>
<rect x="905.60" y="804.40" width="55.10" height="28.40" fill="none" stroke="#000" stroke-width="1.5"/>
<line x1="905.60" y1="829.10" x2="960.70" y2="829.10" stroke="#000" stroke-width="1.5" stroke-linecap="butt"/>
<rect x="989.10" y="831.50" width="55.90" height="1.60" fill="none" stroke="#000" stroke-width="1.5"/>
<line x1="1017.00" y1="828.80" x2="1017.00" y2="831.50" stroke="#000" stroke-width="1.5" stroke-linecap="butt"/>
<line x1="1003.70" y1="828.80" x2="1030.70" y2="828.80" stroke="#000" stroke-width="1.5" stroke-linecap="butt"/>
<path d="M849.1 601.1V587.9H973.9V655.6M932 686.7V655.6H1015.8V686.7" stroke="#000" stroke-width="1.5" fill="none"/>
<text transform="translate(911.00 580.60) scale(1 0.88)" font-size="32" font-weight="bold" text-anchor="middle">***</text>
<line x1="1654.00" y1="574.65" x2="1654.00" y2="835.55" stroke="#000" stroke-width="1.7" stroke-linecap="butt"/>
<line x1="1643.70" y1="834.70" x2="1948.55" y2="834.70" stroke="#000" stroke-width="1.7" stroke-linecap="butt"/>
<text x="1635.50" y="843.90" font-size="26" text-anchor="end" fill="#000">0</text>
<line x1="1643.70" y1="748.30" x2="1654.00" y2="748.30" stroke="#000" stroke-width="1.7" stroke-linecap="butt"/>
<text x="1635.50" y="757.50" font-size="26" text-anchor="end" fill="#000">100</text>
<line x1="1643.70" y1="661.90" x2="1654.00" y2="661.90" stroke="#000" stroke-width="1.7" stroke-linecap="butt"/>
<text x="1635.50" y="671.10" font-size="26" text-anchor="end" fill="#000">200</text>
<line x1="1643.70" y1="575.50" x2="1654.00" y2="575.50" stroke="#000" stroke-width="1.7" stroke-linecap="butt"/>
<text x="1635.50" y="584.70" font-size="26" text-anchor="end" fill="#000">300</text>
<line x1="1654.00" y1="834.70" x2="1654.00" y2="845.50" stroke="#000" stroke-width="1.7" stroke-linecap="butt"/>
<line x1="1683.35" y1="834.70" x2="1683.35" y2="845.50" stroke="#000" stroke-width="1.7" stroke-linecap="butt"/>
<line x1="1712.70" y1="834.70" x2="1712.70" y2="845.50" stroke="#000" stroke-width="1.7" stroke-linecap="butt"/>
<line x1="1742.05" y1="834.70" x2="1742.05" y2="845.50" stroke="#000" stroke-width="1.7" stroke-linecap="butt"/>
<line x1="1771.40" y1="834.70" x2="1771.40" y2="845.50" stroke="#000" stroke-width="1.7" stroke-linecap="butt"/>
<line x1="1800.75" y1="834.70" x2="1800.75" y2="845.50" stroke="#000" stroke-width="1.7" stroke-linecap="butt"/>
<line x1="1830.10" y1="834.70" x2="1830.10" y2="845.50" stroke="#000" stroke-width="1.7" stroke-linecap="butt"/>
<line x1="1859.45" y1="834.70" x2="1859.45" y2="845.50" stroke="#000" stroke-width="1.7" stroke-linecap="butt"/>
<line x1="1888.80" y1="834.70" x2="1888.80" y2="845.50" stroke="#000" stroke-width="1.7" stroke-linecap="butt"/>
<line x1="1918.15" y1="834.70" x2="1918.15" y2="845.50" stroke="#000" stroke-width="1.7" stroke-linecap="butt"/>
<line x1="1947.50" y1="834.70" x2="1947.50" y2="845.50" stroke="#000" stroke-width="1.7" stroke-linecap="butt"/>
<text x="1668.67" y="870.10" font-size="26" text-anchor="middle" fill="#000">1</text>
<text x="1698.03" y="870.10" font-size="26" text-anchor="middle" fill="#000">2</text>
<text x="1727.38" y="870.10" font-size="26" text-anchor="middle" fill="#000">3</text>
<text x="1756.72" y="870.10" font-size="26" text-anchor="middle" fill="#000">4</text>
<text x="1786.08" y="870.10" font-size="26" text-anchor="middle" fill="#000">5</text>
<text x="1815.42" y="870.10" font-size="26" text-anchor="middle" fill="#000">6</text>
<text x="1844.78" y="870.10" font-size="26" text-anchor="middle" fill="#000">7</text>
<text x="1874.12" y="870.10" font-size="26" text-anchor="middle" fill="#000">8</text>
<text x="1903.47" y="870.10" font-size="26" text-anchor="middle" fill="#000">9</text>
<text x="1932.83" y="870.10" font-size="26" text-anchor="middle" fill="#000">10</text>
<text x="1806.80" y="895.00" font-size="26" text-anchor="middle" fill="#000">Weeks</text>
<text x="1581.40" y="705.40" font-size="26" text-anchor="middle" fill="#000" transform="rotate(-90 1581.40 705.40)">Tumor volume (mm<tspan font-size="17" dy="-8.5">3</tspan><tspan dy="8.5">)</tspan></text>
<line x1="1903.47" y1="799.20" x2="1903.47" y2="819.70" stroke="#ff0000" stroke-width="1.9" stroke-linecap="butt"/>
<line x1="1896.27" y1="799.20" x2="1910.67" y2="799.20" stroke="#ff0000" stroke-width="1.9" stroke-linecap="butt"/>
<line x1="1896.27" y1="819.70" x2="1910.67" y2="819.70" stroke="#ff0000" stroke-width="1.9" stroke-linecap="butt"/>
<line x1="1932.83" y1="775.70" x2="1932.83" y2="800.20" stroke="#ff0000" stroke-width="1.9" stroke-linecap="butt"/>
<line x1="1925.62" y1="775.70" x2="1940.03" y2="775.70" stroke="#ff0000" stroke-width="1.9" stroke-linecap="butt"/>
<line x1="1925.62" y1="800.20" x2="1940.03" y2="800.20" stroke="#ff0000" stroke-width="1.9" stroke-linecap="butt"/>
<path d="M1668.67 834.00L1698.03 834.00L1727.38 835.00L1756.72 834.00L1786.08 833.70L1815.42 833.70L1844.78 830.70L1874.12 824.70L1903.47 809.80L1932.83 788.90" stroke="#ff0000" stroke-width="1.9" fill="none" stroke-linejoin="round"/>
<circle cx="1668.67" cy="834.00" r="6.8" fill="#ff0000"/>
<circle cx="1698.03" cy="834.00" r="6.8" fill="#ff0000"/>
<circle cx="1727.38" cy="835.00" r="6.8" fill="#ff0000"/>
<circle cx="1756.72" cy="834.00" r="6.8" fill="#ff0000"/>
<circle cx="1786.08" cy="833.70" r="6.8" fill="#ff0000"/>
<circle cx="1815.42" cy="833.70" r="6.8" fill="#ff0000"/>
<circle cx="1844.78" cy="830.70" r="6.8" fill="#ff0000"/>
<circle cx="1874.12" cy="824.70" r="6.8" fill="#ff0000"/>
<circle cx="1903.47" cy="809.80" r="6.8" fill="#ff0000"/>
<circle cx="1932.83" cy="788.90" r="6.8" fill="#ff0000"/>
<line x1="1844.78" y1="783.30" x2="1844.78" y2="804.20" stroke="#00ff00" stroke-width="1.9" stroke-linecap="butt"/>
<line x1="1837.58" y1="783.30" x2="1851.98" y2="783.30" stroke="#00ff00" stroke-width="1.9" stroke-linecap="butt"/>
<line x1="1837.58" y1="804.20" x2="1851.98" y2="804.20" stroke="#00ff00" stroke-width="1.9" stroke-linecap="butt"/>
<line x1="1874.12" y1="738.50" x2="1874.12" y2="779.30" stroke="#00ff00" stroke-width="1.9" stroke-linecap="butt"/>
<line x1="1866.92" y1="738.50" x2="1881.33" y2="738.50" stroke="#00ff00" stroke-width="1.9" stroke-linecap="butt"/>
<line x1="1866.92" y1="779.30" x2="1881.33" y2="779.30" stroke="#00ff00" stroke-width="1.9" stroke-linecap="butt"/>
<line x1="1903.47" y1="650.40" x2="1903.47" y2="742.20" stroke="#00ff00" stroke-width="1.9" stroke-linecap="butt"/>
<line x1="1896.27" y1="650.40" x2="1910.67" y2="650.40" stroke="#00ff00" stroke-width="1.9" stroke-linecap="butt"/>
<line x1="1896.27" y1="742.20" x2="1910.67" y2="742.20" stroke="#00ff00" stroke-width="1.9" stroke-linecap="butt"/>
<line x1="1932.83" y1="610.90" x2="1932.83" y2="672.90" stroke="#00ff00" stroke-width="1.9" stroke-linecap="butt"/>
<line x1="1925.62" y1="610.90" x2="1940.03" y2="610.90" stroke="#00ff00" stroke-width="1.9" stroke-linecap="butt"/>
<line x1="1925.62" y1="672.90" x2="1940.03" y2="672.90" stroke="#00ff00" stroke-width="1.9" stroke-linecap="butt"/>
<path d="M1668.67 834.00L1698.03 833.30L1727.38 831.30L1756.72 820.40L1786.08 818.70L1815.42 812.80L1844.78 793.90L1874.12 759.40L1903.47 696.40L1932.83 642.40" stroke="#00ff00" stroke-width="1.9" fill="none" stroke-linejoin="round"/>
<rect x="1661.88" y="827.20" width="13.6" height="13.6" fill="#00ff00"/>
<rect x="1691.23" y="826.50" width="13.6" height="13.6" fill="#00ff00"/>
<rect x="1720.58" y="824.50" width="13.6" height="13.6" fill="#00ff00"/>
<rect x="1749.92" y="813.60" width="13.6" height="13.6" fill="#00ff00"/>
<rect x="1779.28" y="811.90" width="13.6" height="13.6" fill="#00ff00"/>
<rect x="1808.62" y="806.00" width="13.6" height="13.6" fill="#00ff00"/>
<rect x="1837.98" y="787.10" width="13.6" height="13.6" fill="#00ff00"/>
<rect x="1867.33" y="752.60" width="13.6" height="13.6" fill="#00ff00"/>
<rect x="1896.67" y="689.60" width="13.6" height="13.6" fill="#00ff00"/>
<rect x="1926.03" y="635.60" width="13.6" height="13.6" fill="#00ff00"/>
<line x1="1684.20" y1="593.40" x2="1715.70" y2="593.40" stroke="#ff0000" stroke-width="1.9" stroke-linecap="butt"/>
<circle cx="1699.95" cy="593.40" r="6.8" fill="#ff0000"/>
<text x="1727.90" y="602.80" font-size="26" text-anchor="start" fill="#000">Ctrl</text>
<line x1="1684.20" y1="623.20" x2="1715.70" y2="623.20" stroke="#00ff00" stroke-width="1.9" stroke-linecap="butt"/>
<rect x="1693.15" y="616.40" width="13.6" height="13.6" fill="#00ff00"/>
<text x="1727.90" y="632.60" font-size="26" text-anchor="start" fill="#000">DLL1-OE</text>
<text transform="translate(1873.80 740.40) scale(1 0.88)" font-size="32" font-weight="bold" text-anchor="middle">**</text>
<text transform="translate(1898.00 652.50) scale(1 0.88)" font-size="32" font-weight="bold" text-anchor="middle">***</text>
<text transform="translate(1933.40 613.80) scale(1 0.88)" font-size="32" font-weight="bold" text-anchor="middle">***</text>
<line x1="901.00" y1="1010.05" x2="901.00" y2="1263.45" stroke="#000" stroke-width="1.7" stroke-linecap="butt"/>
<line x1="891.20" y1="1262.60" x2="1140.25" y2="1262.60" stroke="#000" stroke-width="1.7" stroke-linecap="butt"/>
<text x="885.50" y="1271.80" font-size="26" text-anchor="end" fill="#000">0.0</text>
<line x1="891.20" y1="1212.26" x2="901.00" y2="1212.26" stroke="#000" stroke-width="1.7" stroke-linecap="butt"/>
<text x="885.50" y="1221.46" font-size="26" text-anchor="end" fill="#000">5.0x10<tspan font-size="17" dy="-8.5">08</tspan></text>
<line x1="891.20" y1="1161.92" x2="901.00" y2="1161.92" stroke="#000" stroke-width="1.7" stroke-linecap="butt"/>
<text x="885.50" y="1171.12" font-size="26" text-anchor="end" fill="#000">1.0x10<tspan font-size="17" dy="-8.5">09</tspan></text>
<line x1="891.20" y1="1111.58" x2="901.00" y2="1111.58" stroke="#000" stroke-width="1.7" stroke-linecap="butt"/>
<text x="885.50" y="1120.78" font-size="26" text-anchor="end" fill="#000">1.5x10<tspan font-size="17" dy="-8.5">09</tspan></text>
<line x1="891.20" y1="1061.24" x2="901.00" y2="1061.24" stroke="#000" stroke-width="1.7" stroke-linecap="butt"/>
<text x="885.50" y="1070.44" font-size="26" text-anchor="end" fill="#000">2.0x10<tspan font-size="17" dy="-8.5">09</tspan></text>
<line x1="891.20" y1="1010.90" x2="901.00" y2="1010.90" stroke="#000" stroke-width="1.7" stroke-linecap="butt"/>
<text x="885.50" y="1020.10" font-size="26" text-anchor="end" fill="#000">2.5x10<tspan font-size="17" dy="-8.5">09</tspan></text>
<line x1="901.00" y1="1262.60" x2="901.00" y2="1273.50" stroke="#000" stroke-width="1.7" stroke-linecap="butt"/>
<line x1="940.70" y1="1262.60" x2="940.70" y2="1273.50" stroke="#000" stroke-width="1.7" stroke-linecap="butt"/>
<line x1="980.40" y1="1262.60" x2="980.40" y2="1273.50" stroke="#000" stroke-width="1.7" stroke-linecap="butt"/>
<line x1="1020.10" y1="1262.60" x2="1020.10" y2="1273.50" stroke="#000" stroke-width="1.7" stroke-linecap="butt"/>
<line x1="1059.80" y1="1262.60" x2="1059.80" y2="1273.50" stroke="#000" stroke-width="1.7" stroke-linecap="butt"/>
<line x1="1099.50" y1="1262.60" x2="1099.50" y2="1273.50" stroke="#000" stroke-width="1.7" stroke-linecap="butt"/>
<line x1="1139.20" y1="1262.60" x2="1139.20" y2="1273.50" stroke="#000" stroke-width="1.7" stroke-linecap="butt"/>
<text x="920.85" y="1295.40" font-size="26" text-anchor="middle" fill="#000">0</text>
<text x="960.55" y="1295.40" font-size="26" text-anchor="middle" fill="#000">2</text>
<text x="1000.25" y="1295.40" font-size="26" text-anchor="middle" fill="#000">4</text>
<text x="1039.95" y="1295.40" font-size="26" text-anchor="middle" fill="#000">6</text>
<text x="1079.65" y="1295.40" font-size="26" text-anchor="middle" fill="#000">8</text>
<text x="1119.35" y="1295.40" font-size="26" text-anchor="middle" fill="#000">10</text>
<text x="1028.80" y="1322.10" font-size="26" text-anchor="middle" fill="#000">Weeks</text>
<text x="773.20" y="1128.20" font-size="26" text-anchor="middle" fill="#000" transform="rotate(-90 773.20 1128.20)">Total Flux [p/s]</text>
<line x1="1039.95" y1="1236.50" x2="1039.95" y2="1247.20" stroke="#ff0000" stroke-width="1.9" stroke-linecap="butt"/>
<line x1="1033.95" y1="1236.50" x2="1045.95" y2="1236.50" stroke="#ff0000" stroke-width="1.9" stroke-linecap="butt"/>
<line x1="1033.95" y1="1247.20" x2="1045.95" y2="1247.20" stroke="#ff0000" stroke-width="1.9" stroke-linecap="butt"/>
<line x1="1079.65" y1="1227.20" x2="1079.65" y2="1239.50" stroke="#ff0000" stroke-width="1.9" stroke-linecap="butt"/>
<line x1="1073.65" y1="1227.20" x2="1085.65" y2="1227.20" stroke="#ff0000" stroke-width="1.9" stroke-linecap="butt"/>
<line x1="1073.65" y1="1239.50" x2="1085.65" y2="1239.50" stroke="#ff0000" stroke-width="1.9" stroke-linecap="butt"/>
<line x1="1119.35" y1="1149.80" x2="1119.35" y2="1191.00" stroke="#ff0000" stroke-width="1.9" stroke-linecap="butt"/>
<line x1="1113.35" y1="1149.80" x2="1125.35" y2="1149.80" stroke="#ff0000" stroke-width="1.9" stroke-linecap="butt"/>
<line x1="1113.35" y1="1191.00" x2="1125.35" y2="1191.00" stroke="#ff0000" stroke-width="1.9" stroke-linecap="butt"/>
<path d="M920.85 1262.00L960.55 1258.60L1000.25 1258.00L1039.95 1241.70L1079.65 1233.40L1119.35 1171.00" stroke="#ff0000" stroke-width="1.9" fill="none" stroke-linejoin="round"/>
<circle cx="920.85" cy="1262.00" r="6.8" fill="#ff0000"/>
<circle cx="960.55" cy="1258.60" r="6.8" fill="#ff0000"/>
<circle cx="1000.25" cy="1258.00" r="6.8" fill="#ff0000"/>
<circle cx="1039.95" cy="1241.70" r="6.8" fill="#ff0000"/>
<circle cx="1079.65" cy="1233.40" r="6.8" fill="#ff0000"/>
<circle cx="1119.35" cy="1171.00" r="6.8" fill="#ff0000"/>
<line x1="1000.25" y1="1222.00" x2="1000.25" y2="1240.50" stroke="#00ff00" stroke-width="1.9" stroke-linecap="butt"/>
<line x1="994.25" y1="1222.00" x2="1006.25" y2="1222.00" stroke="#00ff00" stroke-width="1.9" stroke-linecap="butt"/>
<line x1="994.25" y1="1240.50" x2="1006.25" y2="1240.50" stroke="#00ff00" stroke-width="1.9" stroke-linecap="butt"/>
<line x1="1039.95" y1="1193.40" x2="1039.95" y2="1217.40" stroke="#00ff00" stroke-width="1.9" stroke-linecap="butt"/>
<line x1="1033.95" y1="1193.40" x2="1045.95" y2="1193.40" stroke="#00ff00" stroke-width="1.9" stroke-linecap="butt"/>
<line x1="1033.95" y1="1217.40" x2="1045.95" y2="1217.40" stroke="#00ff00" stroke-width="1.9" stroke-linecap="butt"/>
<line x1="1079.65" y1="1174.10" x2="1079.65" y2="1201.10" stroke="#00ff00" stroke-width="1.9" stroke-linecap="butt"/>
<line x1="1073.65" y1="1174.10" x2="1085.65" y2="1174.10" stroke="#00ff00" stroke-width="1.9" stroke-linecap="butt"/>
<line x1="1073.65" y1="1201.10" x2="1085.65" y2="1201.10" stroke="#00ff00" stroke-width="1.9" stroke-linecap="butt"/>
<line x1="1119.35" y1="1055.20" x2="1119.35" y2="1081.90" stroke="#00ff00" stroke-width="1.9" stroke-linecap="butt"/>
<line x1="1113.35" y1="1055.20" x2="1125.35" y2="1055.20" stroke="#00ff00" stroke-width="1.9" stroke-linecap="butt"/>
<line x1="1113.35" y1="1081.90" x2="1125.35" y2="1081.90" stroke="#00ff00" stroke-width="1.9" stroke-linecap="butt"/>
<path d="M920.85 1262.00L960.55 1250.30L1000.25 1231.50L1039.95 1206.30L1079.65 1187.90L1119.35 1069.60" stroke="#00ff00" stroke-width="1.9" fill="none" stroke-linejoin="round"/>
<rect x="914.05" y="1255.20" width="13.6" height="13.6" fill="#00ff00"/>
<rect x="953.75" y="1243.50" width="13.6" height="13.6" fill="#00ff00"/>
<rect x="993.45" y="1224.70" width="13.6" height="13.6" fill="#00ff00"/>
<rect x="1033.15" y="1199.50" width="13.6" height="13.6" fill="#00ff00"/>
<rect x="1072.85" y="1181.10" width="13.6" height="13.6" fill="#00ff00"/>
<rect x="1112.55" y="1062.80" width="13.6" height="13.6" fill="#00ff00"/>
<line x1="929.90" y1="1036.10" x2="956.60" y2="1036.10" stroke="#ff0000" stroke-width="1.9" stroke-linecap="butt"/>
<circle cx="943.25" cy="1036.10" r="6.8" fill="#ff0000"/>
<text x="963.70" y="1045.50" font-size="26" text-anchor="start" fill="#000">Ctrl</text>
<line x1="929.90" y1="1064.40" x2="956.60" y2="1064.40" stroke="#00ff00" stroke-width="1.9" stroke-linecap="butt"/>
<rect x="936.45" y="1057.60" width="13.6" height="13.6" fill="#00ff00"/>
<text x="963.70" y="1073.80" font-size="26" text-anchor="start" fill="#000">DLL1-OE</text>
<text transform="translate(1077.00 1171.40) scale(1 0.88)" font-size="32" font-weight="bold" text-anchor="middle">*</text>
<text transform="translate(1118.80 1053.70) scale(1 0.88)" font-size="32" font-weight="bold" text-anchor="middle">***</text>
<line x1="1781.70" y1="1013.00" x2="1781.70" y2="1264.95" stroke="#000" stroke-width="1.7" stroke-linecap="butt"/>
<line x1="1770.60" y1="1264.10" x2="1949.65" y2="1264.10" stroke="#000" stroke-width="1.7" stroke-linecap="butt"/>
<line x1="1770.60" y1="1214.05" x2="1781.70" y2="1214.05" stroke="#000" stroke-width="1.7" stroke-linecap="butt"/>
<text x="1761.00" y="1223.25" font-size="26" text-anchor="end" fill="#000">1x10<tspan font-size="17" dy="-8.5">6</tspan></text>
<line x1="1770.60" y1="1164.00" x2="1781.70" y2="1164.00" stroke="#000" stroke-width="1.7" stroke-linecap="butt"/>
<text x="1761.00" y="1173.20" font-size="26" text-anchor="end" fill="#000">2x10<tspan font-size="17" dy="-8.5">6</tspan></text>
<line x1="1770.60" y1="1113.95" x2="1781.70" y2="1113.95" stroke="#000" stroke-width="1.7" stroke-linecap="butt"/>
<text x="1761.00" y="1123.15" font-size="26" text-anchor="end" fill="#000">3x10<tspan font-size="17" dy="-8.5">6</tspan></text>
<line x1="1770.60" y1="1063.90" x2="1781.70" y2="1063.90" stroke="#000" stroke-width="1.7" stroke-linecap="butt"/>
<text x="1761.00" y="1073.10" font-size="26" text-anchor="end" fill="#000">4x10<tspan font-size="17" dy="-8.5">6</tspan></text>
<line x1="1770.60" y1="1013.85" x2="1781.70" y2="1013.85" stroke="#000" stroke-width="1.7" stroke-linecap="butt"/>
<text x="1761.00" y="1023.05" font-size="26" text-anchor="end" fill="#000">5x10<tspan font-size="17" dy="-8.5">6</tspan></text>
<text x="1761.40" y="1273.30" font-size="26" text-anchor="end" fill="#000">0</text>
<line x1="1781.70" y1="1264.10" x2="1781.70" y2="1273.40" stroke="#000" stroke-width="1.7" stroke-linecap="butt"/>
<line x1="1865.00" y1="1264.10" x2="1865.00" y2="1273.40" stroke="#000" stroke-width="1.7" stroke-linecap="butt"/>
<line x1="1948.50" y1="1264.10" x2="1948.50" y2="1273.40" stroke="#000" stroke-width="1.7" stroke-linecap="butt"/>
<text x="1823.20" y="1297.10" font-size="26" text-anchor="middle" fill="#000">Ctrl</text>
<text x="1908.30" y="1297.10" font-size="26" text-anchor="middle" fill="#000">DLL1</text>
<text x="1908.60" y="1325.70" font-size="26" text-anchor="middle" fill="#000">OE</text>
<text x="1676.30" y="1142.00" font-size="26" text-anchor="middle" fill="#000" transform="rotate(-90 1676.30 1142.00)">Total Flux [p/s]</text>
<rect x="1796.10" y="1170.50" width="55.60" height="65.10" fill="none" stroke="#000" stroke-width="1.5"/>
<line x1="1796.10" y1="1215.90" x2="1851.70" y2="1215.90" stroke="#000" stroke-width="1.5" stroke-linecap="butt"/>
<line x1="1810.60" y1="1168.90" x2="1837.60" y2="1168.90" stroke="#000" stroke-width="2.2" stroke-linecap="butt"/>
<line x1="1810.60" y1="1236.40" x2="1837.60" y2="1236.40" stroke="#000" stroke-width="2.2" stroke-linecap="butt"/>
<rect x="1879.70" y="1042.00" width="55.30" height="59.30" fill="none" stroke="#000" stroke-width="1.5"/>
<line x1="1879.70" y1="1093.60" x2="1935.00" y2="1093.60" stroke="#000" stroke-width="1.5" stroke-linecap="butt"/>
<line x1="1893.50" y1="1040.50" x2="1920.60" y2="1040.50" stroke="#000" stroke-width="2.2" stroke-linecap="butt"/>
<line x1="1893.50" y1="1103.00" x2="1920.60" y2="1103.00" stroke="#000" stroke-width="2.2" stroke-linecap="butt"/>
<path d="M1824.4 1080.4V1011.6H1909.8V1028.2" stroke="#000" stroke-width="1.5" fill="none"/>
<text transform="translate(1867.10 1000.90) scale(1 0.88)" font-size="32" font-weight="bold" text-anchor="middle">*</text>
</svg>
</body></html>
